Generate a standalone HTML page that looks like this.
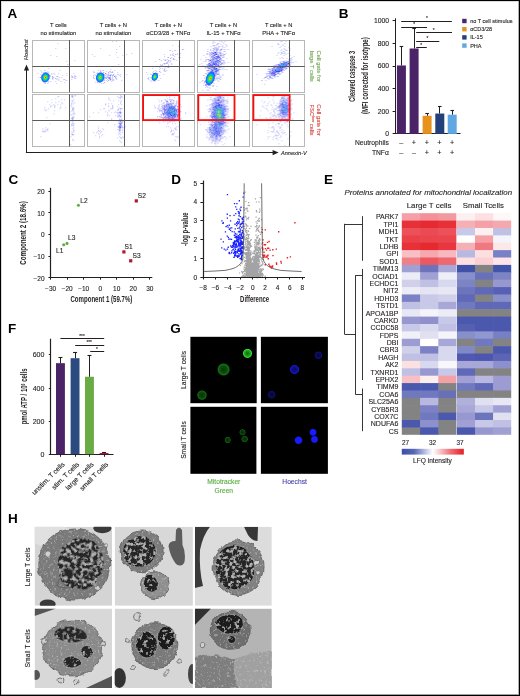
<!DOCTYPE html>
<html><head><meta charset="utf-8"><style>
html,body{margin:0;padding:0;background:#fff;}
body{width:520px;height:696px;overflow:hidden;position:relative;font-family:"Liberation Sans", sans-serif;}
svg{position:absolute;left:0;top:0;display:block;will-change:transform;}
</style></head><body><svg width="520" height="696" viewBox="0 0 520 696" font-family="Liberation Sans, sans-serif"><defs><filter id="sb" x="-2%" y="-2%" width="104%" height="104%"><feGaussianBlur stdDeviation="0.35"/></filter><radialGradient id="bg1"><stop offset="0.00" stop-color="#e61e14" stop-opacity="1.00"/><stop offset="0.10" stop-color="#f9a700" stop-opacity="1.00"/><stop offset="0.20" stop-color="#c6e500" stop-opacity="1.00"/><stop offset="0.30" stop-color="#46e130" stop-opacity="1.00"/><stop offset="0.40" stop-color="#11db7a" stop-opacity="1.00"/><stop offset="0.50" stop-color="#00c8bc" stop-opacity="1.00"/><stop offset="0.60" stop-color="#00a7e8" stop-opacity="1.00"/><stop offset="0.70" stop-color="#0483ff" stop-opacity="1.00"/><stop offset="0.80" stop-color="#0f5eff" stop-opacity="0.90"/><stop offset="0.90" stop-color="#173eff" stop-opacity="0.45"/><stop offset="1.00" stop-color="#1e28ff" stop-opacity="0.00"/></radialGradient><radialGradient id="bg2"><stop offset="0.00" stop-color="#ed530c" stop-opacity="1.00"/><stop offset="0.10" stop-color="#e8be00" stop-opacity="1.00"/><stop offset="0.20" stop-color="#9ee40f" stop-opacity="1.00"/><stop offset="0.30" stop-color="#27e03d" stop-opacity="1.00"/><stop offset="0.40" stop-color="#0ad98d" stop-opacity="1.00"/><stop offset="0.50" stop-color="#00c2c5" stop-opacity="1.00"/><stop offset="0.60" stop-color="#00a2ee" stop-opacity="1.00"/><stop offset="0.70" stop-color="#067fff" stop-opacity="1.00"/><stop offset="0.80" stop-color="#0f5bff" stop-opacity="0.90"/><stop offset="0.90" stop-color="#183cff" stop-opacity="0.45"/><stop offset="1.00" stop-color="#1e28ff" stop-opacity="0.00"/></radialGradient><radialGradient id="bg3"><stop offset="0.00" stop-color="#f58904" stop-opacity="1.00"/><stop offset="0.10" stop-color="#d6d400" stop-opacity="1.00"/><stop offset="0.20" stop-color="#76e31e" stop-opacity="1.00"/><stop offset="0.30" stop-color="#1ede54" stop-opacity="1.00"/><stop offset="0.40" stop-color="#03d7a0" stop-opacity="1.00"/><stop offset="0.50" stop-color="#00bbcd" stop-opacity="1.00"/><stop offset="0.60" stop-color="#009df5" stop-opacity="1.00"/><stop offset="0.70" stop-color="#077aff" stop-opacity="1.00"/><stop offset="0.80" stop-color="#1058ff" stop-opacity="0.90"/><stop offset="0.90" stop-color="#183bff" stop-opacity="0.45"/><stop offset="1.00" stop-color="#1e28ff" stop-opacity="0.00"/></radialGradient><radialGradient id="bg4"><stop offset="0.00" stop-color="#e61e14" stop-opacity="1.00"/><stop offset="0.10" stop-color="#f9a700" stop-opacity="1.00"/><stop offset="0.20" stop-color="#c6e500" stop-opacity="1.00"/><stop offset="0.30" stop-color="#46e130" stop-opacity="1.00"/><stop offset="0.40" stop-color="#11db7a" stop-opacity="1.00"/><stop offset="0.50" stop-color="#00c8bc" stop-opacity="1.00"/><stop offset="0.60" stop-color="#00a7e8" stop-opacity="1.00"/><stop offset="0.70" stop-color="#0483ff" stop-opacity="1.00"/><stop offset="0.80" stop-color="#0f5eff" stop-opacity="0.90"/><stop offset="0.90" stop-color="#173eff" stop-opacity="0.45"/><stop offset="1.00" stop-color="#1e28ff" stop-opacity="0.00"/></radialGradient><linearGradient id="cbar"><stop offset="0" stop-color="#3a4ea8"/><stop offset="0.2" stop-color="#5868b8"/><stop offset="0.5" stop-color="#ffffff"/><stop offset="0.8" stop-color="#ee6a70"/><stop offset="1" stop-color="#e41e26"/></linearGradient><radialGradient id="gl5"><stop offset="0" stop-color="#2ee82e" stop-opacity="0.45"/><stop offset="0.6" stop-color="#2ee82e" stop-opacity="0.70"/><stop offset="0.8" stop-color="#2ee82e" stop-opacity="1.00"/><stop offset="1" stop-color="#2ee82e" stop-opacity="0"/></radialGradient><radialGradient id="gl6"><stop offset="0" stop-color="#1a9a1a" stop-opacity="0.34"/><stop offset="0.6" stop-color="#1a9a1a" stop-opacity="0.52"/><stop offset="0.8" stop-color="#1a9a1a" stop-opacity="0.75"/><stop offset="1" stop-color="#1a9a1a" stop-opacity="0"/></radialGradient><radialGradient id="gl7"><stop offset="0" stop-color="#1a961a" stop-opacity="0.32"/><stop offset="0.6" stop-color="#1a961a" stop-opacity="0.49"/><stop offset="0.8" stop-color="#1a961a" stop-opacity="0.70"/><stop offset="1" stop-color="#1a961a" stop-opacity="0"/></radialGradient><radialGradient id="gl8"><stop offset="0" stop-color="#1414a8" stop-opacity="0.34"/><stop offset="0.6" stop-color="#1414a8" stop-opacity="0.52"/><stop offset="0.8" stop-color="#1414a8" stop-opacity="0.75"/><stop offset="1" stop-color="#1414a8" stop-opacity="0"/></radialGradient><radialGradient id="gl9"><stop offset="0" stop-color="#1818e0" stop-opacity="0.43"/><stop offset="0.6" stop-color="#1818e0" stop-opacity="0.66"/><stop offset="0.8" stop-color="#1818e0" stop-opacity="0.95"/><stop offset="1" stop-color="#1818e0" stop-opacity="0"/></radialGradient><radialGradient id="gl10"><stop offset="0" stop-color="#14149a" stop-opacity="0.32"/><stop offset="0.6" stop-color="#14149a" stop-opacity="0.49"/><stop offset="0.8" stop-color="#14149a" stop-opacity="0.70"/><stop offset="1" stop-color="#14149a" stop-opacity="0"/></radialGradient><radialGradient id="gl11"><stop offset="0" stop-color="#168a16" stop-opacity="0.29"/><stop offset="0.6" stop-color="#168a16" stop-opacity="0.45"/><stop offset="0.8" stop-color="#168a16" stop-opacity="0.65"/><stop offset="1" stop-color="#168a16" stop-opacity="0"/></radialGradient><radialGradient id="gl12"><stop offset="0" stop-color="#168a16" stop-opacity="0.29"/><stop offset="0.6" stop-color="#168a16" stop-opacity="0.45"/><stop offset="0.8" stop-color="#168a16" stop-opacity="0.65"/><stop offset="1" stop-color="#168a16" stop-opacity="0"/></radialGradient><radialGradient id="gl13"><stop offset="0" stop-color="#168a16" stop-opacity="0.29"/><stop offset="0.6" stop-color="#168a16" stop-opacity="0.45"/><stop offset="0.8" stop-color="#168a16" stop-opacity="0.65"/><stop offset="1" stop-color="#168a16" stop-opacity="0"/></radialGradient><radialGradient id="gl14"><stop offset="0" stop-color="#1a1aff" stop-opacity="1.00"/><stop offset="0.7" stop-color="#1a1aff" stop-opacity="1.00"/><stop offset="1" stop-color="#1a1aff" stop-opacity="0"/></radialGradient><radialGradient id="gl15"><stop offset="0" stop-color="#1a1aff" stop-opacity="1.00"/><stop offset="0.7" stop-color="#1a1aff" stop-opacity="1.00"/><stop offset="1" stop-color="#1a1aff" stop-opacity="0"/></radialGradient><radialGradient id="gl16"><stop offset="0" stop-color="#1a1aff" stop-opacity="1.00"/><stop offset="0.7" stop-color="#1a1aff" stop-opacity="1.00"/><stop offset="1" stop-color="#1a1aff" stop-opacity="0"/></radialGradient><filter id="nt" x="-5%" y="-5%" width="110%" height="110%"><feTurbulence type="fractalNoise" baseFrequency="0.28" numOctaves="2" seed="2" result="n"/><feColorMatrix in="n" type="matrix" values="0 0 0 0 0.45  0 0 0 0 0.45  0 0 0 0 0.45  5 0 0 0 -2.4" result="m0"/><feGaussianBlur in="m0" stdDeviation="0.35" result="m"/><feComposite in="m" in2="SourceAlpha" operator="in" result="mm"/><feMerge><feMergeNode in="SourceGraphic"/><feMergeNode in="mm"/></feMerge></filter><filter id="nt2" x="-5%" y="-5%" width="110%" height="110%"><feTurbulence type="fractalNoise" baseFrequency="0.3" numOctaves="2" seed="6" result="n"/><feColorMatrix in="n" type="matrix" values="0 0 0 0 0.42  0 0 0 0 0.42  0 0 0 0 0.42  5 0 0 0 -2.75" result="m0"/><feGaussianBlur in="m0" stdDeviation="0.4" result="m"/><feComposite in="m" in2="SourceAlpha" operator="in" result="mm"/><feMerge><feMergeNode in="SourceGraphic"/><feMergeNode in="mm"/></feMerge></filter><filter id="ct" x="-5%" y="-5%" width="110%" height="110%"><feTurbulence type="fractalNoise" baseFrequency="0.45" numOctaves="2" seed="9" result="n"/><feColorMatrix in="n" type="matrix" values="0 0 0 0 0.66  0 0 0 0 0.66  0 0 0 0 0.66  2.0 0 0 0 -1.15" result="m0"/><feGaussianBlur in="m0" stdDeviation="0.3" result="m"/><feComposite in="m" in2="SourceAlpha" operator="in" result="mm"/><feMerge><feMergeNode in="SourceGraphic"/><feMergeNode in="mm"/></feMerge></filter><filter id="wob" x="-10%" y="-10%" width="120%" height="120%"><feTurbulence type="fractalNoise" baseFrequency="0.12" numOctaves="2" seed="4" result="t"/><feDisplacementMap in="SourceGraphic" in2="t" scale="5" xChannelSelector="R" yChannelSelector="G"/></filter><filter id="wob2" x="-10%" y="-10%" width="120%" height="120%"><feTurbulence type="fractalNoise" baseFrequency="0.07" numOctaves="1" seed="11" result="t"/><feDisplacementMap in="SourceGraphic" in2="t" scale="4" xChannelSelector="R" yChannelSelector="G"/></filter></defs><text x="7.60" y="18.40" font-size="13.5" text-anchor="start" fill="#000" font-weight="bold">A</text><text x="58.45" y="26.60" font-size="5.8" text-anchor="middle" fill="#231f20" stroke="#231f20" stroke-width="0.12">T cells</text><text x="58.45" y="35.10" font-size="5.8" text-anchor="middle" fill="#231f20" stroke="#231f20" stroke-width="0.12">no stimulation</text><text x="113.35" y="26.60" font-size="5.8" text-anchor="middle" fill="#231f20" stroke="#231f20" stroke-width="0.12">T cells + N</text><text x="113.35" y="35.10" font-size="5.8" text-anchor="middle" fill="#231f20" stroke="#231f20" stroke-width="0.12">no stimulation</text><text x="168.35" y="26.60" font-size="5.8" text-anchor="middle" fill="#231f20" stroke="#231f20" stroke-width="0.12">T cells + N</text><text x="168.35" y="35.10" font-size="5.8" text-anchor="middle" fill="#231f20" stroke="#231f20" stroke-width="0.12">αCD3/28 + TNFα</text><text x="223.55" y="26.60" font-size="5.8" text-anchor="middle" fill="#231f20" stroke="#231f20" stroke-width="0.12">T cells + N</text><text x="223.55" y="35.10" font-size="5.8" text-anchor="middle" fill="#231f20" stroke="#231f20" stroke-width="0.12">IL-15 + TNFα</text><text x="278.65" y="26.60" font-size="5.8" text-anchor="middle" fill="#231f20" stroke="#231f20" stroke-width="0.12">T cells + N</text><text x="278.65" y="35.10" font-size="5.8" text-anchor="middle" fill="#231f20" stroke="#231f20" stroke-width="0.12">PHA + TNFα</text><g filter="url(#sb)"><path fill="#c8c8fa" d="M57.3 43.0h1v1h-1zM55.3 48.0h1v1h-1zM65.3 48.0h1v1h-1zM50.3 55.0h1v1h-1zM56.3 56.0h1v1h-1zM74.3 60.0h1v1h-1zM66.3 61.0h1v1h-1zM67.3 64.0h1v1h-1zM41.3 66.0h1v1h-1zM48.3 68.0h1v1h-1zM40.3 70.0h1v1h-1zM59.3 70.0h1v1h-1zM41.3 71.0h1v1h-1zM47.3 71.0h1v1h-1zM41.3 72.0h1v1h-1zM43.3 72.0h1v1h-1zM45.3 72.0h1v1h-1zM48.3 72.0h1v1h-1zM37.3 73.0h1v1h-1zM45.3 73.0h1v1h-1zM51.3 73.0h1v1h-1zM53.3 73.0h1v1h-1zM58.3 73.0h1v1h-1zM66.3 73.0h1v1h-1zM73.3 73.0h1v1h-1zM40.3 74.0h1v1h-1zM43.3 74.0h1v1h-1zM46.3 74.0h1v1h-1zM51.3 74.0h1v1h-1zM54.3 74.0h1v1h-1zM43.3 75.0h1v1h-1zM44.3 75.0h1v1h-1zM47.3 75.0h1v1h-1zM48.3 75.0h1v1h-1zM62.3 75.0h1v1h-1zM66.3 75.0h1v1h-1zM71.3 75.0h1v1h-1zM74.3 75.0h1v1h-1zM41.3 76.0h1v1h-1zM42.3 76.0h1v1h-1zM45.3 76.0h1v1h-1zM46.3 76.0h1v1h-1zM49.3 76.0h1v1h-1zM50.3 76.0h1v1h-1zM56.3 76.0h1v1h-1zM71.3 76.0h1v1h-1zM72.3 76.0h1v1h-1zM74.3 76.0h1v1h-1zM38.3 77.0h1v1h-1zM43.3 77.0h1v1h-1zM48.3 77.0h1v1h-1zM53.3 77.0h1v1h-1zM59.3 77.0h1v1h-1zM61.3 77.0h1v1h-1zM71.3 77.0h1v1h-1zM74.3 77.0h1v1h-1zM44.3 78.0h1v1h-1zM48.3 78.0h1v1h-1zM49.3 78.0h1v1h-1zM57.3 78.0h1v1h-1zM74.3 78.0h1v1h-1zM75.3 78.0h1v1h-1zM52.3 79.0h1v1h-1zM56.3 79.0h1v1h-1zM58.3 79.0h1v1h-1zM63.3 79.0h1v1h-1zM64.3 79.0h1v1h-1zM71.3 79.0h1v1h-1zM46.3 80.0h1v1h-1zM58.3 80.0h1v1h-1zM65.3 80.0h1v1h-1zM66.3 80.0h1v1h-1zM45.3 81.0h1v1h-1zM48.3 81.0h1v1h-1zM50.3 81.0h1v1h-1zM55.3 81.0h1v1h-1zM60.3 81.0h1v1h-1zM43.3 82.0h1v1h-1zM48.3 82.0h1v1h-1zM64.3 82.0h1v1h-1zM44.3 83.0h1v1h-1zM45.3 83.0h1v1h-1zM47.3 83.0h1v1h-1zM56.3 83.0h1v1h-1z"/><path fill="#a0a0f6" d="M44.3 70.0h1v1h-1zM48.3 74.0h1v1h-1zM41.3 75.0h1v1h-1zM46.3 75.0h1v1h-1zM52.3 76.0h1v1h-1zM57.3 76.0h1v1h-1zM75.3 76.0h1v1h-1zM52.3 77.0h1v1h-1zM72.3 77.0h1v1h-1zM43.3 78.0h1v1h-1zM46.3 78.0h1v1h-1zM52.3 78.0h1v1h-1zM55.3 78.0h1v1h-1zM43.3 80.0h1v1h-1zM44.3 81.0h1v1h-1z"/><path fill="#6a6af2" d="M49.3 75.0h1v1h-1zM40.3 77.0h1v1h-1zM44.3 79.0h1v1h-1z"/><ellipse cx="45.40" cy="77.40" rx="4.6" ry="5.6" fill="url(#bg1)" transform="rotate(15 45.40 77.40)"/></g><rect x="32.50" y="40.50" width="52.00" height="52.00" fill="none" stroke="#b8b8b8" stroke-width="1"/><line x1="69.50" y1="40.00" x2="69.50" y2="92.30" stroke="#5a5a5a" stroke-width="1"/><line x1="32.30" y1="66.50" x2="84.60" y2="66.50" stroke="#5a5a5a" stroke-width="1"/><g filter="url(#sb)"><path fill="#c8c8fa" d="M71.3 94.2h1v1h-1zM71.3 95.2h1v1h-1zM74.3 95.2h1v1h-1zM75.3 95.2h1v1h-1zM57.3 96.2h1v1h-1zM58.3 96.2h1v1h-1zM72.3 97.2h1v1h-1zM55.3 98.2h1v1h-1zM51.3 99.2h1v1h-1zM61.3 99.2h1v1h-1zM64.3 99.2h1v1h-1zM73.3 99.2h1v1h-1zM71.3 100.2h1v1h-1zM72.3 100.2h1v1h-1zM47.3 101.2h1v1h-1zM58.3 101.2h1v1h-1zM72.3 101.2h1v1h-1zM51.3 102.2h1v1h-1zM55.3 102.2h1v1h-1zM61.3 102.2h1v1h-1zM71.3 102.2h1v1h-1zM74.3 102.2h1v1h-1zM62.3 103.2h1v1h-1zM71.3 103.2h1v1h-1zM73.3 103.2h1v1h-1zM49.3 104.2h1v1h-1zM53.3 104.2h1v1h-1zM57.3 104.2h1v1h-1zM60.3 104.2h1v1h-1zM71.3 104.2h1v1h-1zM51.3 105.2h1v1h-1zM70.3 105.2h1v1h-1zM54.3 106.2h1v1h-1zM60.3 106.2h1v1h-1zM71.3 106.2h1v1h-1zM44.3 107.2h1v1h-1zM54.3 107.2h1v1h-1zM60.3 107.2h1v1h-1zM65.3 107.2h1v1h-1zM72.3 107.2h1v1h-1zM73.3 107.2h1v1h-1zM48.3 108.2h1v1h-1zM59.3 108.2h1v1h-1zM73.3 108.2h1v1h-1zM44.3 109.2h1v1h-1zM46.3 109.2h1v1h-1zM73.3 109.2h1v1h-1zM45.3 110.2h1v1h-1zM54.3 110.2h1v1h-1zM71.3 110.2h1v1h-1zM72.3 110.2h1v1h-1zM70.3 111.2h1v1h-1zM73.3 111.2h1v1h-1zM73.3 112.2h1v1h-1zM53.3 113.2h1v1h-1zM72.3 113.2h1v1h-1zM70.3 114.2h1v1h-1zM71.3 114.2h1v1h-1zM73.3 114.2h1v1h-1zM72.3 116.2h1v1h-1zM73.3 116.2h1v1h-1zM46.3 117.2h1v1h-1zM71.3 117.2h1v1h-1zM73.3 117.2h1v1h-1zM73.3 120.2h1v1h-1zM72.3 122.2h1v1h-1zM49.3 123.2h1v1h-1zM71.3 123.2h1v1h-1zM72.3 123.2h1v1h-1zM73.3 123.2h1v1h-1zM71.3 124.2h1v1h-1zM73.3 124.2h1v1h-1zM72.3 125.2h1v1h-1zM73.3 125.2h1v1h-1zM45.3 127.2h1v1h-1zM73.3 127.2h1v1h-1zM42.3 128.2h1v1h-1zM47.3 128.2h1v1h-1zM72.3 128.2h1v1h-1zM44.3 129.2h1v1h-1zM46.3 129.2h1v1h-1zM47.3 129.2h1v1h-1zM73.3 129.2h1v1h-1zM42.3 130.2h1v1h-1zM45.3 130.2h1v1h-1zM47.3 130.2h1v1h-1zM42.3 131.2h1v1h-1zM44.3 131.2h1v1h-1zM45.3 131.2h1v1h-1zM71.3 131.2h1v1h-1zM73.3 131.2h1v1h-1zM72.3 132.2h1v1h-1zM71.3 133.2h1v1h-1zM71.3 134.2h1v1h-1zM73.3 134.2h1v1h-1zM40.3 136.2h1v1h-1zM70.3 136.2h1v1h-1zM73.3 140.2h1v1h-1zM70.3 144.2h1v1h-1z"/><path fill="#a0a0f6" d="M72.3 95.2h1v1h-1zM71.3 96.2h1v1h-1zM72.3 96.2h1v1h-1zM54.3 105.2h1v1h-1zM50.3 106.2h1v1h-1zM72.3 108.2h1v1h-1zM72.3 109.2h1v1h-1zM74.3 113.2h1v1h-1zM72.3 117.2h1v1h-1zM71.3 118.2h1v1h-1zM72.3 119.2h1v1h-1zM71.3 120.2h1v1h-1zM71.3 125.2h1v1h-1zM73.3 130.2h1v1h-1zM43.3 131.2h1v1h-1zM72.3 139.2h1v1h-1z"/><path fill="#6a6af2" d="M72.3 118.2h1v1h-1zM72.3 120.2h1v1h-1zM72.3 134.2h1v1h-1z"/></g><rect x="32.50" y="94.50" width="52.00" height="52.00" fill="none" stroke="#b8b8b8" stroke-width="1"/><line x1="69.50" y1="94.20" x2="69.50" y2="146.50" stroke="#5a5a5a" stroke-width="1"/><line x1="32.30" y1="120.50" x2="84.60" y2="120.50" stroke="#5a5a5a" stroke-width="1"/><g filter="url(#sb)"><path fill="#c8c8fa" d="M112.2 41.0h1v1h-1zM116.2 41.0h1v1h-1zM119.2 46.0h1v1h-1zM100.2 48.0h1v1h-1zM116.2 49.0h1v1h-1zM116.2 52.0h1v1h-1zM131.2 53.0h1v1h-1zM92.2 54.0h1v1h-1zM126.2 54.0h1v1h-1zM109.2 55.0h1v1h-1zM122.2 55.0h1v1h-1zM94.2 56.0h1v1h-1zM117.2 57.0h1v1h-1zM118.2 64.0h1v1h-1zM110.2 69.0h1v1h-1zM98.2 70.0h1v1h-1zM100.2 70.0h1v1h-1zM102.2 70.0h1v1h-1zM103.2 70.0h1v1h-1zM114.2 70.0h1v1h-1zM93.2 71.0h1v1h-1zM106.2 71.0h1v1h-1zM109.2 71.0h1v1h-1zM110.2 71.0h1v1h-1zM112.2 71.0h1v1h-1zM93.2 72.0h1v1h-1zM94.2 72.0h1v1h-1zM97.2 72.0h1v1h-1zM110.2 72.0h1v1h-1zM111.2 72.0h1v1h-1zM117.2 72.0h1v1h-1zM96.2 73.0h1v1h-1zM97.2 73.0h1v1h-1zM99.2 73.0h1v1h-1zM100.2 73.0h1v1h-1zM103.2 73.0h1v1h-1zM108.2 73.0h1v1h-1zM94.2 74.0h1v1h-1zM98.2 74.0h1v1h-1zM104.2 74.0h1v1h-1zM106.2 74.0h1v1h-1zM107.2 74.0h1v1h-1zM108.2 74.0h1v1h-1zM110.2 74.0h1v1h-1zM111.2 74.0h1v1h-1zM117.2 74.0h1v1h-1zM118.2 74.0h1v1h-1zM120.2 74.0h1v1h-1zM126.2 74.0h1v1h-1zM93.2 75.0h1v1h-1zM95.2 75.0h1v1h-1zM99.2 75.0h1v1h-1zM101.2 75.0h1v1h-1zM102.2 75.0h1v1h-1zM103.2 75.0h1v1h-1zM104.2 75.0h1v1h-1zM105.2 75.0h1v1h-1zM107.2 75.0h1v1h-1zM108.2 75.0h1v1h-1zM113.2 75.0h1v1h-1zM115.2 75.0h1v1h-1zM119.2 75.0h1v1h-1zM93.2 76.0h1v1h-1zM96.2 76.0h1v1h-1zM97.2 76.0h1v1h-1zM98.2 76.0h1v1h-1zM99.2 76.0h1v1h-1zM102.2 76.0h1v1h-1zM103.2 76.0h1v1h-1zM106.2 76.0h1v1h-1zM107.2 76.0h1v1h-1zM108.2 76.0h1v1h-1zM110.2 76.0h1v1h-1zM112.2 76.0h1v1h-1zM116.2 76.0h1v1h-1zM120.2 76.0h1v1h-1zM93.2 77.0h1v1h-1zM97.2 77.0h1v1h-1zM100.2 77.0h1v1h-1zM103.2 77.0h1v1h-1zM104.2 77.0h1v1h-1zM106.2 77.0h1v1h-1zM107.2 77.0h1v1h-1zM110.2 77.0h1v1h-1zM112.2 77.0h1v1h-1zM93.2 78.0h1v1h-1zM94.2 78.0h1v1h-1zM101.2 78.0h1v1h-1zM103.2 78.0h1v1h-1zM104.2 78.0h1v1h-1zM105.2 78.0h1v1h-1zM112.2 78.0h1v1h-1zM115.2 78.0h1v1h-1zM116.2 78.0h1v1h-1zM96.2 79.0h1v1h-1zM97.2 79.0h1v1h-1zM98.2 79.0h1v1h-1zM100.2 79.0h1v1h-1zM102.2 79.0h1v1h-1zM104.2 79.0h1v1h-1zM107.2 79.0h1v1h-1zM109.2 79.0h1v1h-1zM112.2 79.0h1v1h-1zM113.2 79.0h1v1h-1zM116.2 79.0h1v1h-1zM103.2 80.0h1v1h-1zM104.2 80.0h1v1h-1zM106.2 80.0h1v1h-1zM110.2 80.0h1v1h-1zM112.2 80.0h1v1h-1zM113.2 80.0h1v1h-1zM121.2 80.0h1v1h-1zM100.2 81.0h1v1h-1zM102.2 81.0h1v1h-1zM107.2 81.0h1v1h-1zM111.2 81.0h1v1h-1zM95.2 82.0h1v1h-1zM99.2 82.0h1v1h-1zM100.2 82.0h1v1h-1zM101.2 83.0h1v1h-1zM103.2 83.0h1v1h-1z"/><path fill="#a0a0f6" d="M100.2 71.0h1v1h-1zM103.2 72.0h1v1h-1zM108.2 72.0h1v1h-1zM112.2 72.0h1v1h-1zM113.2 74.0h1v1h-1zM97.2 75.0h1v1h-1zM98.2 75.0h1v1h-1zM109.2 75.0h1v1h-1zM112.2 75.0h1v1h-1zM100.2 76.0h1v1h-1zM98.2 77.0h1v1h-1zM102.2 77.0h1v1h-1zM105.2 77.0h1v1h-1zM108.2 77.0h1v1h-1zM115.2 77.0h1v1h-1zM106.2 78.0h1v1h-1zM108.2 78.0h1v1h-1zM110.2 78.0h1v1h-1zM99.2 79.0h1v1h-1zM101.2 79.0h1v1h-1zM108.2 80.0h1v1h-1zM97.2 82.0h1v1h-1zM104.2 82.0h1v1h-1z"/><path fill="#6a6af2" d="M105.2 73.0h1v1h-1zM103.2 74.0h1v1h-1zM110.2 75.0h1v1h-1zM101.2 76.0h1v1h-1zM114.2 76.0h1v1h-1zM109.2 77.0h1v1h-1zM109.2 78.0h1v1h-1zM110.2 79.0h1v1h-1z"/><ellipse cx="100.20" cy="77.40" rx="4.6" ry="5.6" fill="url(#bg2)" transform="rotate(15 100.20 77.40)"/></g><rect x="87.50" y="40.50" width="52.00" height="52.00" fill="none" stroke="#b8b8b8" stroke-width="1"/><line x1="124.50" y1="40.00" x2="124.50" y2="92.30" stroke="#5a5a5a" stroke-width="1"/><line x1="87.20" y1="66.50" x2="139.50" y2="66.50" stroke="#5a5a5a" stroke-width="1"/><g filter="url(#sb)"><path fill="#c8c8fa" d="M119.2 94.2h1v1h-1zM120.2 94.2h1v1h-1zM122.2 94.2h1v1h-1zM120.2 95.2h1v1h-1zM117.2 96.2h1v1h-1zM120.2 96.2h1v1h-1zM108.2 97.2h1v1h-1zM118.2 97.2h1v1h-1zM119.2 97.2h1v1h-1zM120.2 97.2h1v1h-1zM122.2 97.2h1v1h-1zM109.2 98.2h1v1h-1zM120.2 98.2h1v1h-1zM108.2 99.2h1v1h-1zM110.2 100.2h1v1h-1zM113.2 100.2h1v1h-1zM118.2 100.2h1v1h-1zM121.2 100.2h1v1h-1zM120.2 101.2h1v1h-1zM120.2 102.2h1v1h-1zM105.2 103.2h1v1h-1zM108.2 103.2h1v1h-1zM111.2 103.2h1v1h-1zM120.2 103.2h1v1h-1zM118.2 104.2h1v1h-1zM121.2 104.2h1v1h-1zM108.2 105.2h1v1h-1zM108.2 106.2h1v1h-1zM112.2 106.2h1v1h-1zM117.2 106.2h1v1h-1zM119.2 107.2h1v1h-1zM103.2 108.2h1v1h-1zM104.2 108.2h1v1h-1zM110.2 108.2h1v1h-1zM111.2 108.2h1v1h-1zM112.2 108.2h1v1h-1zM118.2 108.2h1v1h-1zM121.2 108.2h1v1h-1zM122.2 108.2h1v1h-1zM100.2 109.2h1v1h-1zM117.2 109.2h1v1h-1zM108.2 110.2h1v1h-1zM109.2 110.2h1v1h-1zM117.2 110.2h1v1h-1zM120.2 110.2h1v1h-1zM105.2 111.2h1v1h-1zM115.2 111.2h1v1h-1zM119.2 111.2h1v1h-1zM120.2 111.2h1v1h-1zM93.2 112.2h1v1h-1zM98.2 112.2h1v1h-1zM107.2 112.2h1v1h-1zM111.2 112.2h1v1h-1zM114.2 112.2h1v1h-1zM116.2 112.2h1v1h-1zM117.2 112.2h1v1h-1zM121.2 112.2h1v1h-1zM117.2 113.2h1v1h-1zM107.2 114.2h1v1h-1zM118.2 114.2h1v1h-1zM119.2 114.2h1v1h-1zM107.2 115.2h1v1h-1zM109.2 115.2h1v1h-1zM115.2 115.2h1v1h-1zM117.2 115.2h1v1h-1zM118.2 115.2h1v1h-1zM121.2 115.2h1v1h-1zM89.2 116.2h1v1h-1zM117.2 116.2h1v1h-1zM118.2 116.2h1v1h-1zM119.2 116.2h1v1h-1zM111.2 118.2h1v1h-1zM119.2 118.2h1v1h-1zM121.2 118.2h1v1h-1zM111.2 119.2h1v1h-1zM120.2 119.2h1v1h-1zM116.2 120.2h1v1h-1zM120.2 120.2h1v1h-1zM122.2 120.2h1v1h-1zM118.2 121.2h1v1h-1zM119.2 121.2h1v1h-1zM121.2 121.2h1v1h-1zM122.2 121.2h1v1h-1zM107.2 122.2h1v1h-1zM120.2 122.2h1v1h-1zM122.2 122.2h1v1h-1zM114.2 124.2h1v1h-1zM119.2 124.2h1v1h-1zM124.2 125.2h1v1h-1zM98.2 126.2h1v1h-1zM117.2 126.2h1v1h-1zM121.2 126.2h1v1h-1zM122.2 126.2h1v1h-1zM125.2 126.2h1v1h-1zM121.2 127.2h1v1h-1zM122.2 127.2h1v1h-1zM123.2 127.2h1v1h-1zM98.2 128.2h1v1h-1zM102.2 128.2h1v1h-1zM120.2 128.2h1v1h-1zM103.2 129.2h1v1h-1zM117.2 129.2h1v1h-1zM118.2 129.2h1v1h-1zM120.2 129.2h1v1h-1zM122.2 129.2h1v1h-1zM100.2 130.2h1v1h-1zM120.2 130.2h1v1h-1zM122.2 130.2h1v1h-1zM97.2 131.2h1v1h-1zM99.2 131.2h1v1h-1zM101.2 131.2h1v1h-1zM119.2 131.2h1v1h-1zM93.2 132.2h1v1h-1zM96.2 132.2h1v1h-1zM100.2 132.2h1v1h-1zM118.2 132.2h1v1h-1zM120.2 132.2h1v1h-1zM122.2 132.2h1v1h-1zM98.2 133.2h1v1h-1zM119.2 133.2h1v1h-1zM99.2 134.2h1v1h-1zM102.2 134.2h1v1h-1zM118.2 134.2h1v1h-1zM120.2 134.2h1v1h-1zM95.2 135.2h1v1h-1zM101.2 135.2h1v1h-1zM99.2 136.2h1v1h-1zM119.2 136.2h1v1h-1zM122.2 136.2h1v1h-1zM99.2 137.2h1v1h-1zM117.2 137.2h1v1h-1zM121.2 137.2h1v1h-1zM123.2 137.2h1v1h-1zM121.2 138.2h1v1h-1zM119.2 140.2h1v1h-1zM120.2 141.2h1v1h-1zM121.2 142.2h1v1h-1z"/><path fill="#a0a0f6" d="M121.2 96.2h1v1h-1zM105.2 104.2h1v1h-1zM112.2 105.2h1v1h-1zM112.2 107.2h1v1h-1zM118.2 109.2h1v1h-1zM118.2 112.2h1v1h-1zM120.2 113.2h1v1h-1zM119.2 115.2h1v1h-1zM119.2 119.2h1v1h-1zM121.2 119.2h1v1h-1zM119.2 122.2h1v1h-1zM121.2 122.2h1v1h-1zM118.2 123.2h1v1h-1zM121.2 123.2h1v1h-1zM120.2 125.2h1v1h-1zM121.2 125.2h1v1h-1zM118.2 126.2h1v1h-1zM118.2 127.2h1v1h-1zM119.2 128.2h1v1h-1zM119.2 129.2h1v1h-1zM98.2 130.2h1v1h-1zM120.2 137.2h1v1h-1z"/><path fill="#6a6af2" d="M120.2 108.2h1v1h-1zM119.2 112.2h1v1h-1zM120.2 112.2h1v1h-1zM120.2 116.2h1v1h-1zM120.2 121.2h1v1h-1zM119.2 123.2h1v1h-1zM120.2 123.2h1v1h-1zM119.2 125.2h1v1h-1zM119.2 126.2h1v1h-1zM120.2 126.2h1v1h-1zM119.2 127.2h1v1h-1zM120.2 127.2h1v1h-1zM119.2 130.2h1v1h-1z"/><path fill="#3a44f4" d="M120.2 124.2h1v1h-1z"/></g><rect x="87.50" y="94.50" width="52.00" height="52.00" fill="none" stroke="#b8b8b8" stroke-width="1"/><line x1="124.50" y1="94.20" x2="124.50" y2="146.50" stroke="#5a5a5a" stroke-width="1"/><line x1="87.20" y1="120.50" x2="139.50" y2="120.50" stroke="#5a5a5a" stroke-width="1"/><g filter="url(#sb)"><path fill="#c8c8fa" d="M172.2 45.0h1v1h-1zM178.2 46.0h1v1h-1zM183.2 49.0h1v1h-1zM169.2 50.0h1v1h-1zM170.2 50.0h1v1h-1zM174.2 50.0h1v1h-1zM175.2 50.0h1v1h-1zM172.2 51.0h1v1h-1zM173.2 53.0h1v1h-1zM177.2 53.0h1v1h-1zM180.2 53.0h1v1h-1zM164.2 54.0h1v1h-1zM170.2 54.0h1v1h-1zM172.2 54.0h1v1h-1zM177.2 54.0h1v1h-1zM170.2 55.0h1v1h-1zM172.2 55.0h1v1h-1zM173.2 55.0h1v1h-1zM179.2 55.0h1v1h-1zM164.2 56.0h1v1h-1zM174.2 56.0h1v1h-1zM167.2 57.0h1v1h-1zM171.2 57.0h1v1h-1zM178.2 57.0h1v1h-1zM180.2 57.0h1v1h-1zM163.2 59.0h1v1h-1zM165.2 59.0h1v1h-1zM167.2 59.0h1v1h-1zM174.2 59.0h1v1h-1zM161.2 60.0h1v1h-1zM164.2 60.0h1v1h-1zM170.2 60.0h1v1h-1zM176.2 60.0h1v1h-1zM155.2 61.0h1v1h-1zM167.2 61.0h1v1h-1zM168.2 61.0h1v1h-1zM170.2 61.0h1v1h-1zM166.2 62.0h1v1h-1zM167.2 62.0h1v1h-1zM169.2 62.0h1v1h-1zM163.2 63.0h1v1h-1zM165.2 63.0h1v1h-1zM167.2 63.0h1v1h-1zM171.2 63.0h1v1h-1zM160.2 64.0h1v1h-1zM162.2 64.0h1v1h-1zM164.2 64.0h1v1h-1zM168.2 64.0h1v1h-1zM171.2 64.0h1v1h-1zM160.2 65.0h1v1h-1zM161.2 65.0h1v1h-1zM162.2 65.0h1v1h-1zM168.2 65.0h1v1h-1zM164.2 66.0h1v1h-1zM159.2 67.0h1v1h-1zM165.2 67.0h1v1h-1zM167.2 67.0h1v1h-1zM152.2 68.0h1v1h-1zM160.2 68.0h1v1h-1zM162.2 68.0h1v1h-1zM164.2 68.0h1v1h-1zM159.2 69.0h1v1h-1zM155.2 70.0h1v1h-1zM163.2 70.0h1v1h-1zM164.2 70.0h1v1h-1zM166.2 70.0h1v1h-1zM153.2 71.0h1v1h-1zM156.2 71.0h1v1h-1zM164.2 71.0h1v1h-1zM165.2 71.0h1v1h-1zM146.2 72.0h1v1h-1zM152.2 72.0h1v1h-1zM155.2 72.0h1v1h-1zM160.2 72.0h1v1h-1zM147.2 74.0h1v1h-1zM150.2 74.0h1v1h-1zM151.2 74.0h1v1h-1zM153.2 74.0h1v1h-1zM163.2 74.0h1v1h-1zM152.2 75.0h1v1h-1zM159.2 75.0h1v1h-1zM152.2 76.0h1v1h-1zM153.2 76.0h1v1h-1zM148.2 77.0h1v1h-1zM150.2 77.0h1v1h-1zM153.2 77.0h1v1h-1zM147.2 78.0h1v1h-1zM148.2 78.0h1v1h-1zM154.2 78.0h1v1h-1zM156.2 78.0h1v1h-1zM160.2 78.0h1v1h-1zM148.2 79.0h1v1h-1zM154.2 79.0h1v1h-1zM155.2 79.0h1v1h-1zM150.2 80.0h1v1h-1zM155.2 80.0h1v1h-1zM158.2 80.0h1v1h-1zM151.2 81.0h1v1h-1zM154.2 81.0h1v1h-1z"/><path fill="#a0a0f6" d="M182.2 49.0h1v1h-1zM175.2 54.0h1v1h-1zM168.2 57.0h1v1h-1zM170.2 58.0h1v1h-1zM173.2 58.0h1v1h-1zM159.2 59.0h1v1h-1zM173.2 59.0h1v1h-1zM165.2 60.0h1v1h-1zM168.2 60.0h1v1h-1zM164.2 63.0h1v1h-1zM166.2 63.0h1v1h-1zM162.2 66.0h1v1h-1zM168.2 67.0h1v1h-1zM164.2 69.0h1v1h-1zM159.2 71.0h1v1h-1zM157.2 73.0h1v1h-1zM153.2 75.0h1v1h-1zM154.2 76.0h1v1h-1z"/><path fill="#6a6af2" d="M153.2 73.0h1v1h-1zM154.2 73.0h1v1h-1zM156.2 74.0h1v1h-1zM156.2 75.0h1v1h-1zM155.2 76.0h1v1h-1z"/><ellipse cx="154.80" cy="76.80" rx="3.4" ry="4.6" fill="url(#bg3)" transform="rotate(22 154.80 76.80)"/></g><rect x="142.50" y="40.50" width="52.00" height="52.00" fill="none" stroke="#b8b8b8" stroke-width="1"/><line x1="179.50" y1="40.00" x2="179.50" y2="92.30" stroke="#5a5a5a" stroke-width="1"/><line x1="142.20" y1="66.50" x2="194.50" y2="66.50" stroke="#5a5a5a" stroke-width="1"/><g filter="url(#sb)"><path fill="#c8c8fa" d="M166.2 96.2h1v1h-1zM169.2 96.2h1v1h-1zM169.2 97.2h1v1h-1zM174.2 97.2h1v1h-1zM167.2 98.2h1v1h-1zM158.2 99.2h1v1h-1zM164.2 99.2h1v1h-1zM165.2 99.2h1v1h-1zM170.2 99.2h1v1h-1zM171.2 99.2h1v1h-1zM172.2 99.2h1v1h-1zM165.2 100.2h1v1h-1zM166.2 100.2h1v1h-1zM167.2 100.2h1v1h-1zM170.2 100.2h1v1h-1zM171.2 100.2h1v1h-1zM176.2 100.2h1v1h-1zM159.2 101.2h1v1h-1zM161.2 101.2h1v1h-1zM174.2 101.2h1v1h-1zM176.2 101.2h1v1h-1zM177.2 101.2h1v1h-1zM163.2 102.2h1v1h-1zM164.2 102.2h1v1h-1zM166.2 102.2h1v1h-1zM168.2 102.2h1v1h-1zM171.2 102.2h1v1h-1zM172.2 102.2h1v1h-1zM173.2 102.2h1v1h-1zM162.2 103.2h1v1h-1zM163.2 103.2h1v1h-1zM175.2 103.2h1v1h-1zM176.2 103.2h1v1h-1zM177.2 103.2h1v1h-1zM159.2 104.2h1v1h-1zM161.2 104.2h1v1h-1zM164.2 104.2h1v1h-1zM174.2 104.2h1v1h-1zM176.2 104.2h1v1h-1zM180.2 104.2h1v1h-1zM154.2 105.2h1v1h-1zM158.2 105.2h1v1h-1zM165.2 105.2h1v1h-1zM170.2 105.2h1v1h-1zM176.2 105.2h1v1h-1zM179.2 105.2h1v1h-1zM159.2 106.2h1v1h-1zM162.2 106.2h1v1h-1zM163.2 106.2h1v1h-1zM175.2 106.2h1v1h-1zM181.2 106.2h1v1h-1zM154.2 107.2h1v1h-1zM155.2 107.2h1v1h-1zM158.2 107.2h1v1h-1zM177.2 107.2h1v1h-1zM157.2 108.2h1v1h-1zM158.2 108.2h1v1h-1zM160.2 108.2h1v1h-1zM161.2 108.2h1v1h-1zM162.2 108.2h1v1h-1zM177.2 108.2h1v1h-1zM179.2 108.2h1v1h-1zM158.2 109.2h1v1h-1zM159.2 109.2h1v1h-1zM179.2 109.2h1v1h-1zM162.2 110.2h1v1h-1zM166.2 110.2h1v1h-1zM179.2 110.2h1v1h-1zM157.2 111.2h1v1h-1zM159.2 111.2h1v1h-1zM161.2 111.2h1v1h-1zM162.2 111.2h1v1h-1zM163.2 111.2h1v1h-1zM165.2 111.2h1v1h-1zM175.2 111.2h1v1h-1zM179.2 111.2h1v1h-1zM179.2 112.2h1v1h-1zM185.2 112.2h1v1h-1zM177.2 113.2h1v1h-1zM179.2 113.2h1v1h-1zM185.2 113.2h1v1h-1zM160.2 114.2h1v1h-1zM165.2 114.2h1v1h-1zM161.2 115.2h1v1h-1zM166.2 115.2h1v1h-1zM176.2 115.2h1v1h-1zM178.2 115.2h1v1h-1zM160.2 116.2h1v1h-1zM161.2 116.2h1v1h-1zM166.2 116.2h1v1h-1zM167.2 116.2h1v1h-1zM171.2 116.2h1v1h-1zM176.2 116.2h1v1h-1zM160.2 117.2h1v1h-1zM161.2 117.2h1v1h-1zM175.2 117.2h1v1h-1zM176.2 117.2h1v1h-1zM162.2 118.2h1v1h-1zM164.2 118.2h1v1h-1zM167.2 118.2h1v1h-1zM174.2 118.2h1v1h-1zM175.2 118.2h1v1h-1zM176.2 118.2h1v1h-1zM177.2 118.2h1v1h-1zM179.2 118.2h1v1h-1zM181.2 118.2h1v1h-1zM166.2 119.2h1v1h-1zM167.2 119.2h1v1h-1zM168.2 119.2h1v1h-1zM180.2 119.2h1v1h-1zM157.2 120.2h1v1h-1zM163.2 120.2h1v1h-1zM170.2 120.2h1v1h-1zM176.2 120.2h1v1h-1zM163.2 121.2h1v1h-1zM167.2 121.2h1v1h-1zM169.2 121.2h1v1h-1zM170.2 121.2h1v1h-1zM172.2 121.2h1v1h-1zM174.2 121.2h1v1h-1zM178.2 121.2h1v1h-1zM159.2 122.2h1v1h-1zM168.2 122.2h1v1h-1zM167.2 123.2h1v1h-1zM172.2 123.2h1v1h-1zM175.2 123.2h1v1h-1zM166.2 126.2h1v1h-1zM168.2 126.2h1v1h-1zM176.2 126.2h1v1h-1zM178.2 126.2h1v1h-1zM170.2 127.2h1v1h-1zM175.2 127.2h1v1h-1zM174.2 128.2h1v1h-1zM175.2 128.2h1v1h-1zM171.2 129.2h1v1h-1zM175.2 129.2h1v1h-1zM176.2 129.2h1v1h-1zM171.2 130.2h1v1h-1zM173.2 130.2h1v1h-1zM170.2 131.2h1v1h-1zM171.2 131.2h1v1h-1zM174.2 132.2h1v1h-1zM173.2 133.2h1v1h-1zM171.2 134.2h1v1h-1zM172.2 134.2h1v1h-1zM173.2 134.2h1v1h-1zM175.2 136.2h1v1h-1zM176.2 136.2h1v1h-1zM178.2 136.2h1v1h-1zM177.2 137.2h1v1h-1zM174.2 139.2h1v1h-1zM175.2 140.2h1v1h-1z"/><path fill="#a0a0f6" d="M169.2 99.2h1v1h-1zM161.2 100.2h1v1h-1zM176.2 102.2h1v1h-1zM166.2 103.2h1v1h-1zM167.2 103.2h1v1h-1zM168.2 103.2h1v1h-1zM169.2 103.2h1v1h-1zM171.2 103.2h1v1h-1zM172.2 103.2h1v1h-1zM173.2 103.2h1v1h-1zM165.2 104.2h1v1h-1zM166.2 104.2h1v1h-1zM169.2 104.2h1v1h-1zM170.2 104.2h1v1h-1zM171.2 104.2h1v1h-1zM162.2 105.2h1v1h-1zM163.2 105.2h1v1h-1zM167.2 105.2h1v1h-1zM168.2 105.2h1v1h-1zM169.2 105.2h1v1h-1zM172.2 105.2h1v1h-1zM174.2 105.2h1v1h-1zM161.2 106.2h1v1h-1zM165.2 106.2h1v1h-1zM167.2 106.2h1v1h-1zM162.2 107.2h1v1h-1zM163.2 107.2h1v1h-1zM164.2 107.2h1v1h-1zM165.2 107.2h1v1h-1zM166.2 107.2h1v1h-1zM167.2 107.2h1v1h-1zM168.2 107.2h1v1h-1zM166.2 108.2h1v1h-1zM167.2 108.2h1v1h-1zM162.2 109.2h1v1h-1zM163.2 109.2h1v1h-1zM159.2 110.2h1v1h-1zM160.2 110.2h1v1h-1zM161.2 110.2h1v1h-1zM178.2 110.2h1v1h-1zM177.2 111.2h1v1h-1zM180.2 111.2h1v1h-1zM162.2 112.2h1v1h-1zM176.2 112.2h1v1h-1zM177.2 112.2h1v1h-1zM164.2 113.2h1v1h-1zM176.2 113.2h1v1h-1zM161.2 114.2h1v1h-1zM164.2 114.2h1v1h-1zM163.2 115.2h1v1h-1zM165.2 115.2h1v1h-1zM169.2 115.2h1v1h-1zM157.2 116.2h1v1h-1zM159.2 116.2h1v1h-1zM164.2 116.2h1v1h-1zM170.2 116.2h1v1h-1zM162.2 117.2h1v1h-1zM163.2 117.2h1v1h-1zM165.2 117.2h1v1h-1zM169.2 117.2h1v1h-1zM173.2 117.2h1v1h-1zM177.2 117.2h1v1h-1zM163.2 118.2h1v1h-1zM165.2 118.2h1v1h-1zM166.2 118.2h1v1h-1zM170.2 118.2h1v1h-1zM171.2 118.2h1v1h-1zM159.2 119.2h1v1h-1zM163.2 119.2h1v1h-1zM165.2 119.2h1v1h-1zM169.2 119.2h1v1h-1zM171.2 119.2h1v1h-1zM174.2 119.2h1v1h-1zM165.2 120.2h1v1h-1zM169.2 120.2h1v1h-1zM171.2 120.2h1v1h-1zM172.2 120.2h1v1h-1zM173.2 120.2h1v1h-1zM172.2 133.2h1v1h-1z"/><path fill="#6a6af2" d="M173.2 100.2h1v1h-1zM166.2 101.2h1v1h-1zM167.2 101.2h1v1h-1zM170.2 101.2h1v1h-1zM170.2 103.2h1v1h-1zM167.2 104.2h1v1h-1zM164.2 105.2h1v1h-1zM171.2 105.2h1v1h-1zM175.2 105.2h1v1h-1zM164.2 106.2h1v1h-1zM166.2 106.2h1v1h-1zM168.2 106.2h1v1h-1zM170.2 106.2h1v1h-1zM173.2 106.2h1v1h-1zM174.2 106.2h1v1h-1zM177.2 106.2h1v1h-1zM170.2 107.2h1v1h-1zM172.2 107.2h1v1h-1zM163.2 108.2h1v1h-1zM175.2 108.2h1v1h-1zM164.2 109.2h1v1h-1zM165.2 109.2h1v1h-1zM167.2 109.2h1v1h-1zM168.2 109.2h1v1h-1zM169.2 109.2h1v1h-1zM171.2 109.2h1v1h-1zM175.2 109.2h1v1h-1zM176.2 109.2h1v1h-1zM177.2 109.2h1v1h-1zM178.2 109.2h1v1h-1zM165.2 110.2h1v1h-1zM167.2 110.2h1v1h-1zM168.2 110.2h1v1h-1zM175.2 110.2h1v1h-1zM176.2 110.2h1v1h-1zM164.2 111.2h1v1h-1zM166.2 111.2h1v1h-1zM178.2 111.2h1v1h-1zM165.2 112.2h1v1h-1zM175.2 112.2h1v1h-1zM162.2 113.2h1v1h-1zM166.2 113.2h1v1h-1zM163.2 114.2h1v1h-1zM166.2 114.2h1v1h-1zM167.2 114.2h1v1h-1zM168.2 114.2h1v1h-1zM175.2 114.2h1v1h-1zM176.2 114.2h1v1h-1zM177.2 114.2h1v1h-1zM178.2 114.2h1v1h-1zM168.2 115.2h1v1h-1zM174.2 115.2h1v1h-1zM175.2 115.2h1v1h-1zM177.2 115.2h1v1h-1zM165.2 116.2h1v1h-1zM173.2 116.2h1v1h-1zM175.2 116.2h1v1h-1zM177.2 116.2h1v1h-1zM164.2 117.2h1v1h-1zM166.2 117.2h1v1h-1zM167.2 117.2h1v1h-1zM168.2 117.2h1v1h-1zM170.2 117.2h1v1h-1zM172.2 117.2h1v1h-1zM174.2 117.2h1v1h-1zM168.2 118.2h1v1h-1zM169.2 118.2h1v1h-1zM172.2 118.2h1v1h-1zM172.2 119.2h1v1h-1zM175.2 119.2h1v1h-1zM174.2 120.2h1v1h-1z"/><path fill="#3a44f4" d="M168.2 104.2h1v1h-1zM171.2 106.2h1v1h-1zM171.2 107.2h1v1h-1zM173.2 107.2h1v1h-1zM174.2 107.2h1v1h-1zM164.2 108.2h1v1h-1zM168.2 108.2h1v1h-1zM169.2 108.2h1v1h-1zM170.2 108.2h1v1h-1zM173.2 108.2h1v1h-1zM174.2 109.2h1v1h-1zM164.2 110.2h1v1h-1zM170.2 110.2h1v1h-1zM174.2 110.2h1v1h-1zM167.2 111.2h1v1h-1zM169.2 111.2h1v1h-1zM174.2 111.2h1v1h-1zM176.2 111.2h1v1h-1zM164.2 112.2h1v1h-1zM169.2 112.2h1v1h-1zM170.2 112.2h1v1h-1zM163.2 113.2h1v1h-1zM167.2 113.2h1v1h-1zM169.2 113.2h1v1h-1zM172.2 113.2h1v1h-1zM174.2 113.2h1v1h-1zM171.2 114.2h1v1h-1zM173.2 114.2h1v1h-1zM174.2 114.2h1v1h-1zM167.2 115.2h1v1h-1zM170.2 115.2h1v1h-1zM171.2 115.2h1v1h-1zM173.2 115.2h1v1h-1zM168.2 116.2h1v1h-1zM169.2 116.2h1v1h-1zM172.2 116.2h1v1h-1zM174.2 116.2h1v1h-1zM171.2 117.2h1v1h-1z"/><path fill="#2060f8" d="M166.2 105.2h1v1h-1zM169.2 106.2h1v1h-1zM172.2 106.2h1v1h-1zM169.2 107.2h1v1h-1zM171.2 108.2h1v1h-1zM172.2 108.2h1v1h-1zM166.2 109.2h1v1h-1zM172.2 109.2h1v1h-1zM169.2 110.2h1v1h-1zM171.2 111.2h1v1h-1zM172.2 111.2h1v1h-1zM166.2 112.2h1v1h-1zM167.2 112.2h1v1h-1zM168.2 112.2h1v1h-1zM171.2 112.2h1v1h-1zM168.2 113.2h1v1h-1zM170.2 113.2h1v1h-1zM175.2 113.2h1v1h-1zM169.2 114.2h1v1h-1zM170.2 114.2h1v1h-1zM172.2 115.2h1v1h-1zM173.2 118.2h1v1h-1z"/><path fill="#0090f0" d="M174.2 108.2h1v1h-1zM170.2 109.2h1v1h-1zM173.2 110.2h1v1h-1zM168.2 111.2h1v1h-1zM173.2 111.2h1v1h-1zM172.2 112.2h1v1h-1zM174.2 112.2h1v1h-1zM165.2 113.2h1v1h-1z"/><path fill="#10b0a0" d="M173.2 109.2h1v1h-1zM171.2 110.2h1v1h-1zM170.2 111.2h1v1h-1zM173.2 112.2h1v1h-1zM171.2 113.2h1v1h-1zM173.2 113.2h1v1h-1zM172.2 114.2h1v1h-1z"/><path fill="#40c050" d="M172.2 110.2h1v1h-1z"/></g><rect x="142.50" y="94.50" width="52.00" height="52.00" fill="none" stroke="#b8b8b8" stroke-width="1"/><line x1="179.50" y1="94.20" x2="179.50" y2="146.50" stroke="#5a5a5a" stroke-width="1"/><line x1="142.20" y1="120.50" x2="194.50" y2="120.50" stroke="#5a5a5a" stroke-width="1"/><rect x="143.10" y="95.10" width="36.20" height="25.00" fill="none" stroke="#f80c0c" stroke-width="1.8"/><g filter="url(#sb)"><path fill="#c8c8fa" d="M212.4 40.0h1v1h-1zM220.4 40.0h1v1h-1zM213.4 41.0h1v1h-1zM219.4 41.0h1v1h-1zM221.4 41.0h1v1h-1zM224.4 41.0h1v1h-1zM212.4 42.0h1v1h-1zM214.4 42.0h1v1h-1zM222.4 42.0h1v1h-1zM212.4 43.0h1v1h-1zM218.4 43.0h1v1h-1zM223.4 43.0h1v1h-1zM216.4 44.0h1v1h-1zM217.4 44.0h1v1h-1zM220.4 44.0h1v1h-1zM225.4 44.0h1v1h-1zM212.4 45.0h1v1h-1zM213.4 45.0h1v1h-1zM216.4 45.0h1v1h-1zM222.4 45.0h1v1h-1zM226.4 45.0h1v1h-1zM210.4 46.0h1v1h-1zM213.4 46.0h1v1h-1zM220.4 46.0h1v1h-1zM222.4 46.0h1v1h-1zM226.4 46.0h1v1h-1zM214.4 47.0h1v1h-1zM215.4 47.0h1v1h-1zM216.4 47.0h1v1h-1zM218.4 47.0h1v1h-1zM222.4 47.0h1v1h-1zM224.4 47.0h1v1h-1zM212.4 48.0h1v1h-1zM214.4 48.0h1v1h-1zM215.4 48.0h1v1h-1zM216.4 48.0h1v1h-1zM221.4 48.0h1v1h-1zM207.4 49.0h1v1h-1zM210.4 49.0h1v1h-1zM213.4 49.0h1v1h-1zM217.4 49.0h1v1h-1zM218.4 49.0h1v1h-1zM223.4 49.0h1v1h-1zM224.4 49.0h1v1h-1zM226.4 49.0h1v1h-1zM228.4 49.0h1v1h-1zM212.4 50.0h1v1h-1zM213.4 50.0h1v1h-1zM215.4 50.0h1v1h-1zM217.4 50.0h1v1h-1zM219.4 50.0h1v1h-1zM215.4 51.0h1v1h-1zM219.4 51.0h1v1h-1zM223.4 51.0h1v1h-1zM213.4 52.0h1v1h-1zM216.4 52.0h1v1h-1zM217.4 52.0h1v1h-1zM218.4 52.0h1v1h-1zM219.4 52.0h1v1h-1zM206.4 53.0h1v1h-1zM207.4 53.0h1v1h-1zM209.4 53.0h1v1h-1zM210.4 53.0h1v1h-1zM211.4 53.0h1v1h-1zM217.4 53.0h1v1h-1zM222.4 53.0h1v1h-1zM225.4 53.0h1v1h-1zM206.4 54.0h1v1h-1zM207.4 54.0h1v1h-1zM210.4 54.0h1v1h-1zM222.4 54.0h1v1h-1zM223.4 54.0h1v1h-1zM203.4 55.0h1v1h-1zM209.4 55.0h1v1h-1zM210.4 55.0h1v1h-1zM219.4 55.0h1v1h-1zM221.4 55.0h1v1h-1zM222.4 55.0h1v1h-1zM223.4 55.0h1v1h-1zM209.4 56.0h1v1h-1zM221.4 56.0h1v1h-1zM223.4 56.0h1v1h-1zM205.4 57.0h1v1h-1zM210.4 57.0h1v1h-1zM220.4 57.0h1v1h-1zM223.4 57.0h1v1h-1zM210.4 58.0h1v1h-1zM219.4 58.0h1v1h-1zM226.4 58.0h1v1h-1zM200.4 59.0h1v1h-1zM205.4 59.0h1v1h-1zM206.4 59.0h1v1h-1zM214.4 59.0h1v1h-1zM217.4 59.0h1v1h-1zM220.4 59.0h1v1h-1zM221.4 59.0h1v1h-1zM205.4 60.0h1v1h-1zM208.4 60.0h1v1h-1zM211.4 60.0h1v1h-1zM213.4 60.0h1v1h-1zM214.4 60.0h1v1h-1zM219.4 60.0h1v1h-1zM220.4 60.0h1v1h-1zM221.4 60.0h1v1h-1zM222.4 60.0h1v1h-1zM203.4 61.0h1v1h-1zM205.4 61.0h1v1h-1zM208.4 61.0h1v1h-1zM209.4 61.0h1v1h-1zM210.4 61.0h1v1h-1zM220.4 61.0h1v1h-1zM223.4 61.0h1v1h-1zM209.4 62.0h1v1h-1zM214.4 62.0h1v1h-1zM216.4 62.0h1v1h-1zM218.4 62.0h1v1h-1zM222.4 62.0h1v1h-1zM223.4 62.0h1v1h-1zM224.4 62.0h1v1h-1zM227.4 62.0h1v1h-1zM201.4 63.0h1v1h-1zM210.4 63.0h1v1h-1zM220.4 63.0h1v1h-1zM224.4 63.0h1v1h-1zM199.4 64.0h1v1h-1zM206.4 64.0h1v1h-1zM221.4 64.0h1v1h-1zM223.4 64.0h1v1h-1zM202.4 65.0h1v1h-1zM206.4 65.0h1v1h-1zM214.4 65.0h1v1h-1zM216.4 65.0h1v1h-1zM220.4 65.0h1v1h-1zM214.4 66.0h1v1h-1zM223.4 66.0h1v1h-1zM204.4 67.0h1v1h-1zM208.4 67.0h1v1h-1zM215.4 67.0h1v1h-1zM216.4 67.0h1v1h-1zM220.4 67.0h1v1h-1zM221.4 67.0h1v1h-1zM223.4 67.0h1v1h-1zM205.4 68.0h1v1h-1zM207.4 68.0h1v1h-1zM210.4 68.0h1v1h-1zM211.4 68.0h1v1h-1zM218.4 68.0h1v1h-1zM222.4 68.0h1v1h-1zM208.4 69.0h1v1h-1zM212.4 69.0h1v1h-1zM220.4 69.0h1v1h-1zM222.4 69.0h1v1h-1zM224.4 69.0h1v1h-1zM226.4 69.0h1v1h-1zM210.4 70.0h1v1h-1zM214.4 70.0h1v1h-1zM218.4 70.0h1v1h-1zM207.4 71.0h1v1h-1zM209.4 71.0h1v1h-1zM213.4 71.0h1v1h-1zM218.4 71.0h1v1h-1zM207.4 72.0h1v1h-1zM209.4 72.0h1v1h-1zM214.4 72.0h1v1h-1zM218.4 72.0h1v1h-1zM206.4 73.0h1v1h-1zM208.4 73.0h1v1h-1zM211.4 73.0h1v1h-1zM217.4 73.0h1v1h-1zM218.4 73.0h1v1h-1zM206.4 74.0h1v1h-1zM215.4 74.0h1v1h-1zM222.4 74.0h1v1h-1zM219.4 75.0h1v1h-1zM222.4 75.0h1v1h-1zM205.4 76.0h1v1h-1zM206.4 76.0h1v1h-1zM207.4 76.0h1v1h-1zM209.4 76.0h1v1h-1zM210.4 76.0h1v1h-1zM213.4 76.0h1v1h-1zM214.4 76.0h1v1h-1zM215.4 76.0h1v1h-1zM218.4 76.0h1v1h-1zM220.4 76.0h1v1h-1zM204.4 77.0h1v1h-1zM206.4 77.0h1v1h-1zM214.4 77.0h1v1h-1zM216.4 77.0h1v1h-1zM217.4 77.0h1v1h-1zM219.4 77.0h1v1h-1zM220.4 77.0h1v1h-1zM204.4 78.0h1v1h-1zM206.4 78.0h1v1h-1zM207.4 78.0h1v1h-1zM209.4 78.0h1v1h-1zM210.4 78.0h1v1h-1zM211.4 78.0h1v1h-1zM217.4 78.0h1v1h-1zM218.4 78.0h1v1h-1zM219.4 78.0h1v1h-1zM206.4 79.0h1v1h-1zM208.4 79.0h1v1h-1zM213.4 79.0h1v1h-1zM216.4 79.0h1v1h-1zM219.4 79.0h1v1h-1zM220.4 79.0h1v1h-1zM206.4 80.0h1v1h-1zM208.4 80.0h1v1h-1zM211.4 80.0h1v1h-1zM214.4 80.0h1v1h-1zM217.4 80.0h1v1h-1zM201.4 81.0h1v1h-1zM205.4 81.0h1v1h-1zM206.4 81.0h1v1h-1zM218.4 81.0h1v1h-1zM199.4 82.0h1v1h-1zM206.4 82.0h1v1h-1zM207.4 82.0h1v1h-1zM208.4 82.0h1v1h-1zM209.4 82.0h1v1h-1zM210.4 82.0h1v1h-1zM211.4 82.0h1v1h-1zM212.4 82.0h1v1h-1zM203.4 83.0h1v1h-1zM208.4 83.0h1v1h-1zM210.4 83.0h1v1h-1zM211.4 83.0h1v1h-1zM213.4 83.0h1v1h-1zM207.4 84.0h1v1h-1zM208.4 84.0h1v1h-1zM209.4 84.0h1v1h-1zM203.4 85.0h1v1h-1zM209.4 85.0h1v1h-1zM210.4 85.0h1v1h-1zM212.4 85.0h1v1h-1zM213.4 85.0h1v1h-1zM216.4 86.0h1v1h-1zM205.4 87.0h1v1h-1zM207.4 87.0h1v1h-1zM209.4 87.0h1v1h-1zM209.4 88.0h1v1h-1zM207.4 89.0h1v1h-1zM215.4 89.0h1v1h-1zM202.4 90.0h1v1h-1zM206.4 90.0h1v1h-1zM208.4 90.0h1v1h-1z"/><path fill="#a0a0f6" d="M217.4 43.0h1v1h-1zM214.4 45.0h1v1h-1zM218.4 46.0h1v1h-1zM213.4 48.0h1v1h-1zM217.4 48.0h1v1h-1zM214.4 49.0h1v1h-1zM220.4 49.0h1v1h-1zM221.4 49.0h1v1h-1zM210.4 50.0h1v1h-1zM216.4 50.0h1v1h-1zM220.4 50.0h1v1h-1zM207.4 51.0h1v1h-1zM213.4 51.0h1v1h-1zM216.4 51.0h1v1h-1zM224.4 51.0h1v1h-1zM209.4 52.0h1v1h-1zM212.4 52.0h1v1h-1zM220.4 52.0h1v1h-1zM214.4 53.0h1v1h-1zM216.4 53.0h1v1h-1zM219.4 53.0h1v1h-1zM220.4 53.0h1v1h-1zM209.4 54.0h1v1h-1zM213.4 54.0h1v1h-1zM218.4 54.0h1v1h-1zM220.4 54.0h1v1h-1zM224.4 54.0h1v1h-1zM212.4 55.0h1v1h-1zM217.4 55.0h1v1h-1zM218.4 55.0h1v1h-1zM212.4 56.0h1v1h-1zM213.4 56.0h1v1h-1zM219.4 56.0h1v1h-1zM211.4 57.0h1v1h-1zM212.4 57.0h1v1h-1zM222.4 57.0h1v1h-1zM213.4 58.0h1v1h-1zM214.4 58.0h1v1h-1zM217.4 58.0h1v1h-1zM218.4 58.0h1v1h-1zM207.4 59.0h1v1h-1zM208.4 59.0h1v1h-1zM210.4 59.0h1v1h-1zM211.4 59.0h1v1h-1zM212.4 59.0h1v1h-1zM215.4 59.0h1v1h-1zM215.4 60.0h1v1h-1zM223.4 60.0h1v1h-1zM212.4 61.0h1v1h-1zM213.4 61.0h1v1h-1zM217.4 61.0h1v1h-1zM218.4 61.0h1v1h-1zM210.4 62.0h1v1h-1zM212.4 62.0h1v1h-1zM219.4 62.0h1v1h-1zM220.4 62.0h1v1h-1zM211.4 63.0h1v1h-1zM222.4 63.0h1v1h-1zM207.4 64.0h1v1h-1zM208.4 64.0h1v1h-1zM211.4 64.0h1v1h-1zM217.4 64.0h1v1h-1zM218.4 64.0h1v1h-1zM207.4 65.0h1v1h-1zM206.4 66.0h1v1h-1zM207.4 66.0h1v1h-1zM212.4 66.0h1v1h-1zM217.4 66.0h1v1h-1zM205.4 67.0h1v1h-1zM209.4 67.0h1v1h-1zM210.4 67.0h1v1h-1zM218.4 67.0h1v1h-1zM219.4 67.0h1v1h-1zM212.4 68.0h1v1h-1zM210.4 69.0h1v1h-1zM217.4 69.0h1v1h-1zM219.4 69.0h1v1h-1zM206.4 70.0h1v1h-1zM207.4 70.0h1v1h-1zM213.4 70.0h1v1h-1zM217.4 71.0h1v1h-1zM208.4 72.0h1v1h-1zM211.4 72.0h1v1h-1zM216.4 72.0h1v1h-1zM205.4 73.0h1v1h-1zM209.4 73.0h1v1h-1zM214.4 73.0h1v1h-1zM216.4 73.0h1v1h-1zM207.4 74.0h1v1h-1zM213.4 74.0h1v1h-1zM216.4 74.0h1v1h-1zM218.4 74.0h1v1h-1zM203.4 75.0h1v1h-1zM207.4 75.0h1v1h-1zM210.4 75.0h1v1h-1zM215.4 75.0h1v1h-1zM212.4 76.0h1v1h-1zM212.4 77.0h1v1h-1zM213.4 77.0h1v1h-1zM212.4 78.0h1v1h-1zM213.4 78.0h1v1h-1zM214.4 78.0h1v1h-1zM216.4 78.0h1v1h-1zM209.4 79.0h1v1h-1zM210.4 79.0h1v1h-1zM214.4 79.0h1v1h-1zM202.4 80.0h1v1h-1zM205.4 80.0h1v1h-1zM209.4 80.0h1v1h-1zM213.4 80.0h1v1h-1zM209.4 81.0h1v1h-1zM210.4 81.0h1v1h-1zM212.4 81.0h1v1h-1zM204.4 82.0h1v1h-1zM208.4 85.0h1v1h-1zM206.4 86.0h1v1h-1zM212.4 86.0h1v1h-1z"/><path fill="#6a6af2" d="M216.4 49.0h1v1h-1zM211.4 52.0h1v1h-1zM212.4 53.0h1v1h-1zM213.4 53.0h1v1h-1zM215.4 53.0h1v1h-1zM211.4 54.0h1v1h-1zM214.4 54.0h1v1h-1zM213.4 55.0h1v1h-1zM214.4 55.0h1v1h-1zM220.4 55.0h1v1h-1zM211.4 56.0h1v1h-1zM215.4 56.0h1v1h-1zM216.4 56.0h1v1h-1zM217.4 56.0h1v1h-1zM218.4 56.0h1v1h-1zM213.4 57.0h1v1h-1zM216.4 57.0h1v1h-1zM217.4 57.0h1v1h-1zM218.4 57.0h1v1h-1zM219.4 57.0h1v1h-1zM212.4 58.0h1v1h-1zM220.4 58.0h1v1h-1zM216.4 59.0h1v1h-1zM209.4 60.0h1v1h-1zM210.4 60.0h1v1h-1zM212.4 60.0h1v1h-1zM216.4 60.0h1v1h-1zM217.4 60.0h1v1h-1zM218.4 60.0h1v1h-1zM211.4 61.0h1v1h-1zM214.4 61.0h1v1h-1zM215.4 61.0h1v1h-1zM211.4 62.0h1v1h-1zM208.4 63.0h1v1h-1zM209.4 63.0h1v1h-1zM212.4 63.0h1v1h-1zM213.4 63.0h1v1h-1zM214.4 63.0h1v1h-1zM216.4 63.0h1v1h-1zM218.4 63.0h1v1h-1zM221.4 63.0h1v1h-1zM209.4 64.0h1v1h-1zM210.4 64.0h1v1h-1zM215.4 64.0h1v1h-1zM220.4 64.0h1v1h-1zM208.4 65.0h1v1h-1zM210.4 65.0h1v1h-1zM211.4 65.0h1v1h-1zM217.4 65.0h1v1h-1zM218.4 65.0h1v1h-1zM213.4 66.0h1v1h-1zM215.4 66.0h1v1h-1zM218.4 66.0h1v1h-1zM219.4 66.0h1v1h-1zM221.4 66.0h1v1h-1zM207.4 67.0h1v1h-1zM211.4 67.0h1v1h-1zM213.4 67.0h1v1h-1zM214.4 67.0h1v1h-1zM208.4 68.0h1v1h-1zM209.4 68.0h1v1h-1zM213.4 68.0h1v1h-1zM214.4 68.0h1v1h-1zM213.4 69.0h1v1h-1zM216.4 69.0h1v1h-1zM218.4 69.0h1v1h-1zM208.4 70.0h1v1h-1zM211.4 70.0h1v1h-1zM212.4 70.0h1v1h-1zM215.4 70.0h1v1h-1zM216.4 70.0h1v1h-1zM210.4 71.0h1v1h-1zM212.4 71.0h1v1h-1zM214.4 71.0h1v1h-1zM215.4 71.0h1v1h-1zM216.4 71.0h1v1h-1zM210.4 72.0h1v1h-1zM212.4 72.0h1v1h-1zM215.4 72.0h1v1h-1zM210.4 73.0h1v1h-1zM212.4 73.0h1v1h-1zM213.4 73.0h1v1h-1zM215.4 73.0h1v1h-1zM210.4 74.0h1v1h-1zM212.4 74.0h1v1h-1zM214.4 74.0h1v1h-1zM217.4 74.0h1v1h-1zM209.4 75.0h1v1h-1zM211.4 75.0h1v1h-1zM213.4 75.0h1v1h-1zM214.4 75.0h1v1h-1zM211.4 76.0h1v1h-1zM207.4 77.0h1v1h-1zM208.4 77.0h1v1h-1zM209.4 77.0h1v1h-1zM210.4 77.0h1v1h-1zM211.4 77.0h1v1h-1zM207.4 79.0h1v1h-1zM211.4 79.0h1v1h-1zM212.4 79.0h1v1h-1zM210.4 80.0h1v1h-1zM212.4 80.0h1v1h-1zM204.4 81.0h1v1h-1zM208.4 81.0h1v1h-1zM211.4 81.0h1v1h-1zM205.4 84.0h1v1h-1zM205.4 85.0h1v1h-1z"/><path fill="#3a44f4" d="M214.4 52.0h1v1h-1zM215.4 52.0h1v1h-1zM215.4 54.0h1v1h-1zM216.4 54.0h1v1h-1zM214.4 57.0h1v1h-1zM215.4 58.0h1v1h-1zM219.4 59.0h1v1h-1zM216.4 61.0h1v1h-1zM219.4 61.0h1v1h-1zM213.4 62.0h1v1h-1zM217.4 62.0h1v1h-1zM215.4 63.0h1v1h-1zM213.4 64.0h1v1h-1zM214.4 64.0h1v1h-1zM216.4 64.0h1v1h-1zM209.4 65.0h1v1h-1zM212.4 65.0h1v1h-1zM215.4 65.0h1v1h-1zM210.4 66.0h1v1h-1zM216.4 66.0h1v1h-1zM215.4 68.0h1v1h-1zM216.4 68.0h1v1h-1zM211.4 69.0h1v1h-1zM214.4 69.0h1v1h-1zM217.4 70.0h1v1h-1zM213.4 72.0h1v1h-1zM212.4 75.0h1v1h-1z"/><path fill="#2060f8" d="M216.4 58.0h1v1h-1zM213.4 59.0h1v1h-1zM215.4 62.0h1v1h-1zM212.4 64.0h1v1h-1zM212.4 67.0h1v1h-1zM215.4 69.0h1v1h-1zM211.4 71.0h1v1h-1z"/><ellipse cx="210.20" cy="78.50" rx="4.6" ry="7.8" fill="url(#bg4)" transform="rotate(20 210.20 78.50)"/></g><rect x="197.50" y="40.50" width="52.00" height="52.00" fill="none" stroke="#b8b8b8" stroke-width="1"/><line x1="234.50" y1="40.00" x2="234.50" y2="92.30" stroke="#5a5a5a" stroke-width="1"/><line x1="197.40" y1="66.50" x2="249.70" y2="66.50" stroke="#5a5a5a" stroke-width="1"/><g filter="url(#sb)"><path fill="#c8c8fa" d="M204.4 94.2h1v1h-1zM216.4 94.2h1v1h-1zM221.4 94.2h1v1h-1zM224.4 94.2h1v1h-1zM208.4 95.2h1v1h-1zM214.4 95.2h1v1h-1zM218.4 95.2h1v1h-1zM222.4 95.2h1v1h-1zM223.4 95.2h1v1h-1zM215.4 96.2h1v1h-1zM216.4 96.2h1v1h-1zM222.4 96.2h1v1h-1zM214.4 97.2h1v1h-1zM227.4 97.2h1v1h-1zM215.4 98.2h1v1h-1zM216.4 98.2h1v1h-1zM221.4 98.2h1v1h-1zM223.4 98.2h1v1h-1zM207.4 99.2h1v1h-1zM209.4 99.2h1v1h-1zM210.4 99.2h1v1h-1zM211.4 99.2h1v1h-1zM212.4 99.2h1v1h-1zM216.4 99.2h1v1h-1zM219.4 99.2h1v1h-1zM225.4 99.2h1v1h-1zM227.4 99.2h1v1h-1zM213.4 100.2h1v1h-1zM222.4 100.2h1v1h-1zM224.4 100.2h1v1h-1zM225.4 100.2h1v1h-1zM226.4 100.2h1v1h-1zM212.4 101.2h1v1h-1zM213.4 101.2h1v1h-1zM214.4 101.2h1v1h-1zM216.4 101.2h1v1h-1zM218.4 101.2h1v1h-1zM226.4 101.2h1v1h-1zM212.4 102.2h1v1h-1zM224.4 102.2h1v1h-1zM226.4 102.2h1v1h-1zM221.4 103.2h1v1h-1zM222.4 103.2h1v1h-1zM223.4 103.2h1v1h-1zM225.4 103.2h1v1h-1zM227.4 103.2h1v1h-1zM209.4 104.2h1v1h-1zM210.4 104.2h1v1h-1zM213.4 104.2h1v1h-1zM224.4 104.2h1v1h-1zM206.4 105.2h1v1h-1zM209.4 105.2h1v1h-1zM211.4 105.2h1v1h-1zM226.4 105.2h1v1h-1zM211.4 106.2h1v1h-1zM212.4 106.2h1v1h-1zM222.4 106.2h1v1h-1zM226.4 106.2h1v1h-1zM227.4 106.2h1v1h-1zM210.4 107.2h1v1h-1zM225.4 107.2h1v1h-1zM208.4 108.2h1v1h-1zM209.4 108.2h1v1h-1zM213.4 108.2h1v1h-1zM226.4 108.2h1v1h-1zM227.4 108.2h1v1h-1zM228.4 108.2h1v1h-1zM207.4 109.2h1v1h-1zM209.4 110.2h1v1h-1zM212.4 110.2h1v1h-1zM228.4 110.2h1v1h-1zM209.4 111.2h1v1h-1zM210.4 111.2h1v1h-1zM226.4 111.2h1v1h-1zM227.4 111.2h1v1h-1zM225.4 112.2h1v1h-1zM227.4 112.2h1v1h-1zM212.4 113.2h1v1h-1zM224.4 113.2h1v1h-1zM226.4 113.2h1v1h-1zM210.4 114.2h1v1h-1zM226.4 114.2h1v1h-1zM227.4 114.2h1v1h-1zM209.4 115.2h1v1h-1zM206.4 116.2h1v1h-1zM209.4 116.2h1v1h-1zM224.4 116.2h1v1h-1zM227.4 116.2h1v1h-1zM228.4 116.2h1v1h-1zM213.4 117.2h1v1h-1zM226.4 117.2h1v1h-1zM225.4 118.2h1v1h-1zM209.4 119.2h1v1h-1zM211.4 119.2h1v1h-1zM224.4 119.2h1v1h-1zM225.4 120.2h1v1h-1zM227.4 120.2h1v1h-1zM208.4 121.2h1v1h-1zM208.4 122.2h1v1h-1zM215.4 122.2h1v1h-1zM222.4 122.2h1v1h-1zM227.4 122.2h1v1h-1zM210.4 123.2h1v1h-1zM211.4 123.2h1v1h-1zM225.4 123.2h1v1h-1zM227.4 123.2h1v1h-1zM200.4 124.2h1v1h-1zM208.4 124.2h1v1h-1zM209.4 124.2h1v1h-1zM212.4 124.2h1v1h-1zM224.4 124.2h1v1h-1zM225.4 124.2h1v1h-1zM218.4 125.2h1v1h-1zM221.4 125.2h1v1h-1zM222.4 125.2h1v1h-1zM223.4 125.2h1v1h-1zM224.4 125.2h1v1h-1zM225.4 125.2h1v1h-1zM226.4 125.2h1v1h-1zM209.4 126.2h1v1h-1zM220.4 126.2h1v1h-1zM221.4 126.2h1v1h-1zM225.4 126.2h1v1h-1zM227.4 126.2h1v1h-1zM207.4 127.2h1v1h-1zM208.4 127.2h1v1h-1zM211.4 127.2h1v1h-1zM223.4 127.2h1v1h-1zM207.4 128.2h1v1h-1zM210.4 128.2h1v1h-1zM223.4 128.2h1v1h-1zM228.4 128.2h1v1h-1zM206.4 129.2h1v1h-1zM208.4 129.2h1v1h-1zM219.4 129.2h1v1h-1zM221.4 129.2h1v1h-1zM222.4 129.2h1v1h-1zM223.4 129.2h1v1h-1zM224.4 129.2h1v1h-1zM227.4 129.2h1v1h-1zM206.4 130.2h1v1h-1zM207.4 130.2h1v1h-1zM224.4 130.2h1v1h-1zM211.4 131.2h1v1h-1zM224.4 131.2h1v1h-1zM207.4 132.2h1v1h-1zM220.4 132.2h1v1h-1zM223.4 132.2h1v1h-1zM226.4 132.2h1v1h-1zM209.4 133.2h1v1h-1zM221.4 133.2h1v1h-1zM222.4 133.2h1v1h-1zM223.4 133.2h1v1h-1zM206.4 134.2h1v1h-1zM211.4 134.2h1v1h-1zM215.4 134.2h1v1h-1zM222.4 134.2h1v1h-1zM209.4 135.2h1v1h-1zM210.4 135.2h1v1h-1zM217.4 135.2h1v1h-1zM206.4 136.2h1v1h-1zM213.4 136.2h1v1h-1zM221.4 136.2h1v1h-1zM222.4 136.2h1v1h-1zM229.4 136.2h1v1h-1zM206.4 137.2h1v1h-1zM208.4 137.2h1v1h-1zM209.4 137.2h1v1h-1zM210.4 137.2h1v1h-1zM213.4 137.2h1v1h-1zM214.4 137.2h1v1h-1zM217.4 137.2h1v1h-1zM218.4 137.2h1v1h-1zM220.4 137.2h1v1h-1zM221.4 137.2h1v1h-1zM223.4 137.2h1v1h-1zM226.4 137.2h1v1h-1zM209.4 138.2h1v1h-1zM211.4 138.2h1v1h-1zM214.4 138.2h1v1h-1zM217.4 138.2h1v1h-1zM219.4 138.2h1v1h-1zM222.4 138.2h1v1h-1zM208.4 139.2h1v1h-1zM209.4 139.2h1v1h-1zM211.4 139.2h1v1h-1zM212.4 139.2h1v1h-1zM213.4 139.2h1v1h-1zM216.4 139.2h1v1h-1zM217.4 139.2h1v1h-1zM218.4 139.2h1v1h-1zM225.4 139.2h1v1h-1zM211.4 140.2h1v1h-1zM213.4 140.2h1v1h-1zM214.4 140.2h1v1h-1zM217.4 140.2h1v1h-1zM218.4 140.2h1v1h-1zM212.4 141.2h1v1h-1zM214.4 141.2h1v1h-1zM215.4 141.2h1v1h-1zM216.4 141.2h1v1h-1zM219.4 141.2h1v1h-1zM221.4 141.2h1v1h-1zM214.4 142.2h1v1h-1zM217.4 142.2h1v1h-1zM214.4 143.2h1v1h-1zM215.4 143.2h1v1h-1zM217.4 143.2h1v1h-1zM224.4 143.2h1v1h-1zM222.4 144.2h1v1h-1zM215.4 145.2h1v1h-1z"/><path fill="#6a6af2" d="M217.4 95.2h1v1h-1zM218.4 96.2h1v1h-1zM217.4 97.2h1v1h-1zM214.4 98.2h1v1h-1zM218.4 98.2h1v1h-1zM215.4 99.2h1v1h-1zM217.4 99.2h1v1h-1zM218.4 99.2h1v1h-1zM214.4 100.2h1v1h-1zM216.4 100.2h1v1h-1zM217.4 100.2h1v1h-1zM218.4 100.2h1v1h-1zM219.4 100.2h1v1h-1zM223.4 100.2h1v1h-1zM215.4 101.2h1v1h-1zM220.4 101.2h1v1h-1zM221.4 101.2h1v1h-1zM214.4 102.2h1v1h-1zM217.4 102.2h1v1h-1zM218.4 102.2h1v1h-1zM219.4 102.2h1v1h-1zM220.4 102.2h1v1h-1zM212.4 103.2h1v1h-1zM213.4 103.2h1v1h-1zM215.4 103.2h1v1h-1zM216.4 103.2h1v1h-1zM214.4 104.2h1v1h-1zM216.4 104.2h1v1h-1zM220.4 104.2h1v1h-1zM221.4 104.2h1v1h-1zM223.4 104.2h1v1h-1zM212.4 105.2h1v1h-1zM220.4 105.2h1v1h-1zM221.4 105.2h1v1h-1zM222.4 105.2h1v1h-1zM213.4 106.2h1v1h-1zM217.4 106.2h1v1h-1zM221.4 106.2h1v1h-1zM223.4 106.2h1v1h-1zM224.4 106.2h1v1h-1zM212.4 107.2h1v1h-1zM213.4 107.2h1v1h-1zM214.4 107.2h1v1h-1zM212.4 108.2h1v1h-1zM214.4 108.2h1v1h-1zM223.4 108.2h1v1h-1zM212.4 109.2h1v1h-1zM213.4 109.2h1v1h-1zM223.4 109.2h1v1h-1zM224.4 109.2h1v1h-1zM225.4 109.2h1v1h-1zM223.4 110.2h1v1h-1zM212.4 111.2h1v1h-1zM213.4 111.2h1v1h-1zM214.4 111.2h1v1h-1zM222.4 111.2h1v1h-1zM211.4 112.2h1v1h-1zM212.4 112.2h1v1h-1zM214.4 112.2h1v1h-1zM213.4 113.2h1v1h-1zM214.4 113.2h1v1h-1zM223.4 113.2h1v1h-1zM212.4 114.2h1v1h-1zM213.4 114.2h1v1h-1zM224.4 114.2h1v1h-1zM211.4 115.2h1v1h-1zM213.4 115.2h1v1h-1zM214.4 115.2h1v1h-1zM221.4 115.2h1v1h-1zM222.4 115.2h1v1h-1zM223.4 115.2h1v1h-1zM224.4 115.2h1v1h-1zM211.4 116.2h1v1h-1zM223.4 116.2h1v1h-1zM211.4 117.2h1v1h-1zM212.4 117.2h1v1h-1zM224.4 117.2h1v1h-1zM212.4 118.2h1v1h-1zM214.4 118.2h1v1h-1zM212.4 119.2h1v1h-1zM217.4 119.2h1v1h-1zM222.4 119.2h1v1h-1zM212.4 120.2h1v1h-1zM215.4 120.2h1v1h-1zM216.4 120.2h1v1h-1zM221.4 120.2h1v1h-1zM212.4 121.2h1v1h-1zM214.4 121.2h1v1h-1zM216.4 121.2h1v1h-1zM221.4 121.2h1v1h-1zM223.4 121.2h1v1h-1zM213.4 122.2h1v1h-1zM216.4 122.2h1v1h-1zM221.4 122.2h1v1h-1zM223.4 122.2h1v1h-1zM214.4 123.2h1v1h-1zM216.4 123.2h1v1h-1zM223.4 123.2h1v1h-1zM214.4 124.2h1v1h-1zM216.4 124.2h1v1h-1zM220.4 124.2h1v1h-1zM221.4 124.2h1v1h-1zM211.4 125.2h1v1h-1zM212.4 125.2h1v1h-1zM214.4 125.2h1v1h-1zM211.4 126.2h1v1h-1zM213.4 126.2h1v1h-1zM214.4 126.2h1v1h-1zM219.4 126.2h1v1h-1zM212.4 127.2h1v1h-1zM213.4 127.2h1v1h-1zM214.4 127.2h1v1h-1zM217.4 127.2h1v1h-1zM209.4 128.2h1v1h-1zM211.4 128.2h1v1h-1zM214.4 128.2h1v1h-1zM219.4 128.2h1v1h-1zM220.4 128.2h1v1h-1zM209.4 129.2h1v1h-1zM210.4 129.2h1v1h-1zM214.4 129.2h1v1h-1zM217.4 129.2h1v1h-1zM218.4 129.2h1v1h-1zM209.4 130.2h1v1h-1zM212.4 130.2h1v1h-1zM214.4 130.2h1v1h-1zM218.4 130.2h1v1h-1zM221.4 130.2h1v1h-1zM210.4 131.2h1v1h-1zM213.4 131.2h1v1h-1zM217.4 131.2h1v1h-1zM218.4 131.2h1v1h-1zM221.4 131.2h1v1h-1zM213.4 132.2h1v1h-1zM214.4 132.2h1v1h-1zM215.4 132.2h1v1h-1zM216.4 132.2h1v1h-1zM218.4 132.2h1v1h-1zM219.4 132.2h1v1h-1zM221.4 132.2h1v1h-1zM211.4 133.2h1v1h-1zM214.4 133.2h1v1h-1zM216.4 133.2h1v1h-1zM218.4 133.2h1v1h-1zM219.4 133.2h1v1h-1zM213.4 134.2h1v1h-1zM214.4 134.2h1v1h-1zM216.4 134.2h1v1h-1zM217.4 134.2h1v1h-1zM220.4 134.2h1v1h-1zM211.4 135.2h1v1h-1zM213.4 135.2h1v1h-1zM215.4 135.2h1v1h-1zM216.4 135.2h1v1h-1zM218.4 135.2h1v1h-1zM219.4 135.2h1v1h-1zM220.4 135.2h1v1h-1zM210.4 136.2h1v1h-1zM219.4 136.2h1v1h-1zM212.4 137.2h1v1h-1zM215.4 137.2h1v1h-1zM216.4 138.2h1v1h-1zM220.4 138.2h1v1h-1zM215.4 139.2h1v1h-1z"/><path fill="#a0a0f6" d="M219.4 95.2h1v1h-1zM220.4 95.2h1v1h-1zM221.4 95.2h1v1h-1zM224.4 95.2h1v1h-1zM217.4 96.2h1v1h-1zM220.4 96.2h1v1h-1zM210.4 97.2h1v1h-1zM216.4 97.2h1v1h-1zM218.4 97.2h1v1h-1zM219.4 97.2h1v1h-1zM222.4 97.2h1v1h-1zM223.4 97.2h1v1h-1zM213.4 98.2h1v1h-1zM217.4 98.2h1v1h-1zM219.4 98.2h1v1h-1zM220.4 98.2h1v1h-1zM214.4 99.2h1v1h-1zM221.4 99.2h1v1h-1zM222.4 99.2h1v1h-1zM223.4 99.2h1v1h-1zM212.4 100.2h1v1h-1zM215.4 100.2h1v1h-1zM220.4 100.2h1v1h-1zM221.4 100.2h1v1h-1zM219.4 101.2h1v1h-1zM222.4 101.2h1v1h-1zM223.4 101.2h1v1h-1zM227.4 101.2h1v1h-1zM213.4 102.2h1v1h-1zM222.4 102.2h1v1h-1zM211.4 103.2h1v1h-1zM214.4 103.2h1v1h-1zM220.4 103.2h1v1h-1zM211.4 104.2h1v1h-1zM212.4 104.2h1v1h-1zM215.4 104.2h1v1h-1zM217.4 104.2h1v1h-1zM222.4 104.2h1v1h-1zM213.4 105.2h1v1h-1zM214.4 105.2h1v1h-1zM223.4 105.2h1v1h-1zM225.4 105.2h1v1h-1zM219.4 106.2h1v1h-1zM225.4 106.2h1v1h-1zM211.4 107.2h1v1h-1zM222.4 107.2h1v1h-1zM224.4 107.2h1v1h-1zM210.4 108.2h1v1h-1zM221.4 108.2h1v1h-1zM225.4 108.2h1v1h-1zM209.4 109.2h1v1h-1zM210.4 109.2h1v1h-1zM226.4 109.2h1v1h-1zM227.4 109.2h1v1h-1zM211.4 110.2h1v1h-1zM213.4 110.2h1v1h-1zM224.4 110.2h1v1h-1zM225.4 110.2h1v1h-1zM208.4 111.2h1v1h-1zM211.4 111.2h1v1h-1zM224.4 111.2h1v1h-1zM225.4 111.2h1v1h-1zM225.4 113.2h1v1h-1zM211.4 114.2h1v1h-1zM225.4 114.2h1v1h-1zM210.4 115.2h1v1h-1zM212.4 115.2h1v1h-1zM225.4 115.2h1v1h-1zM210.4 116.2h1v1h-1zM225.4 117.2h1v1h-1zM213.4 118.2h1v1h-1zM224.4 118.2h1v1h-1zM210.4 119.2h1v1h-1zM225.4 119.2h1v1h-1zM211.4 120.2h1v1h-1zM210.4 121.2h1v1h-1zM225.4 121.2h1v1h-1zM211.4 122.2h1v1h-1zM212.4 122.2h1v1h-1zM225.4 122.2h1v1h-1zM217.4 123.2h1v1h-1zM218.4 123.2h1v1h-1zM210.4 124.2h1v1h-1zM210.4 125.2h1v1h-1zM212.4 126.2h1v1h-1zM217.4 126.2h1v1h-1zM222.4 126.2h1v1h-1zM223.4 126.2h1v1h-1zM210.4 127.2h1v1h-1zM219.4 127.2h1v1h-1zM212.4 128.2h1v1h-1zM217.4 128.2h1v1h-1zM221.4 128.2h1v1h-1zM222.4 128.2h1v1h-1zM205.4 129.2h1v1h-1zM211.4 129.2h1v1h-1zM212.4 129.2h1v1h-1zM216.4 129.2h1v1h-1zM210.4 130.2h1v1h-1zM222.4 130.2h1v1h-1zM223.4 130.2h1v1h-1zM225.4 130.2h1v1h-1zM207.4 131.2h1v1h-1zM209.4 131.2h1v1h-1zM212.4 131.2h1v1h-1zM214.4 131.2h1v1h-1zM220.4 131.2h1v1h-1zM223.4 131.2h1v1h-1zM208.4 132.2h1v1h-1zM209.4 132.2h1v1h-1zM210.4 132.2h1v1h-1zM212.4 132.2h1v1h-1zM222.4 132.2h1v1h-1zM209.4 134.2h1v1h-1zM210.4 134.2h1v1h-1zM212.4 134.2h1v1h-1zM219.4 134.2h1v1h-1zM221.4 134.2h1v1h-1zM212.4 135.2h1v1h-1zM214.4 135.2h1v1h-1zM211.4 136.2h1v1h-1zM212.4 136.2h1v1h-1zM217.4 136.2h1v1h-1zM224.4 136.2h1v1h-1zM211.4 137.2h1v1h-1zM216.4 137.2h1v1h-1zM213.4 138.2h1v1h-1zM215.4 138.2h1v1h-1zM219.4 139.2h1v1h-1zM212.4 140.2h1v1h-1zM215.4 140.2h1v1h-1zM219.4 140.2h1v1h-1zM211.4 142.2h1v1h-1z"/><path fill="#3a44f4" d="M219.4 96.2h1v1h-1zM220.4 97.2h1v1h-1zM216.4 102.2h1v1h-1zM217.4 103.2h1v1h-1zM218.4 103.2h1v1h-1zM218.4 104.2h1v1h-1zM219.4 104.2h1v1h-1zM215.4 105.2h1v1h-1zM216.4 105.2h1v1h-1zM217.4 105.2h1v1h-1zM218.4 105.2h1v1h-1zM219.4 105.2h1v1h-1zM214.4 106.2h1v1h-1zM215.4 106.2h1v1h-1zM218.4 106.2h1v1h-1zM215.4 107.2h1v1h-1zM216.4 107.2h1v1h-1zM221.4 107.2h1v1h-1zM216.4 108.2h1v1h-1zM220.4 108.2h1v1h-1zM222.4 108.2h1v1h-1zM224.4 108.2h1v1h-1zM214.4 109.2h1v1h-1zM214.4 110.2h1v1h-1zM219.4 110.2h1v1h-1zM223.4 111.2h1v1h-1zM213.4 112.2h1v1h-1zM215.4 112.2h1v1h-1zM223.4 112.2h1v1h-1zM211.4 113.2h1v1h-1zM214.4 114.2h1v1h-1zM222.4 114.2h1v1h-1zM223.4 114.2h1v1h-1zM212.4 116.2h1v1h-1zM213.4 116.2h1v1h-1zM214.4 116.2h1v1h-1zM215.4 116.2h1v1h-1zM221.4 116.2h1v1h-1zM214.4 117.2h1v1h-1zM222.4 117.2h1v1h-1zM223.4 117.2h1v1h-1zM213.4 119.2h1v1h-1zM215.4 119.2h1v1h-1zM221.4 119.2h1v1h-1zM222.4 120.2h1v1h-1zM223.4 120.2h1v1h-1zM220.4 121.2h1v1h-1zM222.4 121.2h1v1h-1zM214.4 122.2h1v1h-1zM217.4 122.2h1v1h-1zM218.4 122.2h1v1h-1zM219.4 122.2h1v1h-1zM224.4 122.2h1v1h-1zM215.4 123.2h1v1h-1zM219.4 123.2h1v1h-1zM220.4 123.2h1v1h-1zM221.4 123.2h1v1h-1zM222.4 123.2h1v1h-1zM211.4 124.2h1v1h-1zM213.4 124.2h1v1h-1zM215.4 124.2h1v1h-1zM217.4 124.2h1v1h-1zM215.4 125.2h1v1h-1zM216.4 126.2h1v1h-1zM209.4 127.2h1v1h-1zM215.4 127.2h1v1h-1zM218.4 127.2h1v1h-1zM220.4 127.2h1v1h-1zM221.4 127.2h1v1h-1zM215.4 128.2h1v1h-1zM216.4 128.2h1v1h-1zM218.4 128.2h1v1h-1zM215.4 129.2h1v1h-1zM213.4 130.2h1v1h-1zM215.4 130.2h1v1h-1zM217.4 130.2h1v1h-1zM220.4 130.2h1v1h-1zM215.4 131.2h1v1h-1zM216.4 131.2h1v1h-1zM219.4 131.2h1v1h-1zM211.4 132.2h1v1h-1zM217.4 132.2h1v1h-1zM212.4 133.2h1v1h-1zM215.4 133.2h1v1h-1zM218.4 134.2h1v1h-1zM215.4 136.2h1v1h-1z"/><path fill="#2060f8" d="M215.4 102.2h1v1h-1zM216.4 106.2h1v1h-1zM220.4 106.2h1v1h-1zM218.4 107.2h1v1h-1zM219.4 107.2h1v1h-1zM220.4 107.2h1v1h-1zM215.4 109.2h1v1h-1zM219.4 109.2h1v1h-1zM222.4 109.2h1v1h-1zM215.4 110.2h1v1h-1zM221.4 111.2h1v1h-1zM216.4 112.2h1v1h-1zM220.4 112.2h1v1h-1zM222.4 112.2h1v1h-1zM215.4 113.2h1v1h-1zM221.4 113.2h1v1h-1zM222.4 113.2h1v1h-1zM216.4 114.2h1v1h-1zM221.4 114.2h1v1h-1zM215.4 115.2h1v1h-1zM220.4 115.2h1v1h-1zM216.4 116.2h1v1h-1zM215.4 118.2h1v1h-1zM217.4 118.2h1v1h-1zM220.4 118.2h1v1h-1zM223.4 118.2h1v1h-1zM214.4 119.2h1v1h-1zM216.4 119.2h1v1h-1zM223.4 119.2h1v1h-1zM217.4 120.2h1v1h-1zM219.4 120.2h1v1h-1zM220.4 120.2h1v1h-1zM215.4 121.2h1v1h-1zM218.4 121.2h1v1h-1zM220.4 122.2h1v1h-1zM218.4 124.2h1v1h-1zM219.4 124.2h1v1h-1zM222.4 124.2h1v1h-1zM216.4 125.2h1v1h-1zM219.4 125.2h1v1h-1zM215.4 126.2h1v1h-1zM216.4 127.2h1v1h-1zM213.4 128.2h1v1h-1zM220.4 129.2h1v1h-1zM211.4 130.2h1v1h-1zM216.4 130.2h1v1h-1zM217.4 133.2h1v1h-1zM216.4 136.2h1v1h-1z"/><path fill="#10b0a0" d="M217.4 107.2h1v1h-1zM215.4 108.2h1v1h-1zM217.4 108.2h1v1h-1zM219.4 108.2h1v1h-1zM216.4 109.2h1v1h-1zM217.4 109.2h1v1h-1zM220.4 109.2h1v1h-1zM221.4 109.2h1v1h-1zM216.4 110.2h1v1h-1zM220.4 110.2h1v1h-1zM217.4 111.2h1v1h-1zM221.4 112.2h1v1h-1zM216.4 113.2h1v1h-1zM217.4 113.2h1v1h-1zM218.4 113.2h1v1h-1zM219.4 113.2h1v1h-1zM220.4 113.2h1v1h-1zM215.4 114.2h1v1h-1zM220.4 114.2h1v1h-1zM216.4 115.2h1v1h-1zM217.4 115.2h1v1h-1zM220.4 116.2h1v1h-1zM217.4 117.2h1v1h-1zM219.4 117.2h1v1h-1zM220.4 117.2h1v1h-1zM221.4 117.2h1v1h-1zM218.4 118.2h1v1h-1zM222.4 118.2h1v1h-1zM218.4 119.2h1v1h-1zM217.4 121.2h1v1h-1zM219.4 121.2h1v1h-1zM217.4 125.2h1v1h-1z"/><path fill="#0090f0" d="M223.4 107.2h1v1h-1zM218.4 108.2h1v1h-1zM218.4 109.2h1v1h-1zM217.4 110.2h1v1h-1zM221.4 110.2h1v1h-1zM222.4 110.2h1v1h-1zM215.4 111.2h1v1h-1zM220.4 111.2h1v1h-1zM219.4 112.2h1v1h-1zM217.4 116.2h1v1h-1zM222.4 116.2h1v1h-1zM215.4 117.2h1v1h-1zM216.4 117.2h1v1h-1zM218.4 117.2h1v1h-1zM216.4 118.2h1v1h-1zM221.4 118.2h1v1h-1zM220.4 119.2h1v1h-1zM218.4 120.2h1v1h-1zM220.4 125.2h1v1h-1zM218.4 126.2h1v1h-1zM213.4 129.2h1v1h-1zM219.4 130.2h1v1h-1zM213.4 133.2h1v1h-1z"/><path fill="#40c050" d="M218.4 110.2h1v1h-1zM216.4 111.2h1v1h-1zM219.4 111.2h1v1h-1zM217.4 112.2h1v1h-1zM218.4 114.2h1v1h-1zM218.4 115.2h1v1h-1zM218.4 116.2h1v1h-1zM219.4 118.2h1v1h-1zM219.4 119.2h1v1h-1z"/><path fill="#a0d020" d="M218.4 111.2h1v1h-1zM218.4 112.2h1v1h-1zM217.4 114.2h1v1h-1zM219.4 114.2h1v1h-1zM219.4 115.2h1v1h-1zM219.4 116.2h1v1h-1z"/></g><rect x="197.50" y="94.50" width="52.00" height="52.00" fill="none" stroke="#b8b8b8" stroke-width="1"/><line x1="234.50" y1="94.20" x2="234.50" y2="146.50" stroke="#5a5a5a" stroke-width="1"/><line x1="197.40" y1="120.50" x2="249.70" y2="120.50" stroke="#5a5a5a" stroke-width="1"/><rect x="198.30" y="95.10" width="36.20" height="25.00" fill="none" stroke="#f80c0c" stroke-width="1.8"/><g filter="url(#sb)"><path fill="#c8c8fa" d="M280.5 41.0h1v1h-1zM281.5 41.0h1v1h-1zM285.5 41.0h1v1h-1zM277.5 43.0h1v1h-1zM284.5 43.0h1v1h-1zM277.5 44.0h1v1h-1zM278.5 44.0h1v1h-1zM282.5 44.0h1v1h-1zM282.5 45.0h1v1h-1zM271.5 46.0h1v1h-1zM280.5 46.0h1v1h-1zM284.5 46.0h1v1h-1zM279.5 47.0h1v1h-1zM288.5 47.0h1v1h-1zM283.5 48.0h1v1h-1zM289.5 48.0h1v1h-1zM281.5 49.0h1v1h-1zM280.5 50.0h1v1h-1zM285.5 50.0h1v1h-1zM286.5 50.0h1v1h-1zM289.5 50.0h1v1h-1zM282.5 51.0h1v1h-1zM283.5 51.0h1v1h-1zM278.5 52.0h1v1h-1zM280.5 52.0h1v1h-1zM281.5 52.0h1v1h-1zM284.5 52.0h1v1h-1zM277.5 53.0h1v1h-1zM283.5 53.0h1v1h-1zM284.5 53.0h1v1h-1zM287.5 53.0h1v1h-1zM280.5 54.0h1v1h-1zM285.5 54.0h1v1h-1zM276.5 55.0h1v1h-1zM283.5 55.0h1v1h-1zM289.5 55.0h1v1h-1zM293.5 56.0h1v1h-1zM281.5 57.0h1v1h-1zM291.5 57.0h1v1h-1zM279.5 58.0h1v1h-1zM282.5 58.0h1v1h-1zM286.5 58.0h1v1h-1zM288.5 59.0h1v1h-1zM291.5 59.0h1v1h-1zM285.5 60.0h1v1h-1zM288.5 60.0h1v1h-1zM289.5 60.0h1v1h-1zM290.5 60.0h1v1h-1zM280.5 61.0h1v1h-1zM285.5 61.0h1v1h-1zM290.5 61.0h1v1h-1zM295.5 61.0h1v1h-1zM279.5 62.0h1v1h-1zM280.5 62.0h1v1h-1zM282.5 62.0h1v1h-1zM287.5 62.0h1v1h-1zM289.5 62.0h1v1h-1zM290.5 62.0h1v1h-1zM279.5 63.0h1v1h-1zM290.5 63.0h1v1h-1zM275.5 64.0h1v1h-1zM276.5 64.0h1v1h-1zM279.5 64.0h1v1h-1zM273.5 65.0h1v1h-1zM274.5 65.0h1v1h-1zM275.5 65.0h1v1h-1zM276.5 65.0h1v1h-1zM277.5 65.0h1v1h-1zM287.5 65.0h1v1h-1zM288.5 65.0h1v1h-1zM273.5 66.0h1v1h-1zM276.5 66.0h1v1h-1zM275.5 67.0h1v1h-1zM287.5 67.0h1v1h-1zM268.5 68.0h1v1h-1zM274.5 68.0h1v1h-1zM282.5 68.0h1v1h-1zM286.5 68.0h1v1h-1zM267.5 69.0h1v1h-1zM268.5 69.0h1v1h-1zM284.5 69.0h1v1h-1zM285.5 69.0h1v1h-1zM269.5 70.0h1v1h-1zM273.5 70.0h1v1h-1zM267.5 71.0h1v1h-1zM268.5 71.0h1v1h-1zM271.5 71.0h1v1h-1zM281.5 72.0h1v1h-1zM282.5 72.0h1v1h-1zM265.5 73.0h1v1h-1zM266.5 73.0h1v1h-1zM267.5 73.0h1v1h-1zM269.5 73.0h1v1h-1zM280.5 73.0h1v1h-1zM256.5 74.0h1v1h-1zM266.5 74.0h1v1h-1zM270.5 74.0h1v1h-1zM276.5 74.0h1v1h-1zM278.5 74.0h1v1h-1zM266.5 75.0h1v1h-1zM267.5 75.0h1v1h-1zM268.5 75.0h1v1h-1zM269.5 75.0h1v1h-1zM265.5 76.0h1v1h-1zM268.5 76.0h1v1h-1zM272.5 76.0h1v1h-1zM273.5 76.0h1v1h-1zM276.5 76.0h1v1h-1zM266.5 77.0h1v1h-1zM271.5 77.0h1v1h-1zM274.5 77.0h1v1h-1zM263.5 78.0h1v1h-1zM269.5 78.0h1v1h-1zM272.5 78.0h1v1h-1zM268.5 79.0h1v1h-1zM265.5 80.0h1v1h-1zM264.5 84.0h1v1h-1z"/><path fill="#a0a0f6" d="M284.5 49.0h1v1h-1zM281.5 53.0h1v1h-1zM290.5 58.0h1v1h-1zM289.5 59.0h1v1h-1zM282.5 61.0h1v1h-1zM286.5 61.0h1v1h-1zM288.5 61.0h1v1h-1zM292.5 62.0h1v1h-1zM277.5 64.0h1v1h-1zM287.5 64.0h1v1h-1zM289.5 64.0h1v1h-1zM289.5 65.0h1v1h-1zM274.5 66.0h1v1h-1zM287.5 66.0h1v1h-1zM284.5 67.0h1v1h-1zM285.5 67.0h1v1h-1zM271.5 68.0h1v1h-1zM272.5 68.0h1v1h-1zM275.5 68.0h1v1h-1zM276.5 68.0h1v1h-1zM283.5 68.0h1v1h-1zM271.5 69.0h1v1h-1zM272.5 69.0h1v1h-1zM273.5 69.0h1v1h-1zM283.5 70.0h1v1h-1zM270.5 71.0h1v1h-1zM280.5 71.0h1v1h-1zM281.5 71.0h1v1h-1zM270.5 72.0h1v1h-1zM278.5 72.0h1v1h-1zM276.5 73.0h1v1h-1zM278.5 73.0h1v1h-1zM269.5 74.0h1v1h-1zM272.5 74.0h1v1h-1zM279.5 74.0h1v1h-1zM270.5 75.0h1v1h-1zM271.5 75.0h1v1h-1zM272.5 75.0h1v1h-1zM266.5 76.0h1v1h-1zM274.5 76.0h1v1h-1zM277.5 76.0h1v1h-1zM264.5 77.0h1v1h-1zM265.5 77.0h1v1h-1zM270.5 77.0h1v1h-1zM267.5 78.0h1v1h-1zM271.5 78.0h1v1h-1zM261.5 80.0h1v1h-1z"/><path fill="#6a6af2" d="M283.5 61.0h1v1h-1zM287.5 61.0h1v1h-1zM283.5 62.0h1v1h-1zM285.5 62.0h1v1h-1zM286.5 62.0h1v1h-1zM288.5 62.0h1v1h-1zM280.5 63.0h1v1h-1zM285.5 63.0h1v1h-1zM280.5 64.0h1v1h-1zM285.5 64.0h1v1h-1zM288.5 64.0h1v1h-1zM279.5 65.0h1v1h-1zM285.5 65.0h1v1h-1zM286.5 65.0h1v1h-1zM277.5 66.0h1v1h-1zM279.5 66.0h1v1h-1zM282.5 66.0h1v1h-1zM285.5 66.0h1v1h-1zM286.5 66.0h1v1h-1zM274.5 67.0h1v1h-1zM276.5 67.0h1v1h-1zM273.5 68.0h1v1h-1zM278.5 68.0h1v1h-1zM280.5 68.0h1v1h-1zM285.5 68.0h1v1h-1zM269.5 69.0h1v1h-1zM274.5 69.0h1v1h-1zM277.5 69.0h1v1h-1zM281.5 69.0h1v1h-1zM271.5 70.0h1v1h-1zM272.5 70.0h1v1h-1zM278.5 70.0h1v1h-1zM279.5 70.0h1v1h-1zM269.5 71.0h1v1h-1zM272.5 71.0h1v1h-1zM274.5 71.0h1v1h-1zM269.5 72.0h1v1h-1zM271.5 72.0h1v1h-1zM272.5 72.0h1v1h-1zM273.5 72.0h1v1h-1zM274.5 72.0h1v1h-1zM277.5 72.0h1v1h-1zM268.5 73.0h1v1h-1zM270.5 73.0h1v1h-1zM271.5 73.0h1v1h-1zM272.5 73.0h1v1h-1zM273.5 73.0h1v1h-1zM274.5 73.0h1v1h-1zM277.5 73.0h1v1h-1zM271.5 74.0h1v1h-1zM274.5 74.0h1v1h-1zM275.5 74.0h1v1h-1zM273.5 75.0h1v1h-1zM274.5 75.0h1v1h-1zM269.5 76.0h1v1h-1zM269.5 77.0h1v1h-1z"/><path fill="#3a44f4" d="M284.5 62.0h1v1h-1zM281.5 63.0h1v1h-1zM283.5 63.0h1v1h-1zM287.5 63.0h1v1h-1zM288.5 63.0h1v1h-1zM278.5 64.0h1v1h-1zM281.5 64.0h1v1h-1zM284.5 64.0h1v1h-1zM286.5 64.0h1v1h-1zM278.5 65.0h1v1h-1zM284.5 65.0h1v1h-1zM278.5 66.0h1v1h-1zM283.5 66.0h1v1h-1zM284.5 66.0h1v1h-1zM273.5 67.0h1v1h-1zM277.5 67.0h1v1h-1zM279.5 67.0h1v1h-1zM280.5 67.0h1v1h-1zM283.5 67.0h1v1h-1zM277.5 68.0h1v1h-1zM281.5 68.0h1v1h-1zM279.5 69.0h1v1h-1zM277.5 70.0h1v1h-1zM280.5 70.0h1v1h-1zM281.5 70.0h1v1h-1zM273.5 71.0h1v1h-1zM275.5 71.0h1v1h-1zM276.5 71.0h1v1h-1zM277.5 71.0h1v1h-1zM278.5 71.0h1v1h-1zM279.5 71.0h1v1h-1zM275.5 72.0h1v1h-1zM273.5 74.0h1v1h-1z"/><path fill="#2060f8" d="M282.5 63.0h1v1h-1zM284.5 63.0h1v1h-1zM280.5 65.0h1v1h-1zM282.5 65.0h1v1h-1zM280.5 66.0h1v1h-1zM278.5 67.0h1v1h-1zM281.5 67.0h1v1h-1zM282.5 67.0h1v1h-1zM279.5 68.0h1v1h-1zM275.5 69.0h1v1h-1zM278.5 69.0h1v1h-1zM280.5 69.0h1v1h-1zM282.5 69.0h1v1h-1zM274.5 70.0h1v1h-1zM275.5 70.0h1v1h-1z"/><path fill="#0090f0" d="M286.5 63.0h1v1h-1zM282.5 64.0h1v1h-1zM283.5 64.0h1v1h-1zM281.5 65.0h1v1h-1zM283.5 65.0h1v1h-1zM281.5 66.0h1v1h-1zM276.5 70.0h1v1h-1z"/><path fill="#10b0a0" d="M276.5 69.0h1v1h-1z"/></g><rect x="252.50" y="40.50" width="52.00" height="52.00" fill="none" stroke="#b8b8b8" stroke-width="1"/><line x1="289.50" y1="40.00" x2="289.50" y2="92.30" stroke="#5a5a5a" stroke-width="1"/><line x1="252.50" y1="66.50" x2="304.80" y2="66.50" stroke="#5a5a5a" stroke-width="1"/><g filter="url(#sb)"><path fill="#c8c8fa" d="M280.5 94.2h1v1h-1zM280.5 95.2h1v1h-1zM281.5 95.2h1v1h-1zM284.5 95.2h1v1h-1zM286.5 95.2h1v1h-1zM287.5 95.2h1v1h-1zM272.5 96.2h1v1h-1zM273.5 96.2h1v1h-1zM281.5 96.2h1v1h-1zM282.5 96.2h1v1h-1zM286.5 96.2h1v1h-1zM267.5 97.2h1v1h-1zM283.5 97.2h1v1h-1zM286.5 97.2h1v1h-1zM287.5 97.2h1v1h-1zM282.5 98.2h1v1h-1zM286.5 98.2h1v1h-1zM288.5 98.2h1v1h-1zM272.5 99.2h1v1h-1zM282.5 99.2h1v1h-1zM283.5 99.2h1v1h-1zM286.5 99.2h1v1h-1zM287.5 99.2h1v1h-1zM291.5 99.2h1v1h-1zM261.5 100.2h1v1h-1zM279.5 100.2h1v1h-1zM284.5 100.2h1v1h-1zM285.5 100.2h1v1h-1zM288.5 100.2h1v1h-1zM264.5 101.2h1v1h-1zM268.5 101.2h1v1h-1zM273.5 101.2h1v1h-1zM279.5 101.2h1v1h-1zM282.5 101.2h1v1h-1zM287.5 101.2h1v1h-1zM290.5 101.2h1v1h-1zM263.5 102.2h1v1h-1zM278.5 102.2h1v1h-1zM280.5 102.2h1v1h-1zM287.5 102.2h1v1h-1zM288.5 102.2h1v1h-1zM267.5 103.2h1v1h-1zM273.5 103.2h1v1h-1zM276.5 103.2h1v1h-1zM284.5 103.2h1v1h-1zM288.5 103.2h1v1h-1zM289.5 103.2h1v1h-1zM291.5 103.2h1v1h-1zM270.5 104.2h1v1h-1zM279.5 104.2h1v1h-1zM288.5 104.2h1v1h-1zM291.5 104.2h1v1h-1zM262.5 105.2h1v1h-1zM265.5 105.2h1v1h-1zM267.5 105.2h1v1h-1zM271.5 105.2h1v1h-1zM261.5 106.2h1v1h-1zM289.5 106.2h1v1h-1zM290.5 106.2h1v1h-1zM263.5 107.2h1v1h-1zM272.5 107.2h1v1h-1zM276.5 107.2h1v1h-1zM277.5 107.2h1v1h-1zM280.5 107.2h1v1h-1zM288.5 107.2h1v1h-1zM289.5 107.2h1v1h-1zM265.5 108.2h1v1h-1zM266.5 108.2h1v1h-1zM274.5 108.2h1v1h-1zM275.5 108.2h1v1h-1zM277.5 108.2h1v1h-1zM279.5 108.2h1v1h-1zM280.5 108.2h1v1h-1zM289.5 108.2h1v1h-1zM290.5 108.2h1v1h-1zM291.5 108.2h1v1h-1zM271.5 109.2h1v1h-1zM273.5 109.2h1v1h-1zM275.5 109.2h1v1h-1zM280.5 109.2h1v1h-1zM289.5 109.2h1v1h-1zM290.5 109.2h1v1h-1zM260.5 110.2h1v1h-1zM267.5 110.2h1v1h-1zM273.5 110.2h1v1h-1zM276.5 110.2h1v1h-1zM277.5 110.2h1v1h-1zM279.5 111.2h1v1h-1zM288.5 111.2h1v1h-1zM270.5 112.2h1v1h-1zM274.5 112.2h1v1h-1zM278.5 112.2h1v1h-1zM288.5 112.2h1v1h-1zM293.5 112.2h1v1h-1zM269.5 113.2h1v1h-1zM274.5 113.2h1v1h-1zM277.5 113.2h1v1h-1zM283.5 113.2h1v1h-1zM287.5 113.2h1v1h-1zM290.5 113.2h1v1h-1zM271.5 114.2h1v1h-1zM273.5 114.2h1v1h-1zM278.5 114.2h1v1h-1zM281.5 114.2h1v1h-1zM288.5 114.2h1v1h-1zM290.5 114.2h1v1h-1zM259.5 115.2h1v1h-1zM272.5 115.2h1v1h-1zM273.5 115.2h1v1h-1zM274.5 115.2h1v1h-1zM275.5 115.2h1v1h-1zM286.5 115.2h1v1h-1zM287.5 115.2h1v1h-1zM270.5 116.2h1v1h-1zM272.5 116.2h1v1h-1zM275.5 116.2h1v1h-1zM277.5 116.2h1v1h-1zM278.5 116.2h1v1h-1zM279.5 116.2h1v1h-1zM288.5 116.2h1v1h-1zM289.5 116.2h1v1h-1zM265.5 117.2h1v1h-1zM269.5 117.2h1v1h-1zM275.5 117.2h1v1h-1zM278.5 117.2h1v1h-1zM280.5 117.2h1v1h-1zM281.5 117.2h1v1h-1zM282.5 117.2h1v1h-1zM283.5 117.2h1v1h-1zM287.5 117.2h1v1h-1zM266.5 118.2h1v1h-1zM270.5 118.2h1v1h-1zM273.5 118.2h1v1h-1zM279.5 118.2h1v1h-1zM282.5 118.2h1v1h-1zM284.5 118.2h1v1h-1zM286.5 118.2h1v1h-1zM287.5 118.2h1v1h-1zM292.5 118.2h1v1h-1zM287.5 119.2h1v1h-1zM291.5 119.2h1v1h-1zM280.5 120.2h1v1h-1zM283.5 120.2h1v1h-1zM284.5 120.2h1v1h-1zM293.5 120.2h1v1h-1zM279.5 121.2h1v1h-1zM280.5 121.2h1v1h-1zM272.5 122.2h1v1h-1zM268.5 123.2h1v1h-1zM277.5 123.2h1v1h-1zM256.5 124.2h1v1h-1zM275.5 124.2h1v1h-1zM281.5 124.2h1v1h-1zM286.5 124.2h1v1h-1zM281.5 125.2h1v1h-1zM277.5 126.2h1v1h-1zM279.5 126.2h1v1h-1zM287.5 126.2h1v1h-1zM268.5 127.2h1v1h-1zM273.5 127.2h1v1h-1zM279.5 127.2h1v1h-1zM280.5 127.2h1v1h-1zM273.5 128.2h1v1h-1zM279.5 128.2h1v1h-1zM273.5 129.2h1v1h-1zM281.5 129.2h1v1h-1zM267.5 130.2h1v1h-1zM273.5 130.2h1v1h-1zM276.5 130.2h1v1h-1zM279.5 130.2h1v1h-1zM283.5 130.2h1v1h-1zM270.5 131.2h1v1h-1zM271.5 131.2h1v1h-1zM281.5 131.2h1v1h-1zM290.5 131.2h1v1h-1zM267.5 132.2h1v1h-1zM274.5 132.2h1v1h-1zM281.5 132.2h1v1h-1zM283.5 132.2h1v1h-1zM284.5 132.2h1v1h-1zM278.5 133.2h1v1h-1zM282.5 133.2h1v1h-1zM275.5 134.2h1v1h-1zM278.5 134.2h1v1h-1zM285.5 134.2h1v1h-1zM274.5 135.2h1v1h-1zM275.5 135.2h1v1h-1zM276.5 135.2h1v1h-1zM277.5 135.2h1v1h-1zM280.5 135.2h1v1h-1zM289.5 135.2h1v1h-1zM267.5 136.2h1v1h-1zM269.5 136.2h1v1h-1zM273.5 136.2h1v1h-1zM280.5 136.2h1v1h-1zM289.5 136.2h1v1h-1zM272.5 137.2h1v1h-1zM276.5 137.2h1v1h-1zM279.5 137.2h1v1h-1zM267.5 138.2h1v1h-1zM287.5 138.2h1v1h-1zM272.5 139.2h1v1h-1zM277.5 139.2h1v1h-1zM281.5 140.2h1v1h-1zM278.5 143.2h1v1h-1zM284.5 145.2h1v1h-1z"/><path fill="#a0a0f6" d="M283.5 96.2h1v1h-1zM284.5 96.2h1v1h-1zM289.5 96.2h1v1h-1zM282.5 97.2h1v1h-1zM288.5 97.2h1v1h-1zM284.5 98.2h1v1h-1zM280.5 99.2h1v1h-1zM280.5 100.2h1v1h-1zM287.5 100.2h1v1h-1zM290.5 100.2h1v1h-1zM280.5 101.2h1v1h-1zM281.5 101.2h1v1h-1zM283.5 101.2h1v1h-1zM286.5 101.2h1v1h-1zM281.5 102.2h1v1h-1zM283.5 102.2h1v1h-1zM280.5 103.2h1v1h-1zM286.5 103.2h1v1h-1zM289.5 104.2h1v1h-1zM275.5 105.2h1v1h-1zM278.5 105.2h1v1h-1zM280.5 105.2h1v1h-1zM284.5 105.2h1v1h-1zM289.5 105.2h1v1h-1zM277.5 106.2h1v1h-1zM278.5 106.2h1v1h-1zM279.5 106.2h1v1h-1zM280.5 106.2h1v1h-1zM281.5 106.2h1v1h-1zM278.5 107.2h1v1h-1zM279.5 107.2h1v1h-1zM287.5 107.2h1v1h-1zM282.5 108.2h1v1h-1zM288.5 108.2h1v1h-1zM278.5 110.2h1v1h-1zM279.5 110.2h1v1h-1zM287.5 110.2h1v1h-1zM288.5 110.2h1v1h-1zM289.5 110.2h1v1h-1zM273.5 111.2h1v1h-1zM281.5 111.2h1v1h-1zM285.5 111.2h1v1h-1zM287.5 112.2h1v1h-1zM280.5 113.2h1v1h-1zM281.5 113.2h1v1h-1zM284.5 113.2h1v1h-1zM286.5 113.2h1v1h-1zM279.5 114.2h1v1h-1zM285.5 114.2h1v1h-1zM279.5 115.2h1v1h-1zM280.5 115.2h1v1h-1zM281.5 115.2h1v1h-1zM283.5 115.2h1v1h-1zM281.5 116.2h1v1h-1zM283.5 116.2h1v1h-1zM286.5 116.2h1v1h-1zM287.5 116.2h1v1h-1zM284.5 117.2h1v1h-1zM285.5 118.2h1v1h-1zM285.5 119.2h1v1h-1zM287.5 121.2h1v1h-1zM284.5 122.2h1v1h-1zM272.5 126.2h1v1h-1zM271.5 127.2h1v1h-1zM272.5 131.2h1v1h-1zM276.5 131.2h1v1h-1zM277.5 132.2h1v1h-1zM275.5 138.2h1v1h-1z"/><path fill="#6a6af2" d="M281.5 97.2h1v1h-1zM281.5 98.2h1v1h-1zM283.5 98.2h1v1h-1zM287.5 98.2h1v1h-1zM285.5 99.2h1v1h-1zM283.5 100.2h1v1h-1zM286.5 100.2h1v1h-1zM282.5 102.2h1v1h-1zM284.5 102.2h1v1h-1zM286.5 102.2h1v1h-1zM279.5 103.2h1v1h-1zM281.5 103.2h1v1h-1zM282.5 103.2h1v1h-1zM285.5 103.2h1v1h-1zM287.5 103.2h1v1h-1zM281.5 104.2h1v1h-1zM282.5 104.2h1v1h-1zM279.5 105.2h1v1h-1zM281.5 105.2h1v1h-1zM283.5 105.2h1v1h-1zM285.5 105.2h1v1h-1zM286.5 105.2h1v1h-1zM287.5 106.2h1v1h-1zM281.5 107.2h1v1h-1zM286.5 107.2h1v1h-1zM281.5 108.2h1v1h-1zM279.5 109.2h1v1h-1zM286.5 109.2h1v1h-1zM287.5 109.2h1v1h-1zM288.5 109.2h1v1h-1zM280.5 110.2h1v1h-1zM286.5 110.2h1v1h-1zM280.5 111.2h1v1h-1zM284.5 111.2h1v1h-1zM286.5 111.2h1v1h-1zM280.5 112.2h1v1h-1zM286.5 112.2h1v1h-1zM279.5 113.2h1v1h-1zM277.5 114.2h1v1h-1zM282.5 114.2h1v1h-1zM284.5 114.2h1v1h-1zM286.5 114.2h1v1h-1zM285.5 115.2h1v1h-1zM282.5 116.2h1v1h-1zM284.5 116.2h1v1h-1zM281.5 118.2h1v1h-1zM283.5 119.2h1v1h-1zM286.5 121.2h1v1h-1zM278.5 123.2h1v1h-1z"/><path fill="#2060f8" d="M282.5 100.2h1v1h-1zM284.5 101.2h1v1h-1zM283.5 104.2h1v1h-1zM285.5 104.2h1v1h-1zM282.5 105.2h1v1h-1zM283.5 106.2h1v1h-1zM286.5 106.2h1v1h-1zM282.5 107.2h1v1h-1zM285.5 108.2h1v1h-1zM286.5 108.2h1v1h-1zM283.5 109.2h1v1h-1zM283.5 110.2h1v1h-1zM285.5 110.2h1v1h-1zM282.5 111.2h1v1h-1zM281.5 112.2h1v1h-1zM285.5 112.2h1v1h-1z"/><path fill="#3a44f4" d="M285.5 102.2h1v1h-1zM280.5 104.2h1v1h-1zM284.5 104.2h1v1h-1zM287.5 104.2h1v1h-1zM287.5 105.2h1v1h-1zM282.5 106.2h1v1h-1zM285.5 106.2h1v1h-1zM283.5 107.2h1v1h-1zM284.5 107.2h1v1h-1zM287.5 108.2h1v1h-1zM281.5 109.2h1v1h-1zM284.5 109.2h1v1h-1zM281.5 110.2h1v1h-1zM282.5 110.2h1v1h-1zM287.5 111.2h1v1h-1zM282.5 112.2h1v1h-1zM283.5 112.2h1v1h-1zM284.5 112.2h1v1h-1zM282.5 113.2h1v1h-1zM285.5 113.2h1v1h-1zM283.5 114.2h1v1h-1zM287.5 114.2h1v1h-1z"/><path fill="#0090f0" d="M284.5 106.2h1v1h-1zM284.5 108.2h1v1h-1zM285.5 109.2h1v1h-1zM284.5 110.2h1v1h-1zM283.5 111.2h1v1h-1z"/><path fill="#10b0a0" d="M285.5 107.2h1v1h-1zM283.5 108.2h1v1h-1z"/><path fill="#40c050" d="M282.5 109.2h1v1h-1z"/></g><rect x="252.50" y="94.50" width="52.00" height="52.00" fill="none" stroke="#b8b8b8" stroke-width="1"/><line x1="289.50" y1="94.20" x2="289.50" y2="146.50" stroke="#5a5a5a" stroke-width="1"/><line x1="252.50" y1="120.50" x2="304.80" y2="120.50" stroke="#5a5a5a" stroke-width="1"/><rect x="253.40" y="95.10" width="36.20" height="25.00" fill="none" stroke="#f80c0c" stroke-width="1.8"/><line x1="26.50" y1="152.60" x2="26.50" y2="68.00" stroke="#231f20" stroke-width="1"/><path d="M26.5 64.6 L23.9 70.6 L29.1 70.6 Z" fill="#231f20"/><line x1="25.90" y1="152.50" x2="274.00" y2="152.50" stroke="#231f20" stroke-width="1"/><path d="M278.6 152.6 L272.6 150.0 L272.6 155.2 Z" fill="#231f20"/><text x="28.40" y="49.70" font-size="5.6" text-anchor="middle" fill="#231f20" stroke="#231f20" stroke-width="0.12" font-style="italic" transform="rotate(-90 28.40 49.70)">Hoechst</text><text x="281.00" y="154.70" font-size="5.6" text-anchor="start" fill="#231f20" stroke="#231f20" stroke-width="0.12" font-style="italic">Annexin-V</text><text x="316.80" y="66.20" font-size="5.8" text-anchor="middle" fill="#6ea555" stroke="#6ea555" stroke-width="0.12" transform="rotate(90 316.80 66.20)">Cell gate for</text><text x="309.70" y="66.20" font-size="5.8" text-anchor="middle" fill="#6ea555" stroke="#6ea555" stroke-width="0.12" transform="rotate(90 309.70 66.20)">large T cells</text><text x="316.80" y="120.00" font-size="5.8" text-anchor="middle" fill="#d4473f" stroke="#d4473f" stroke-width="0.12" transform="rotate(90 316.80 120.00)">Cell gate for</text><text x="310.1" y="120" font-size="5.8" text-anchor="middle" fill="#d4473f" stroke="#d4473f" stroke-width="0.12" transform="rotate(90 310.1 120)">FSC<tspan font-size="4" dy="-1.7">low</tspan><tspan dy="1.7"> cells</tspan></text><text x="338.80" y="18.40" font-size="13.5" text-anchor="start" fill="#000" font-weight="bold">B</text><line x1="395.50" y1="133.90" x2="395.50" y2="18.30" stroke="#231f20" stroke-width="1"/><line x1="395.10" y1="133.50" x2="460.50" y2="133.50" stroke="#231f20" stroke-width="1"/><line x1="392.60" y1="133.50" x2="395.60" y2="133.50" stroke="#231f20" stroke-width="1"/><text x="389.00" y="136.30" font-size="6.8" text-anchor="end" fill="#231f20" stroke="#231f20" stroke-width="0.12">0</text><line x1="392.60" y1="111.50" x2="395.60" y2="111.50" stroke="#231f20" stroke-width="1"/><text x="389.00" y="113.68" font-size="6.8" text-anchor="end" fill="#231f20" stroke="#231f20" stroke-width="0.12">200</text><line x1="392.60" y1="88.50" x2="395.60" y2="88.50" stroke="#231f20" stroke-width="1"/><text x="389.00" y="91.06" font-size="6.8" text-anchor="end" fill="#231f20" stroke="#231f20" stroke-width="0.12">400</text><line x1="392.60" y1="66.50" x2="395.60" y2="66.50" stroke="#231f20" stroke-width="1"/><text x="389.00" y="68.44" font-size="6.8" text-anchor="end" fill="#231f20" stroke="#231f20" stroke-width="0.12">600</text><line x1="392.60" y1="43.50" x2="395.60" y2="43.50" stroke="#231f20" stroke-width="1"/><text x="389.00" y="45.82" font-size="6.8" text-anchor="end" fill="#231f20" stroke="#231f20" stroke-width="0.12">800</text><line x1="392.60" y1="20.50" x2="395.60" y2="20.50" stroke="#231f20" stroke-width="1"/><text x="389.00" y="23.20" font-size="6.8" text-anchor="end" fill="#231f20" stroke="#231f20" stroke-width="0.12">1000</text><rect x="396.90" y="65.47" width="9.00" height="68.43" fill="#4b2367"/><line x1="401.50" y1="65.47" x2="401.50" y2="46.81" stroke="#231f20" stroke-width="1"/><line x1="399.60" y1="46.50" x2="403.20" y2="46.50" stroke="#231f20" stroke-width="1.1"/><rect x="409.60" y="48.51" width="9.00" height="85.39" fill="#4b2367"/><line x1="414.50" y1="48.51" x2="414.50" y2="28.72" stroke="#231f20" stroke-width="1"/><line x1="412.30" y1="28.50" x2="415.90" y2="28.50" stroke="#231f20" stroke-width="1.1"/><rect x="422.60" y="115.80" width="9.00" height="18.10" fill="#e8921e"/><line x1="427.50" y1="115.80" x2="427.50" y2="113.54" stroke="#231f20" stroke-width="1"/><line x1="425.30" y1="113.50" x2="428.90" y2="113.50" stroke="#231f20" stroke-width="1.1"/><rect x="435.30" y="113.54" width="9.00" height="20.36" fill="#23407a"/><line x1="439.50" y1="113.54" x2="439.50" y2="106.19" stroke="#231f20" stroke-width="1"/><line x1="438.00" y1="106.50" x2="441.60" y2="106.50" stroke="#231f20" stroke-width="1.1"/><rect x="447.70" y="114.67" width="9.00" height="19.23" fill="#5fa8e4"/><line x1="452.50" y1="114.67" x2="452.50" y2="110.15" stroke="#231f20" stroke-width="1"/><line x1="450.40" y1="110.50" x2="454.00" y2="110.50" stroke="#231f20" stroke-width="1.1"/><line x1="401.20" y1="21.50" x2="451.80" y2="21.50" stroke="#231f20" stroke-width="1"/><text x="427.00" y="20.10" font-size="4.8" text-anchor="middle" fill="#231f20" stroke="#231f20" stroke-width="0.12">*</text><line x1="401.20" y1="27.50" x2="427.00" y2="27.50" stroke="#231f20" stroke-width="1"/><text x="414.30" y="26.40" font-size="4.8" text-anchor="middle" fill="#231f20" stroke="#231f20" stroke-width="0.12">*</text><line x1="416.20" y1="32.50" x2="452.00" y2="32.50" stroke="#231f20" stroke-width="1"/><text x="433.80" y="31.90" font-size="4.8" text-anchor="middle" fill="#231f20" stroke="#231f20" stroke-width="0.12">*</text><line x1="416.20" y1="41.50" x2="439.30" y2="41.50" stroke="#231f20" stroke-width="1"/><text x="427.50" y="40.10" font-size="4.8" text-anchor="middle" fill="#231f20" stroke="#231f20" stroke-width="0.12">*</text><line x1="416.20" y1="47.50" x2="426.80" y2="47.50" stroke="#231f20" stroke-width="1"/><text x="421.30" y="46.60" font-size="4.8" text-anchor="middle" fill="#231f20" stroke="#231f20" stroke-width="0.12">*</text><rect x="462.20" y="18.80" width="4.40" height="4.40" fill="#4b2367"/><text x="470.20" y="23.00" font-size="5.5" text-anchor="start" fill="#231f20" stroke="#231f20" stroke-width="0.12">no T cell stimulus</text><rect x="462.20" y="27.00" width="4.40" height="4.40" fill="#e8921e"/><text x="470.20" y="31.20" font-size="5.5" text-anchor="start" fill="#231f20" stroke="#231f20" stroke-width="0.12">αCD3/28</text><rect x="462.20" y="35.20" width="4.40" height="4.40" fill="#23407a"/><text x="470.20" y="39.40" font-size="5.5" text-anchor="start" fill="#231f20" stroke="#231f20" stroke-width="0.12">IL-15</text><rect x="462.20" y="43.40" width="4.40" height="4.40" fill="#5fa8e4"/><text x="470.20" y="47.60" font-size="5.5" text-anchor="start" fill="#231f20" stroke="#231f20" stroke-width="0.12">PHA</text><text x="388.80" y="144.50" font-size="6.7" text-anchor="end" fill="#231f20" stroke="#231f20" stroke-width="0.12">Neutrophils</text><text x="388.80" y="154.90" font-size="6.7" text-anchor="end" fill="#231f20" stroke="#231f20" stroke-width="0.12">TNFα</text><text x="401.30" y="144.50" font-size="7.2" text-anchor="middle" fill="#231f20" stroke="#231f20" stroke-width="0.12">–</text><text x="413.90" y="144.50" font-size="7.2" text-anchor="middle" fill="#231f20" stroke="#231f20" stroke-width="0.12">+</text><text x="426.90" y="144.50" font-size="7.2" text-anchor="middle" fill="#231f20" stroke="#231f20" stroke-width="0.12">+</text><text x="439.30" y="144.50" font-size="7.2" text-anchor="middle" fill="#231f20" stroke="#231f20" stroke-width="0.12">+</text><text x="452.00" y="144.50" font-size="7.2" text-anchor="middle" fill="#231f20" stroke="#231f20" stroke-width="0.12">+</text><text x="401.30" y="154.90" font-size="7.2" text-anchor="middle" fill="#231f20" stroke="#231f20" stroke-width="0.12">–</text><text x="413.90" y="154.90" font-size="7.2" text-anchor="middle" fill="#231f20" stroke="#231f20" stroke-width="0.12">–</text><text x="426.90" y="154.90" font-size="7.2" text-anchor="middle" fill="#231f20" stroke="#231f20" stroke-width="0.12">+</text><text x="439.30" y="154.90" font-size="7.2" text-anchor="middle" fill="#231f20" stroke="#231f20" stroke-width="0.12">+</text><text x="452.00" y="154.90" font-size="7.2" text-anchor="middle" fill="#231f20" stroke="#231f20" stroke-width="0.12">+</text><text x="355.20" y="76.30" font-size="8.6" text-anchor="middle" fill="#231f20" font-weight="bold" textLength="51.00" lengthAdjust="spacingAndGlyphs" transform="rotate(-90 355.20 76.30)">Cleaved caspase 3</text><text x="367.80" y="75.60" font-size="8.6" text-anchor="middle" fill="#231f20" font-weight="bold" textLength="76.80" lengthAdjust="spacingAndGlyphs" transform="rotate(-90 367.80 75.60)">(MFI corrected for isotype)</text><text x="8.60" y="184.20" font-size="13.5" text-anchor="start" fill="#000" font-weight="bold">C</text><line x1="50.50" y1="187.80" x2="50.50" y2="278.20" stroke="#231f20" stroke-width="1.2"/><line x1="50.10" y1="277.50" x2="152.30" y2="277.50" stroke="#231f20" stroke-width="1.2"/><line x1="48.40" y1="191.50" x2="50.60" y2="191.50" stroke="#231f20" stroke-width="1"/><text x="44.60" y="193.80" font-size="6.5" text-anchor="end" fill="#231f20" stroke="#231f20" stroke-width="0.12">20</text><line x1="48.40" y1="212.50" x2="50.60" y2="212.50" stroke="#231f20" stroke-width="1"/><text x="44.60" y="215.50" font-size="6.5" text-anchor="end" fill="#231f20" stroke="#231f20" stroke-width="0.12">10</text><line x1="48.40" y1="234.50" x2="50.60" y2="234.50" stroke="#231f20" stroke-width="1"/><text x="44.60" y="237.20" font-size="6.5" text-anchor="end" fill="#231f20" stroke="#231f20" stroke-width="0.12">0</text><line x1="48.40" y1="256.50" x2="50.60" y2="256.50" stroke="#231f20" stroke-width="1"/><text x="44.60" y="258.90" font-size="6.5" text-anchor="end" fill="#231f20" stroke="#231f20" stroke-width="0.12">−10</text><line x1="48.40" y1="277.50" x2="50.60" y2="277.50" stroke="#231f20" stroke-width="1"/><text x="44.60" y="280.60" font-size="6.5" text-anchor="end" fill="#231f20" stroke="#231f20" stroke-width="0.12">−20</text><line x1="50.50" y1="277.70" x2="50.50" y2="279.70" stroke="#231f20" stroke-width="1"/><text x="50.64" y="290.90" font-size="6.5" text-anchor="middle" fill="#231f20" stroke="#231f20" stroke-width="0.12">−30</text><line x1="67.50" y1="277.70" x2="67.50" y2="279.70" stroke="#231f20" stroke-width="1"/><text x="67.16" y="290.90" font-size="6.5" text-anchor="middle" fill="#231f20" stroke="#231f20" stroke-width="0.12">−20</text><line x1="83.50" y1="277.70" x2="83.50" y2="279.70" stroke="#231f20" stroke-width="1"/><text x="83.68" y="290.90" font-size="6.5" text-anchor="middle" fill="#231f20" stroke="#231f20" stroke-width="0.12">−10</text><line x1="100.50" y1="277.70" x2="100.50" y2="279.70" stroke="#231f20" stroke-width="1"/><text x="100.20" y="290.90" font-size="6.5" text-anchor="middle" fill="#231f20" stroke="#231f20" stroke-width="0.12">0</text><line x1="116.50" y1="277.70" x2="116.50" y2="279.70" stroke="#231f20" stroke-width="1"/><text x="116.72" y="290.90" font-size="6.5" text-anchor="middle" fill="#231f20" stroke="#231f20" stroke-width="0.12">10</text><line x1="133.50" y1="277.70" x2="133.50" y2="279.70" stroke="#231f20" stroke-width="1"/><text x="133.24" y="290.90" font-size="6.5" text-anchor="middle" fill="#231f20" stroke="#231f20" stroke-width="0.12">20</text><line x1="149.50" y1="277.70" x2="149.50" y2="279.70" stroke="#231f20" stroke-width="1"/><text x="149.76" y="290.90" font-size="6.5" text-anchor="middle" fill="#231f20" stroke="#231f20" stroke-width="0.12">30</text><text x="101.40" y="302.00" font-size="8.6" text-anchor="middle" fill="#231f20" font-weight="bold" textLength="62.00" lengthAdjust="spacingAndGlyphs">Component 1 (59.7%)</text><text x="26.30" y="233.00" font-size="8.6" text-anchor="middle" fill="#231f20" font-weight="bold" textLength="63.50" lengthAdjust="spacingAndGlyphs" transform="rotate(-90 26.30 233.00)">Component 2 (18.6%)</text><circle cx="78.4" cy="205.2" r="1.55" fill="#5fae3e"/><circle cx="67.0" cy="243.4" r="1.55" fill="#5fae3e"/><circle cx="63.7" cy="244.7" r="1.55" fill="#5fae3e"/><rect x="134.70" y="199.30" width="3.20" height="3.20" fill="#b0182c"/><rect x="122.30" y="250.30" width="3.20" height="3.20" fill="#b0182c"/><rect x="129.10" y="259.20" width="3.20" height="3.20" fill="#b0182c"/><text x="80.30" y="202.60" font-size="6.6" text-anchor="start" fill="#231f20" stroke="#231f20" stroke-width="0.12">L2</text><text x="68.00" y="239.70" font-size="6.6" text-anchor="start" fill="#231f20" stroke="#231f20" stroke-width="0.12">L3</text><text x="56.00" y="253.00" font-size="6.6" text-anchor="start" fill="#231f20" stroke="#231f20" stroke-width="0.12">L1</text><text x="137.80" y="197.70" font-size="6.6" text-anchor="start" fill="#231f20" stroke="#231f20" stroke-width="0.12">S2</text><text x="124.60" y="248.70" font-size="6.6" text-anchor="start" fill="#231f20" stroke="#231f20" stroke-width="0.12">S1</text><text x="132.60" y="257.80" font-size="6.6" text-anchor="start" fill="#231f20" stroke="#231f20" stroke-width="0.12">S3</text><text x="171.30" y="184.20" font-size="13.5" text-anchor="start" fill="#000" font-weight="bold">D</text><path fill="#a3a3a5" d="M252.1 276.8h1.2v1.2h-1.2zM253.2 271.4h1.2v1.2h-1.2zM251.0 270.8h1.2v1.2h-1.2zM248.7 205.1h1.2v1.2h-1.2zM250.4 271.1h1.2v1.2h-1.2zM248.3 245.9h1.2v1.2h-1.2zM252.3 275.6h1.2v1.2h-1.2zM257.3 265.1h1.2v1.2h-1.2zM250.2 270.1h1.2v1.2h-1.2zM249.7 267.7h1.2v1.2h-1.2zM254.0 271.0h1.2v1.2h-1.2zM253.5 257.7h1.2v1.2h-1.2zM252.5 276.2h1.2v1.2h-1.2zM248.5 257.5h1.2v1.2h-1.2zM252.0 275.8h1.2v1.2h-1.2zM254.8 267.9h1.2v1.2h-1.2zM246.9 252.3h1.2v1.2h-1.2zM250.3 263.1h1.2v1.2h-1.2zM244.8 241.2h1.2v1.2h-1.2zM247.1 248.7h1.2v1.2h-1.2zM245.0 230.3h1.2v1.2h-1.2zM251.2 275.4h1.2v1.2h-1.2zM247.2 225.6h1.2v1.2h-1.2zM253.1 258.6h1.2v1.2h-1.2zM252.7 271.1h1.2v1.2h-1.2zM251.4 271.2h1.2v1.2h-1.2zM242.4 258.2h1.2v1.2h-1.2zM250.0 268.6h1.2v1.2h-1.2zM251.9 276.4h1.2v1.2h-1.2zM252.5 273.3h1.2v1.2h-1.2zM246.2 230.0h1.2v1.2h-1.2zM250.3 271.9h1.2v1.2h-1.2zM248.3 261.8h1.2v1.2h-1.2zM249.0 272.6h1.2v1.2h-1.2zM256.2 260.4h1.2v1.2h-1.2zM249.0 262.2h1.2v1.2h-1.2zM252.0 276.4h1.2v1.2h-1.2zM255.5 267.4h1.2v1.2h-1.2zM249.9 246.5h1.2v1.2h-1.2zM251.7 275.5h1.2v1.2h-1.2zM252.5 273.2h1.2v1.2h-1.2zM252.3 274.9h1.2v1.2h-1.2zM247.4 234.2h1.2v1.2h-1.2zM252.4 271.6h1.2v1.2h-1.2zM257.3 248.6h1.2v1.2h-1.2zM246.2 259.0h1.2v1.2h-1.2zM255.4 264.5h1.2v1.2h-1.2zM252.6 272.1h1.2v1.2h-1.2zM249.6 270.5h1.2v1.2h-1.2zM259.8 197.0h1.2v1.2h-1.2zM255.0 246.9h1.2v1.2h-1.2zM247.5 255.9h1.2v1.2h-1.2zM252.4 274.8h1.2v1.2h-1.2zM254.3 261.5h1.2v1.2h-1.2zM251.4 268.7h1.2v1.2h-1.2zM254.7 270.5h1.2v1.2h-1.2zM251.8 274.2h1.2v1.2h-1.2zM254.7 267.7h1.2v1.2h-1.2zM257.6 261.1h1.2v1.2h-1.2zM249.5 264.7h1.2v1.2h-1.2zM252.9 273.0h1.2v1.2h-1.2zM250.3 272.4h1.2v1.2h-1.2zM252.6 275.1h1.2v1.2h-1.2zM247.5 265.6h1.2v1.2h-1.2zM249.9 253.2h1.2v1.2h-1.2zM251.3 265.0h1.2v1.2h-1.2zM255.6 251.5h1.2v1.2h-1.2zM256.5 237.9h1.2v1.2h-1.2zM247.0 260.8h1.2v1.2h-1.2zM249.0 263.4h1.2v1.2h-1.2zM254.6 263.6h1.2v1.2h-1.2zM244.4 259.7h1.2v1.2h-1.2zM250.3 272.5h1.2v1.2h-1.2zM251.7 275.3h1.2v1.2h-1.2zM256.9 258.1h1.2v1.2h-1.2zM254.8 270.8h1.2v1.2h-1.2zM250.8 269.3h1.2v1.2h-1.2zM250.7 269.7h1.2v1.2h-1.2zM251.1 268.5h1.2v1.2h-1.2zM258.0 251.6h1.2v1.2h-1.2zM250.5 271.0h1.2v1.2h-1.2zM250.9 271.4h1.2v1.2h-1.2zM253.5 271.2h1.2v1.2h-1.2zM251.6 275.5h1.2v1.2h-1.2zM251.3 274.0h1.2v1.2h-1.2zM247.8 246.3h1.2v1.2h-1.2zM252.1 276.0h1.2v1.2h-1.2zM250.4 260.2h1.2v1.2h-1.2zM256.6 269.6h1.2v1.2h-1.2zM254.6 267.4h1.2v1.2h-1.2zM252.0 275.4h1.2v1.2h-1.2zM254.7 264.6h1.2v1.2h-1.2zM250.8 272.4h1.2v1.2h-1.2zM256.1 264.1h1.2v1.2h-1.2zM252.1 275.5h1.2v1.2h-1.2zM254.3 266.2h1.2v1.2h-1.2zM247.1 265.7h1.2v1.2h-1.2zM253.4 264.0h1.2v1.2h-1.2zM245.6 225.5h1.2v1.2h-1.2zM244.3 252.9h1.2v1.2h-1.2zM250.9 268.5h1.2v1.2h-1.2zM248.6 265.6h1.2v1.2h-1.2zM252.7 271.1h1.2v1.2h-1.2zM260.7 243.5h1.2v1.2h-1.2zM248.9 268.1h1.2v1.2h-1.2zM249.7 268.6h1.2v1.2h-1.2zM252.9 274.6h1.2v1.2h-1.2zM254.0 267.8h1.2v1.2h-1.2zM251.4 273.2h1.2v1.2h-1.2zM251.3 273.5h1.2v1.2h-1.2zM254.8 268.4h1.2v1.2h-1.2zM254.1 275.8h1.2v1.2h-1.2zM248.1 257.4h1.2v1.2h-1.2zM251.8 276.0h1.2v1.2h-1.2zM252.2 276.1h1.2v1.2h-1.2zM248.0 242.3h1.2v1.2h-1.2zM253.1 271.5h1.2v1.2h-1.2zM248.8 265.0h1.2v1.2h-1.2zM255.8 261.3h1.2v1.2h-1.2zM252.8 274.0h1.2v1.2h-1.2zM252.4 274.5h1.2v1.2h-1.2zM249.8 268.3h1.2v1.2h-1.2zM251.6 275.2h1.2v1.2h-1.2zM244.4 208.4h1.2v1.2h-1.2zM247.8 256.1h1.2v1.2h-1.2zM253.5 266.3h1.2v1.2h-1.2zM243.9 246.5h1.2v1.2h-1.2zM255.4 260.8h1.2v1.2h-1.2zM245.4 248.9h1.2v1.2h-1.2zM255.0 260.4h1.2v1.2h-1.2zM248.8 253.9h1.2v1.2h-1.2zM255.1 262.0h1.2v1.2h-1.2zM252.6 275.3h1.2v1.2h-1.2zM246.2 260.7h1.2v1.2h-1.2zM256.9 220.0h1.2v1.2h-1.2zM257.6 256.0h1.2v1.2h-1.2zM251.8 276.0h1.2v1.2h-1.2zM251.0 265.0h1.2v1.2h-1.2zM251.5 271.5h1.2v1.2h-1.2zM248.4 253.8h1.2v1.2h-1.2zM256.3 262.5h1.2v1.2h-1.2zM250.0 239.7h1.2v1.2h-1.2zM251.9 275.5h1.2v1.2h-1.2zM249.1 258.7h1.2v1.2h-1.2zM249.7 267.4h1.2v1.2h-1.2zM247.2 267.6h1.2v1.2h-1.2zM256.9 267.2h1.2v1.2h-1.2zM251.5 273.6h1.2v1.2h-1.2zM255.8 256.6h1.2v1.2h-1.2zM252.2 275.5h1.2v1.2h-1.2zM249.4 267.3h1.2v1.2h-1.2zM250.8 271.5h1.2v1.2h-1.2zM249.9 268.7h1.2v1.2h-1.2zM252.1 276.9h1.2v1.2h-1.2zM250.7 266.3h1.2v1.2h-1.2zM250.9 266.7h1.2v1.2h-1.2zM249.0 254.1h1.2v1.2h-1.2zM258.5 256.9h1.2v1.2h-1.2zM249.5 268.6h1.2v1.2h-1.2zM248.0 274.4h1.2v1.2h-1.2zM253.4 272.0h1.2v1.2h-1.2zM257.5 255.7h1.2v1.2h-1.2zM246.5 233.6h1.2v1.2h-1.2zM251.3 271.9h1.2v1.2h-1.2zM249.7 260.9h1.2v1.2h-1.2zM245.3 243.0h1.2v1.2h-1.2zM254.9 258.8h1.2v1.2h-1.2zM252.0 275.7h1.2v1.2h-1.2zM252.4 276.3h1.2v1.2h-1.2zM249.2 267.5h1.2v1.2h-1.2zM253.8 273.6h1.2v1.2h-1.2zM250.0 252.5h1.2v1.2h-1.2zM251.6 271.6h1.2v1.2h-1.2zM247.8 247.3h1.2v1.2h-1.2zM247.4 266.4h1.2v1.2h-1.2zM257.2 252.0h1.2v1.2h-1.2zM250.2 266.7h1.2v1.2h-1.2zM253.2 271.7h1.2v1.2h-1.2zM252.0 275.8h1.2v1.2h-1.2zM250.4 266.3h1.2v1.2h-1.2zM250.1 270.1h1.2v1.2h-1.2zM254.5 259.2h1.2v1.2h-1.2zM250.9 270.1h1.2v1.2h-1.2zM251.5 273.6h1.2v1.2h-1.2zM252.2 276.4h1.2v1.2h-1.2zM256.6 261.4h1.2v1.2h-1.2zM254.7 258.2h1.2v1.2h-1.2zM253.6 271.2h1.2v1.2h-1.2zM249.9 265.6h1.2v1.2h-1.2zM246.8 256.7h1.2v1.2h-1.2zM255.7 270.2h1.2v1.2h-1.2zM255.8 249.2h1.2v1.2h-1.2zM251.6 275.2h1.2v1.2h-1.2zM254.2 262.8h1.2v1.2h-1.2zM255.1 257.7h1.2v1.2h-1.2zM255.3 271.1h1.2v1.2h-1.2zM255.6 268.2h1.2v1.2h-1.2zM250.3 271.4h1.2v1.2h-1.2zM257.9 261.3h1.2v1.2h-1.2zM247.3 266.6h1.2v1.2h-1.2zM255.4 254.3h1.2v1.2h-1.2zM254.0 269.5h1.2v1.2h-1.2zM255.5 258.3h1.2v1.2h-1.2zM259.3 252.2h1.2v1.2h-1.2zM257.8 243.9h1.2v1.2h-1.2zM247.7 264.8h1.2v1.2h-1.2zM245.6 248.7h1.2v1.2h-1.2zM255.2 257.1h1.2v1.2h-1.2zM248.2 259.4h1.2v1.2h-1.2zM252.1 276.3h1.2v1.2h-1.2zM255.3 269.5h1.2v1.2h-1.2zM245.8 245.8h1.2v1.2h-1.2zM244.0 233.5h1.2v1.2h-1.2zM253.1 270.3h1.2v1.2h-1.2zM252.3 276.3h1.2v1.2h-1.2zM251.2 270.1h1.2v1.2h-1.2zM252.2 273.1h1.2v1.2h-1.2zM248.8 264.5h1.2v1.2h-1.2zM246.3 245.8h1.2v1.2h-1.2zM251.5 273.2h1.2v1.2h-1.2zM248.4 273.3h1.2v1.2h-1.2zM245.8 246.8h1.2v1.2h-1.2zM254.0 270.3h1.2v1.2h-1.2zM251.9 274.0h1.2v1.2h-1.2zM253.7 270.6h1.2v1.2h-1.2zM248.3 266.6h1.2v1.2h-1.2zM249.6 267.0h1.2v1.2h-1.2zM248.3 257.7h1.2v1.2h-1.2zM248.7 264.5h1.2v1.2h-1.2zM252.9 273.7h1.2v1.2h-1.2zM249.1 271.0h1.2v1.2h-1.2zM253.5 270.9h1.2v1.2h-1.2zM253.4 267.6h1.2v1.2h-1.2zM246.7 241.4h1.2v1.2h-1.2zM255.5 254.6h1.2v1.2h-1.2zM251.8 273.9h1.2v1.2h-1.2zM252.0 276.2h1.2v1.2h-1.2zM246.5 209.6h1.2v1.2h-1.2zM250.3 261.6h1.2v1.2h-1.2zM255.0 264.5h1.2v1.2h-1.2zM251.8 272.8h1.2v1.2h-1.2zM252.4 275.3h1.2v1.2h-1.2zM251.0 270.4h1.2v1.2h-1.2zM256.5 255.2h1.2v1.2h-1.2zM252.0 276.7h1.2v1.2h-1.2zM243.6 266.5h1.2v1.2h-1.2zM249.4 268.5h1.2v1.2h-1.2zM244.5 267.2h1.2v1.2h-1.2zM250.1 267.9h1.2v1.2h-1.2zM257.2 268.8h1.2v1.2h-1.2zM252.3 274.5h1.2v1.2h-1.2zM247.6 243.3h1.2v1.2h-1.2zM248.5 260.3h1.2v1.2h-1.2zM256.4 225.6h1.2v1.2h-1.2zM252.7 268.4h1.2v1.2h-1.2zM252.3 276.3h1.2v1.2h-1.2zM251.9 275.2h1.2v1.2h-1.2zM252.2 275.7h1.2v1.2h-1.2zM255.2 258.6h1.2v1.2h-1.2zM254.2 258.0h1.2v1.2h-1.2zM252.9 274.2h1.2v1.2h-1.2zM248.1 264.5h1.2v1.2h-1.2zM254.1 271.5h1.2v1.2h-1.2zM249.5 269.7h1.2v1.2h-1.2zM256.3 258.6h1.2v1.2h-1.2zM247.2 268.2h1.2v1.2h-1.2zM251.6 274.7h1.2v1.2h-1.2zM252.1 275.2h1.2v1.2h-1.2zM247.0 255.6h1.2v1.2h-1.2zM258.7 240.7h1.2v1.2h-1.2zM257.7 268.6h1.2v1.2h-1.2zM250.3 271.9h1.2v1.2h-1.2zM255.1 267.4h1.2v1.2h-1.2zM253.6 270.0h1.2v1.2h-1.2zM253.1 269.1h1.2v1.2h-1.2zM251.9 275.3h1.2v1.2h-1.2zM252.4 275.5h1.2v1.2h-1.2zM248.0 258.8h1.2v1.2h-1.2zM251.1 270.1h1.2v1.2h-1.2zM251.4 274.6h1.2v1.2h-1.2zM256.7 236.9h1.2v1.2h-1.2zM253.4 268.6h1.2v1.2h-1.2zM252.1 276.6h1.2v1.2h-1.2zM258.0 250.0h1.2v1.2h-1.2zM250.0 264.1h1.2v1.2h-1.2zM250.6 264.2h1.2v1.2h-1.2zM245.1 223.3h1.2v1.2h-1.2zM258.1 244.0h1.2v1.2h-1.2zM255.8 247.2h1.2v1.2h-1.2zM255.6 258.6h1.2v1.2h-1.2zM254.7 253.4h1.2v1.2h-1.2zM252.5 274.2h1.2v1.2h-1.2zM252.9 275.4h1.2v1.2h-1.2zM251.1 265.8h1.2v1.2h-1.2zM251.3 273.1h1.2v1.2h-1.2zM252.3 276.0h1.2v1.2h-1.2zM257.9 254.6h1.2v1.2h-1.2zM254.2 271.0h1.2v1.2h-1.2zM251.9 273.1h1.2v1.2h-1.2zM249.9 263.6h1.2v1.2h-1.2zM249.7 272.8h1.2v1.2h-1.2zM258.3 239.5h1.2v1.2h-1.2zM254.0 268.2h1.2v1.2h-1.2zM252.4 273.3h1.2v1.2h-1.2zM250.8 272.6h1.2v1.2h-1.2zM247.8 272.1h1.2v1.2h-1.2zM251.8 275.8h1.2v1.2h-1.2zM255.5 264.8h1.2v1.2h-1.2zM250.6 271.4h1.2v1.2h-1.2zM251.2 273.8h1.2v1.2h-1.2zM251.3 272.2h1.2v1.2h-1.2zM252.5 271.3h1.2v1.2h-1.2zM246.0 267.6h1.2v1.2h-1.2zM251.2 268.7h1.2v1.2h-1.2zM248.8 265.9h1.2v1.2h-1.2zM255.5 216.6h1.2v1.2h-1.2zM249.1 260.0h1.2v1.2h-1.2zM254.3 268.4h1.2v1.2h-1.2zM258.0 226.7h1.2v1.2h-1.2zM250.9 269.8h1.2v1.2h-1.2zM249.8 269.9h1.2v1.2h-1.2zM252.8 270.7h1.2v1.2h-1.2zM252.1 276.4h1.2v1.2h-1.2zM248.3 271.0h1.2v1.2h-1.2zM253.9 251.0h1.2v1.2h-1.2zM259.8 249.7h1.2v1.2h-1.2zM251.1 272.8h1.2v1.2h-1.2zM251.3 272.6h1.2v1.2h-1.2zM248.1 269.5h1.2v1.2h-1.2zM253.3 274.2h1.2v1.2h-1.2zM247.3 261.4h1.2v1.2h-1.2zM247.8 260.3h1.2v1.2h-1.2zM257.0 254.6h1.2v1.2h-1.2zM248.6 247.1h1.2v1.2h-1.2zM256.3 262.8h1.2v1.2h-1.2zM258.0 242.3h1.2v1.2h-1.2zM253.1 270.4h1.2v1.2h-1.2zM254.2 272.1h1.2v1.2h-1.2zM259.6 239.4h1.2v1.2h-1.2zM251.3 274.1h1.2v1.2h-1.2zM249.8 258.3h1.2v1.2h-1.2zM246.9 246.8h1.2v1.2h-1.2zM252.3 275.5h1.2v1.2h-1.2zM257.8 265.0h1.2v1.2h-1.2zM255.8 259.8h1.2v1.2h-1.2zM248.5 267.0h1.2v1.2h-1.2zM248.8 254.2h1.2v1.2h-1.2zM250.2 268.2h1.2v1.2h-1.2zM253.2 271.7h1.2v1.2h-1.2zM251.3 270.6h1.2v1.2h-1.2zM252.9 271.4h1.2v1.2h-1.2zM253.2 273.3h1.2v1.2h-1.2zM251.0 266.5h1.2v1.2h-1.2zM251.9 276.3h1.2v1.2h-1.2zM252.9 272.4h1.2v1.2h-1.2zM251.8 274.6h1.2v1.2h-1.2zM254.0 271.6h1.2v1.2h-1.2zM259.3 252.8h1.2v1.2h-1.2zM254.4 267.9h1.2v1.2h-1.2zM252.3 274.2h1.2v1.2h-1.2zM245.6 208.1h1.2v1.2h-1.2zM253.6 271.2h1.2v1.2h-1.2zM244.6 191.5h1.2v1.2h-1.2zM246.7 254.0h1.2v1.2h-1.2zM255.4 257.5h1.2v1.2h-1.2zM254.8 256.0h1.2v1.2h-1.2zM251.5 273.1h1.2v1.2h-1.2zM250.7 269.6h1.2v1.2h-1.2zM249.5 269.7h1.2v1.2h-1.2zM254.5 253.8h1.2v1.2h-1.2zM260.8 247.6h1.2v1.2h-1.2zM252.9 273.5h1.2v1.2h-1.2zM249.1 274.3h1.2v1.2h-1.2zM247.6 239.6h1.2v1.2h-1.2zM251.9 274.4h1.2v1.2h-1.2zM251.4 268.7h1.2v1.2h-1.2zM247.7 241.2h1.2v1.2h-1.2zM252.5 269.0h1.2v1.2h-1.2zM247.7 257.0h1.2v1.2h-1.2zM256.4 243.9h1.2v1.2h-1.2zM256.2 265.2h1.2v1.2h-1.2zM256.3 261.9h1.2v1.2h-1.2zM250.3 262.0h1.2v1.2h-1.2zM254.1 266.2h1.2v1.2h-1.2zM251.6 275.9h1.2v1.2h-1.2zM250.6 268.8h1.2v1.2h-1.2zM250.8 270.4h1.2v1.2h-1.2zM247.1 263.3h1.2v1.2h-1.2zM246.5 245.6h1.2v1.2h-1.2zM255.2 266.5h1.2v1.2h-1.2zM251.4 275.6h1.2v1.2h-1.2zM252.9 273.6h1.2v1.2h-1.2zM256.0 228.8h1.2v1.2h-1.2zM245.4 265.2h1.2v1.2h-1.2zM249.1 261.9h1.2v1.2h-1.2zM252.8 272.1h1.2v1.2h-1.2zM253.6 266.5h1.2v1.2h-1.2zM250.7 272.5h1.2v1.2h-1.2zM256.1 262.3h1.2v1.2h-1.2zM252.9 273.0h1.2v1.2h-1.2zM247.4 244.2h1.2v1.2h-1.2zM248.5 266.5h1.2v1.2h-1.2zM255.2 269.0h1.2v1.2h-1.2zM253.9 262.1h1.2v1.2h-1.2zM244.8 215.5h1.2v1.2h-1.2zM257.3 247.7h1.2v1.2h-1.2zM254.4 269.0h1.2v1.2h-1.2zM257.3 248.4h1.2v1.2h-1.2zM250.6 269.7h1.2v1.2h-1.2zM251.0 267.7h1.2v1.2h-1.2zM247.8 267.4h1.2v1.2h-1.2zM251.4 274.2h1.2v1.2h-1.2zM258.2 263.0h1.2v1.2h-1.2zM249.6 263.0h1.2v1.2h-1.2zM252.7 274.2h1.2v1.2h-1.2zM245.7 254.9h1.2v1.2h-1.2zM250.6 268.0h1.2v1.2h-1.2zM255.9 268.8h1.2v1.2h-1.2zM247.3 256.8h1.2v1.2h-1.2zM256.2 253.9h1.2v1.2h-1.2zM253.4 269.6h1.2v1.2h-1.2zM248.1 243.7h1.2v1.2h-1.2zM250.2 272.5h1.2v1.2h-1.2zM250.3 273.5h1.2v1.2h-1.2zM251.9 276.0h1.2v1.2h-1.2zM250.0 264.4h1.2v1.2h-1.2zM248.9 227.9h1.2v1.2h-1.2zM250.9 269.5h1.2v1.2h-1.2zM248.2 266.6h1.2v1.2h-1.2zM247.1 242.0h1.2v1.2h-1.2zM251.9 274.5h1.2v1.2h-1.2zM255.5 267.6h1.2v1.2h-1.2zM252.1 276.2h1.2v1.2h-1.2zM249.6 260.4h1.2v1.2h-1.2zM248.3 253.7h1.2v1.2h-1.2zM255.4 234.6h1.2v1.2h-1.2zM250.1 266.7h1.2v1.2h-1.2zM257.9 220.5h1.2v1.2h-1.2zM249.1 270.0h1.2v1.2h-1.2zM253.6 273.5h1.2v1.2h-1.2zM251.2 268.0h1.2v1.2h-1.2zM249.2 243.5h1.2v1.2h-1.2zM254.4 262.8h1.2v1.2h-1.2zM251.5 274.0h1.2v1.2h-1.2zM254.4 265.3h1.2v1.2h-1.2zM251.9 276.1h1.2v1.2h-1.2zM247.9 230.8h1.2v1.2h-1.2zM251.7 274.5h1.2v1.2h-1.2zM252.3 275.3h1.2v1.2h-1.2zM255.8 255.7h1.2v1.2h-1.2zM248.6 248.7h1.2v1.2h-1.2zM251.9 275.8h1.2v1.2h-1.2zM245.5 231.4h1.2v1.2h-1.2zM254.6 271.6h1.2v1.2h-1.2zM247.9 249.8h1.2v1.2h-1.2zM251.9 275.1h1.2v1.2h-1.2zM256.4 258.8h1.2v1.2h-1.2zM246.2 232.0h1.2v1.2h-1.2zM247.9 243.6h1.2v1.2h-1.2zM249.2 258.7h1.2v1.2h-1.2zM247.8 269.4h1.2v1.2h-1.2zM253.6 268.0h1.2v1.2h-1.2zM249.0 270.1h1.2v1.2h-1.2zM249.3 269.4h1.2v1.2h-1.2zM254.3 263.2h1.2v1.2h-1.2zM249.2 266.0h1.2v1.2h-1.2zM253.8 264.0h1.2v1.2h-1.2zM247.4 241.2h1.2v1.2h-1.2zM245.0 228.8h1.2v1.2h-1.2zM259.3 258.7h1.2v1.2h-1.2zM250.9 272.3h1.2v1.2h-1.2zM253.0 274.8h1.2v1.2h-1.2zM252.0 276.2h1.2v1.2h-1.2zM252.7 275.4h1.2v1.2h-1.2zM252.3 275.8h1.2v1.2h-1.2zM259.4 247.5h1.2v1.2h-1.2zM248.1 267.2h1.2v1.2h-1.2zM246.1 263.8h1.2v1.2h-1.2zM248.2 269.2h1.2v1.2h-1.2zM247.0 247.8h1.2v1.2h-1.2zM255.0 264.0h1.2v1.2h-1.2zM255.3 251.4h1.2v1.2h-1.2zM248.4 246.5h1.2v1.2h-1.2zM246.8 257.9h1.2v1.2h-1.2zM250.7 267.9h1.2v1.2h-1.2zM257.4 263.8h1.2v1.2h-1.2zM254.1 258.6h1.2v1.2h-1.2zM248.0 261.0h1.2v1.2h-1.2zM256.1 267.7h1.2v1.2h-1.2zM248.0 254.2h1.2v1.2h-1.2zM251.0 275.0h1.2v1.2h-1.2zM246.3 261.3h1.2v1.2h-1.2zM248.3 250.1h1.2v1.2h-1.2zM257.4 252.7h1.2v1.2h-1.2zM255.3 266.4h1.2v1.2h-1.2zM250.6 263.7h1.2v1.2h-1.2zM248.8 268.3h1.2v1.2h-1.2zM244.8 239.0h1.2v1.2h-1.2zM250.6 270.2h1.2v1.2h-1.2zM252.0 276.6h1.2v1.2h-1.2zM251.8 274.8h1.2v1.2h-1.2zM251.7 275.7h1.2v1.2h-1.2zM247.8 218.4h1.2v1.2h-1.2zM251.8 274.5h1.2v1.2h-1.2zM252.0 273.8h1.2v1.2h-1.2zM257.1 265.4h1.2v1.2h-1.2zM259.3 231.7h1.2v1.2h-1.2zM251.6 275.4h1.2v1.2h-1.2zM249.2 269.7h1.2v1.2h-1.2zM251.9 273.6h1.2v1.2h-1.2zM249.8 258.9h1.2v1.2h-1.2zM249.2 270.6h1.2v1.2h-1.2zM251.9 273.5h1.2v1.2h-1.2zM248.1 265.3h1.2v1.2h-1.2zM254.4 266.0h1.2v1.2h-1.2zM251.7 273.0h1.2v1.2h-1.2zM253.1 270.9h1.2v1.2h-1.2zM251.4 275.4h1.2v1.2h-1.2zM249.3 244.8h1.2v1.2h-1.2zM248.5 254.7h1.2v1.2h-1.2zM251.2 273.5h1.2v1.2h-1.2zM250.0 271.7h1.2v1.2h-1.2zM253.0 275.5h1.2v1.2h-1.2zM252.1 276.4h1.2v1.2h-1.2zM246.9 244.1h1.2v1.2h-1.2zM252.4 274.4h1.2v1.2h-1.2zM246.9 264.5h1.2v1.2h-1.2zM249.7 268.8h1.2v1.2h-1.2zM251.0 264.0h1.2v1.2h-1.2zM244.1 248.6h1.2v1.2h-1.2zM252.5 275.7h1.2v1.2h-1.2zM252.7 270.9h1.2v1.2h-1.2zM251.5 273.1h1.2v1.2h-1.2zM250.5 268.7h1.2v1.2h-1.2zM250.7 272.4h1.2v1.2h-1.2zM248.3 270.3h1.2v1.2h-1.2zM251.1 273.8h1.2v1.2h-1.2zM250.0 268.8h1.2v1.2h-1.2zM252.5 275.2h1.2v1.2h-1.2zM247.5 251.2h1.2v1.2h-1.2zM253.0 268.7h1.2v1.2h-1.2zM252.7 273.3h1.2v1.2h-1.2zM251.6 273.9h1.2v1.2h-1.2zM250.4 272.5h1.2v1.2h-1.2zM254.2 274.4h1.2v1.2h-1.2zM245.7 256.5h1.2v1.2h-1.2zM253.9 270.7h1.2v1.2h-1.2zM253.0 274.2h1.2v1.2h-1.2zM253.2 272.8h1.2v1.2h-1.2zM253.6 273.5h1.2v1.2h-1.2zM249.6 271.3h1.2v1.2h-1.2zM251.1 272.8h1.2v1.2h-1.2zM254.5 262.5h1.2v1.2h-1.2zM253.8 272.2h1.2v1.2h-1.2zM252.9 271.3h1.2v1.2h-1.2zM246.3 252.8h1.2v1.2h-1.2zM254.2 272.1h1.2v1.2h-1.2zM256.6 256.9h1.2v1.2h-1.2zM256.0 224.7h1.2v1.2h-1.2zM253.0 273.7h1.2v1.2h-1.2zM246.1 224.8h1.2v1.2h-1.2zM255.7 240.5h1.2v1.2h-1.2zM251.5 268.8h1.2v1.2h-1.2zM242.4 250.9h1.2v1.2h-1.2zM253.5 255.8h1.2v1.2h-1.2zM246.4 249.2h1.2v1.2h-1.2zM247.1 256.6h1.2v1.2h-1.2zM249.7 267.4h1.2v1.2h-1.2zM257.0 246.2h1.2v1.2h-1.2zM250.7 270.5h1.2v1.2h-1.2zM253.1 272.8h1.2v1.2h-1.2zM258.8 211.9h1.2v1.2h-1.2zM258.2 259.7h1.2v1.2h-1.2zM251.7 275.9h1.2v1.2h-1.2zM251.2 269.9h1.2v1.2h-1.2zM247.3 242.6h1.2v1.2h-1.2zM249.4 254.6h1.2v1.2h-1.2zM253.7 272.3h1.2v1.2h-1.2zM253.6 263.8h1.2v1.2h-1.2zM252.5 271.2h1.2v1.2h-1.2zM255.9 226.4h1.2v1.2h-1.2zM249.1 270.0h1.2v1.2h-1.2zM251.9 274.2h1.2v1.2h-1.2zM254.9 266.5h1.2v1.2h-1.2zM254.3 273.0h1.2v1.2h-1.2zM256.2 265.3h1.2v1.2h-1.2zM253.6 263.7h1.2v1.2h-1.2zM250.9 273.0h1.2v1.2h-1.2zM253.5 271.6h1.2v1.2h-1.2zM248.2 248.9h1.2v1.2h-1.2zM245.8 227.6h1.2v1.2h-1.2zM254.3 259.0h1.2v1.2h-1.2zM251.9 275.1h1.2v1.2h-1.2zM253.3 272.0h1.2v1.2h-1.2zM245.6 223.9h1.2v1.2h-1.2zM250.7 272.6h1.2v1.2h-1.2zM249.8 269.7h1.2v1.2h-1.2zM248.8 253.3h1.2v1.2h-1.2zM250.8 270.3h1.2v1.2h-1.2zM255.5 272.1h1.2v1.2h-1.2zM253.6 273.0h1.2v1.2h-1.2zM249.8 271.0h1.2v1.2h-1.2zM252.0 274.6h1.2v1.2h-1.2zM255.0 258.7h1.2v1.2h-1.2zM251.6 275.1h1.2v1.2h-1.2zM254.2 266.8h1.2v1.2h-1.2zM254.7 270.3h1.2v1.2h-1.2zM258.6 248.8h1.2v1.2h-1.2zM256.5 263.5h1.2v1.2h-1.2zM253.3 250.6h1.2v1.2h-1.2zM253.3 268.6h1.2v1.2h-1.2zM255.1 268.3h1.2v1.2h-1.2zM250.0 271.6h1.2v1.2h-1.2zM251.9 276.4h1.2v1.2h-1.2zM255.6 270.9h1.2v1.2h-1.2zM259.6 255.7h1.2v1.2h-1.2zM251.5 275.0h1.2v1.2h-1.2zM251.9 275.6h1.2v1.2h-1.2zM252.9 274.4h1.2v1.2h-1.2zM257.3 263.1h1.2v1.2h-1.2zM252.0 276.7h1.2v1.2h-1.2zM257.7 264.5h1.2v1.2h-1.2zM248.4 261.5h1.2v1.2h-1.2zM251.4 272.8h1.2v1.2h-1.2zM251.3 269.7h1.2v1.2h-1.2zM255.1 267.4h1.2v1.2h-1.2zM256.1 242.4h1.2v1.2h-1.2zM246.3 247.3h1.2v1.2h-1.2zM248.6 259.8h1.2v1.2h-1.2zM253.4 275.1h1.2v1.2h-1.2zM249.6 271.9h1.2v1.2h-1.2zM246.2 237.5h1.2v1.2h-1.2zM256.1 236.7h1.2v1.2h-1.2zM254.0 266.9h1.2v1.2h-1.2zM254.0 262.9h1.2v1.2h-1.2zM250.3 269.5h1.2v1.2h-1.2zM256.1 262.7h1.2v1.2h-1.2zM251.2 273.9h1.2v1.2h-1.2zM256.3 241.9h1.2v1.2h-1.2zM248.6 258.2h1.2v1.2h-1.2zM248.8 264.5h1.2v1.2h-1.2zM252.9 273.0h1.2v1.2h-1.2zM249.4 259.9h1.2v1.2h-1.2zM254.7 262.3h1.2v1.2h-1.2zM253.1 274.0h1.2v1.2h-1.2zM248.6 234.0h1.2v1.2h-1.2zM252.4 275.0h1.2v1.2h-1.2zM250.7 270.5h1.2v1.2h-1.2zM255.6 239.2h1.2v1.2h-1.2zM249.7 257.2h1.2v1.2h-1.2zM250.4 269.9h1.2v1.2h-1.2zM256.8 249.1h1.2v1.2h-1.2zM260.7 257.0h1.2v1.2h-1.2zM259.8 254.0h1.2v1.2h-1.2zM252.3 276.5h1.2v1.2h-1.2zM252.9 268.8h1.2v1.2h-1.2zM258.0 267.4h1.2v1.2h-1.2zM251.6 271.6h1.2v1.2h-1.2zM248.3 266.6h1.2v1.2h-1.2zM252.5 275.0h1.2v1.2h-1.2zM253.8 270.3h1.2v1.2h-1.2zM248.9 260.6h1.2v1.2h-1.2zM245.8 236.9h1.2v1.2h-1.2zM246.6 207.8h1.2v1.2h-1.2zM254.7 263.2h1.2v1.2h-1.2zM249.2 255.0h1.2v1.2h-1.2zM251.6 275.0h1.2v1.2h-1.2zM252.9 271.3h1.2v1.2h-1.2zM254.5 264.4h1.2v1.2h-1.2zM250.8 272.3h1.2v1.2h-1.2zM254.0 268.9h1.2v1.2h-1.2zM248.7 262.4h1.2v1.2h-1.2zM250.7 269.2h1.2v1.2h-1.2zM248.2 254.5h1.2v1.2h-1.2zM256.5 262.9h1.2v1.2h-1.2zM252.0 276.2h1.2v1.2h-1.2zM249.3 256.5h1.2v1.2h-1.2zM250.7 274.9h1.2v1.2h-1.2zM251.2 274.3h1.2v1.2h-1.2zM254.8 247.1h1.2v1.2h-1.2zM246.0 270.1h1.2v1.2h-1.2zM248.1 264.9h1.2v1.2h-1.2zM250.6 267.4h1.2v1.2h-1.2zM261.8 261.3h1.2v1.2h-1.2zM255.8 201.4h1.2v1.2h-1.2zM251.7 276.4h1.2v1.2h-1.2zM254.8 248.9h1.2v1.2h-1.2zM251.2 269.1h1.2v1.2h-1.2zM250.7 270.6h1.2v1.2h-1.2zM256.8 249.9h1.2v1.2h-1.2zM254.0 271.9h1.2v1.2h-1.2zM254.7 256.5h1.2v1.2h-1.2zM250.1 272.2h1.2v1.2h-1.2zM259.5 249.4h1.2v1.2h-1.2zM258.7 224.9h1.2v1.2h-1.2zM254.3 272.1h1.2v1.2h-1.2zM254.7 267.6h1.2v1.2h-1.2zM244.3 239.6h1.2v1.2h-1.2zM254.6 272.2h1.2v1.2h-1.2zM251.4 268.8h1.2v1.2h-1.2zM253.8 267.8h1.2v1.2h-1.2zM254.7 271.3h1.2v1.2h-1.2zM250.8 271.4h1.2v1.2h-1.2zM245.6 257.5h1.2v1.2h-1.2zM253.5 272.0h1.2v1.2h-1.2zM249.3 263.9h1.2v1.2h-1.2zM250.8 272.3h1.2v1.2h-1.2zM249.8 258.9h1.2v1.2h-1.2zM250.8 273.1h1.2v1.2h-1.2zM243.2 206.9h1.2v1.2h-1.2zM256.8 256.7h1.2v1.2h-1.2zM253.1 269.3h1.2v1.2h-1.2zM256.4 263.3h1.2v1.2h-1.2zM259.7 252.2h1.2v1.2h-1.2zM252.2 276.6h1.2v1.2h-1.2zM245.2 231.1h1.2v1.2h-1.2zM248.7 249.8h1.2v1.2h-1.2zM247.5 204.8h1.2v1.2h-1.2zM250.2 258.2h1.2v1.2h-1.2zM252.4 275.1h1.2v1.2h-1.2zM244.4 247.0h1.2v1.2h-1.2zM253.4 269.2h1.2v1.2h-1.2zM246.3 252.0h1.2v1.2h-1.2zM253.2 264.8h1.2v1.2h-1.2zM251.7 273.7h1.2v1.2h-1.2zM250.9 273.6h1.2v1.2h-1.2zM251.8 275.9h1.2v1.2h-1.2zM250.0 253.6h1.2v1.2h-1.2zM249.7 264.3h1.2v1.2h-1.2zM245.6 252.1h1.2v1.2h-1.2zM252.0 272.0h1.2v1.2h-1.2zM259.2 252.1h1.2v1.2h-1.2zM259.7 248.7h1.2v1.2h-1.2zM257.2 260.3h1.2v1.2h-1.2zM254.8 273.4h1.2v1.2h-1.2zM249.5 258.0h1.2v1.2h-1.2zM257.6 264.5h1.2v1.2h-1.2zM251.9 275.1h1.2v1.2h-1.2zM251.8 274.3h1.2v1.2h-1.2zM251.0 269.2h1.2v1.2h-1.2zM252.5 273.6h1.2v1.2h-1.2zM250.4 269.4h1.2v1.2h-1.2zM251.8 274.7h1.2v1.2h-1.2zM247.9 259.5h1.2v1.2h-1.2zM250.7 274.0h1.2v1.2h-1.2zM260.9 231.1h1.2v1.2h-1.2zM251.8 271.1h1.2v1.2h-1.2zM251.2 270.7h1.2v1.2h-1.2zM254.1 246.2h1.2v1.2h-1.2zM254.8 260.8h1.2v1.2h-1.2zM247.8 248.2h1.2v1.2h-1.2zM251.3 272.4h1.2v1.2h-1.2zM255.6 261.7h1.2v1.2h-1.2zM253.1 268.9h1.2v1.2h-1.2zM252.6 272.5h1.2v1.2h-1.2zM258.1 263.4h1.2v1.2h-1.2zM249.5 255.3h1.2v1.2h-1.2zM252.4 273.7h1.2v1.2h-1.2zM250.1 261.2h1.2v1.2h-1.2zM257.8 243.5h1.2v1.2h-1.2zM244.6 260.3h1.2v1.2h-1.2zM249.5 270.1h1.2v1.2h-1.2zM250.1 250.3h1.2v1.2h-1.2zM254.7 263.8h1.2v1.2h-1.2zM254.4 272.2h1.2v1.2h-1.2zM257.5 247.5h1.2v1.2h-1.2zM246.0 255.7h1.2v1.2h-1.2zM255.0 270.4h1.2v1.2h-1.2zM251.0 275.2h1.2v1.2h-1.2zM249.5 271.8h1.2v1.2h-1.2zM254.2 265.3h1.2v1.2h-1.2zM248.6 260.5h1.2v1.2h-1.2zM244.1 246.1h1.2v1.2h-1.2zM250.7 269.7h1.2v1.2h-1.2zM246.3 241.3h1.2v1.2h-1.2zM249.6 273.3h1.2v1.2h-1.2zM253.5 271.4h1.2v1.2h-1.2zM253.3 272.2h1.2v1.2h-1.2zM258.2 264.3h1.2v1.2h-1.2zM251.3 274.2h1.2v1.2h-1.2zM246.2 252.5h1.2v1.2h-1.2zM249.2 264.2h1.2v1.2h-1.2zM248.6 270.0h1.2v1.2h-1.2zM247.4 260.1h1.2v1.2h-1.2zM253.8 252.7h1.2v1.2h-1.2zM249.6 270.3h1.2v1.2h-1.2zM244.5 264.5h1.2v1.2h-1.2zM254.8 263.0h1.2v1.2h-1.2zM251.7 273.7h1.2v1.2h-1.2zM253.5 268.3h1.2v1.2h-1.2zM252.5 275.9h1.2v1.2h-1.2zM254.5 257.5h1.2v1.2h-1.2zM252.2 273.4h1.2v1.2h-1.2zM256.9 265.9h1.2v1.2h-1.2zM253.7 272.0h1.2v1.2h-1.2zM253.6 270.5h1.2v1.2h-1.2zM253.7 264.3h1.2v1.2h-1.2zM246.5 240.4h1.2v1.2h-1.2zM251.5 274.2h1.2v1.2h-1.2zM251.1 267.9h1.2v1.2h-1.2zM252.9 273.0h1.2v1.2h-1.2zM246.9 237.5h1.2v1.2h-1.2zM258.4 265.1h1.2v1.2h-1.2zM252.5 276.0h1.2v1.2h-1.2zM247.4 242.7h1.2v1.2h-1.2zM245.5 263.2h1.2v1.2h-1.2zM251.0 271.3h1.2v1.2h-1.2zM251.8 275.1h1.2v1.2h-1.2zM249.3 268.0h1.2v1.2h-1.2zM252.5 275.8h1.2v1.2h-1.2zM249.6 252.1h1.2v1.2h-1.2zM254.2 274.7h1.2v1.2h-1.2zM249.3 256.0h1.2v1.2h-1.2zM252.0 274.0h1.2v1.2h-1.2zM255.9 259.4h1.2v1.2h-1.2zM248.2 250.9h1.2v1.2h-1.2zM250.3 253.3h1.2v1.2h-1.2zM248.9 270.0h1.2v1.2h-1.2zM255.1 263.0h1.2v1.2h-1.2zM247.7 259.7h1.2v1.2h-1.2zM250.2 265.2h1.2v1.2h-1.2zM252.0 275.1h1.2v1.2h-1.2zM248.3 251.9h1.2v1.2h-1.2zM248.4 264.5h1.2v1.2h-1.2zM250.3 268.7h1.2v1.2h-1.2zM244.0 252.9h1.2v1.2h-1.2zM246.5 259.8h1.2v1.2h-1.2zM250.5 270.5h1.2v1.2h-1.2zM252.7 274.7h1.2v1.2h-1.2zM251.4 275.4h1.2v1.2h-1.2zM245.3 200.9h1.2v1.2h-1.2zM250.3 269.7h1.2v1.2h-1.2zM255.2 270.8h1.2v1.2h-1.2zM254.2 259.0h1.2v1.2h-1.2zM251.8 275.4h1.2v1.2h-1.2zM248.7 256.5h1.2v1.2h-1.2zM254.5 266.5h1.2v1.2h-1.2zM249.9 265.5h1.2v1.2h-1.2zM247.6 255.1h1.2v1.2h-1.2zM249.0 266.5h1.2v1.2h-1.2zM257.7 251.7h1.2v1.2h-1.2zM252.9 264.2h1.2v1.2h-1.2zM256.6 271.6h1.2v1.2h-1.2zM250.3 268.7h1.2v1.2h-1.2zM255.7 256.0h1.2v1.2h-1.2zM249.8 271.2h1.2v1.2h-1.2zM251.5 275.4h1.2v1.2h-1.2zM255.0 266.1h1.2v1.2h-1.2zM250.2 244.7h1.2v1.2h-1.2zM251.8 275.0h1.2v1.2h-1.2zM253.4 270.9h1.2v1.2h-1.2zM256.8 250.1h1.2v1.2h-1.2zM250.2 264.7h1.2v1.2h-1.2zM245.4 216.6h1.2v1.2h-1.2zM251.0 270.4h1.2v1.2h-1.2zM252.2 276.7h1.2v1.2h-1.2zM252.5 274.1h1.2v1.2h-1.2zM257.2 227.6h1.2v1.2h-1.2zM253.3 267.8h1.2v1.2h-1.2zM255.2 268.3h1.2v1.2h-1.2zM247.9 263.8h1.2v1.2h-1.2zM255.4 258.8h1.2v1.2h-1.2zM260.2 251.9h1.2v1.2h-1.2zM255.1 266.1h1.2v1.2h-1.2zM253.1 274.4h1.2v1.2h-1.2zM252.7 274.6h1.2v1.2h-1.2zM259.0 238.5h1.2v1.2h-1.2zM248.5 246.9h1.2v1.2h-1.2zM251.7 274.5h1.2v1.2h-1.2zM253.9 250.3h1.2v1.2h-1.2zM255.0 264.3h1.2v1.2h-1.2zM250.4 225.7h1.2v1.2h-1.2zM253.3 267.0h1.2v1.2h-1.2zM251.0 269.9h1.2v1.2h-1.2zM252.6 275.1h1.2v1.2h-1.2zM251.6 275.9h1.2v1.2h-1.2zM247.7 259.3h1.2v1.2h-1.2zM252.0 276.3h1.2v1.2h-1.2zM255.5 230.5h1.2v1.2h-1.2zM248.4 269.4h1.2v1.2h-1.2zM251.2 263.4h1.2v1.2h-1.2zM254.7 267.2h1.2v1.2h-1.2zM248.0 249.0h1.2v1.2h-1.2zM252.8 276.3h1.2v1.2h-1.2zM248.0 254.4h1.2v1.2h-1.2zM256.5 261.1h1.2v1.2h-1.2zM261.0 219.0h1.2v1.2h-1.2zM259.9 239.4h1.2v1.2h-1.2zM251.3 274.3h1.2v1.2h-1.2zM254.9 254.9h1.2v1.2h-1.2zM252.6 273.7h1.2v1.2h-1.2zM252.5 272.6h1.2v1.2h-1.2zM258.0 229.6h1.2v1.2h-1.2zM247.0 233.8h1.2v1.2h-1.2zM256.2 259.2h1.2v1.2h-1.2zM251.9 275.5h1.2v1.2h-1.2zM257.5 266.2h1.2v1.2h-1.2zM252.8 269.8h1.2v1.2h-1.2zM249.5 259.3h1.2v1.2h-1.2zM253.2 271.1h1.2v1.2h-1.2zM254.9 267.4h1.2v1.2h-1.2zM252.2 276.3h1.2v1.2h-1.2zM254.0 266.6h1.2v1.2h-1.2zM250.1 269.4h1.2v1.2h-1.2zM243.9 252.8h1.2v1.2h-1.2zM255.6 221.3h1.2v1.2h-1.2zM254.8 262.5h1.2v1.2h-1.2zM252.7 273.8h1.2v1.2h-1.2zM252.4 276.0h1.2v1.2h-1.2zM256.1 265.2h1.2v1.2h-1.2zM250.3 265.2h1.2v1.2h-1.2zM249.4 258.5h1.2v1.2h-1.2zM251.4 274.1h1.2v1.2h-1.2zM256.7 256.6h1.2v1.2h-1.2zM246.8 257.6h1.2v1.2h-1.2zM256.7 266.2h1.2v1.2h-1.2zM249.6 253.7h1.2v1.2h-1.2zM247.9 253.5h1.2v1.2h-1.2zM251.7 276.0h1.2v1.2h-1.2zM247.1 255.6h1.2v1.2h-1.2zM250.7 266.7h1.2v1.2h-1.2zM255.7 263.4h1.2v1.2h-1.2zM256.7 266.6h1.2v1.2h-1.2zM250.5 272.7h1.2v1.2h-1.2zM253.7 268.9h1.2v1.2h-1.2zM254.8 261.8h1.2v1.2h-1.2zM249.6 266.3h1.2v1.2h-1.2zM253.5 265.9h1.2v1.2h-1.2zM252.0 275.3h1.2v1.2h-1.2zM250.0 265.9h1.2v1.2h-1.2zM250.2 268.6h1.2v1.2h-1.2zM252.4 275.7h1.2v1.2h-1.2zM252.2 273.9h1.2v1.2h-1.2zM249.9 259.6h1.2v1.2h-1.2zM250.5 269.4h1.2v1.2h-1.2zM256.4 252.2h1.2v1.2h-1.2zM252.9 273.3h1.2v1.2h-1.2zM255.5 270.5h1.2v1.2h-1.2zM256.7 266.0h1.2v1.2h-1.2zM254.4 259.7h1.2v1.2h-1.2zM260.8 227.0h1.2v1.2h-1.2zM248.9 241.0h1.2v1.2h-1.2zM255.2 262.3h1.2v1.2h-1.2zM250.9 267.6h1.2v1.2h-1.2zM259.2 208.6h1.2v1.2h-1.2zM258.6 225.6h1.2v1.2h-1.2zM244.6 253.9h1.2v1.2h-1.2zM248.4 261.7h1.2v1.2h-1.2zM254.7 264.2h1.2v1.2h-1.2zM255.1 269.4h1.2v1.2h-1.2zM254.9 258.8h1.2v1.2h-1.2zM251.8 272.0h1.2v1.2h-1.2zM253.8 269.6h1.2v1.2h-1.2zM254.6 241.4h1.2v1.2h-1.2zM251.8 275.4h1.2v1.2h-1.2zM256.0 261.7h1.2v1.2h-1.2zM243.4 244.2h1.2v1.2h-1.2zM254.5 269.4h1.2v1.2h-1.2zM248.1 254.7h1.2v1.2h-1.2zM255.8 259.0h1.2v1.2h-1.2zM251.2 266.3h1.2v1.2h-1.2zM248.7 254.6h1.2v1.2h-1.2zM253.5 268.0h1.2v1.2h-1.2zM248.6 263.4h1.2v1.2h-1.2zM248.6 269.1h1.2v1.2h-1.2zM246.1 252.1h1.2v1.2h-1.2zM252.0 276.0h1.2v1.2h-1.2zM254.0 262.1h1.2v1.2h-1.2zM256.0 259.8h1.2v1.2h-1.2zM251.6 270.1h1.2v1.2h-1.2zM256.1 249.2h1.2v1.2h-1.2zM252.2 275.7h1.2v1.2h-1.2zM251.7 275.0h1.2v1.2h-1.2zM254.3 265.5h1.2v1.2h-1.2zM256.2 249.6h1.2v1.2h-1.2zM250.8 266.2h1.2v1.2h-1.2zM251.2 273.7h1.2v1.2h-1.2zM251.5 272.6h1.2v1.2h-1.2zM252.4 270.3h1.2v1.2h-1.2zM248.6 262.2h1.2v1.2h-1.2zM256.1 261.8h1.2v1.2h-1.2zM250.6 271.1h1.2v1.2h-1.2zM253.9 273.8h1.2v1.2h-1.2zM248.9 248.0h1.2v1.2h-1.2zM253.5 270.3h1.2v1.2h-1.2zM253.6 269.1h1.2v1.2h-1.2zM250.5 254.3h1.2v1.2h-1.2zM253.5 271.8h1.2v1.2h-1.2zM258.9 220.5h1.2v1.2h-1.2zM255.8 252.0h1.2v1.2h-1.2zM249.6 262.5h1.2v1.2h-1.2zM250.6 268.0h1.2v1.2h-1.2zM253.8 268.9h1.2v1.2h-1.2zM252.3 273.3h1.2v1.2h-1.2zM252.3 274.6h1.2v1.2h-1.2zM251.0 270.7h1.2v1.2h-1.2zM245.1 212.4h1.2v1.2h-1.2zM251.2 267.4h1.2v1.2h-1.2zM243.6 227.7h1.2v1.2h-1.2zM253.5 268.7h1.2v1.2h-1.2zM249.3 241.6h1.2v1.2h-1.2zM249.3 260.5h1.2v1.2h-1.2zM251.3 272.9h1.2v1.2h-1.2zM253.1 274.0h1.2v1.2h-1.2zM246.6 257.2h1.2v1.2h-1.2zM245.4 260.0h1.2v1.2h-1.2zM248.0 257.6h1.2v1.2h-1.2zM244.3 235.6h1.2v1.2h-1.2zM248.4 272.2h1.2v1.2h-1.2zM258.2 250.2h1.2v1.2h-1.2zM248.0 251.0h1.2v1.2h-1.2zM254.6 264.6h1.2v1.2h-1.2zM246.8 263.8h1.2v1.2h-1.2zM253.2 265.6h1.2v1.2h-1.2zM250.9 273.4h1.2v1.2h-1.2zM251.9 275.5h1.2v1.2h-1.2zM254.3 269.7h1.2v1.2h-1.2zM258.9 247.7h1.2v1.2h-1.2zM252.8 270.4h1.2v1.2h-1.2zM252.6 272.0h1.2v1.2h-1.2zM248.4 258.3h1.2v1.2h-1.2zM254.3 270.5h1.2v1.2h-1.2zM251.2 274.0h1.2v1.2h-1.2zM255.3 268.8h1.2v1.2h-1.2zM251.9 275.8h1.2v1.2h-1.2zM258.8 265.9h1.2v1.2h-1.2zM244.5 241.6h1.2v1.2h-1.2zM251.0 269.3h1.2v1.2h-1.2zM255.5 262.6h1.2v1.2h-1.2zM250.8 269.3h1.2v1.2h-1.2zM249.1 268.5h1.2v1.2h-1.2zM251.1 274.6h1.2v1.2h-1.2zM246.8 260.7h1.2v1.2h-1.2zM252.6 270.9h1.2v1.2h-1.2zM256.5 262.5h1.2v1.2h-1.2zM247.8 237.7h1.2v1.2h-1.2zM248.7 264.0h1.2v1.2h-1.2zM250.5 260.1h1.2v1.2h-1.2zM256.0 254.4h1.2v1.2h-1.2zM248.9 265.2h1.2v1.2h-1.2zM249.4 258.5h1.2v1.2h-1.2zM255.5 266.9h1.2v1.2h-1.2zM255.4 268.6h1.2v1.2h-1.2zM250.7 273.5h1.2v1.2h-1.2zM247.8 254.4h1.2v1.2h-1.2zM246.1 251.9h1.2v1.2h-1.2zM249.4 265.4h1.2v1.2h-1.2zM243.5 247.5h1.2v1.2h-1.2zM255.0 247.1h1.2v1.2h-1.2zM249.7 268.2h1.2v1.2h-1.2zM254.0 270.5h1.2v1.2h-1.2zM259.3 210.5h1.2v1.2h-1.2zM256.6 229.6h1.2v1.2h-1.2zM247.7 253.5h1.2v1.2h-1.2zM255.4 271.3h1.2v1.2h-1.2zM256.6 263.4h1.2v1.2h-1.2zM249.2 258.8h1.2v1.2h-1.2zM248.4 260.7h1.2v1.2h-1.2zM251.7 272.4h1.2v1.2h-1.2zM245.9 264.9h1.2v1.2h-1.2zM257.8 239.8h1.2v1.2h-1.2zM242.9 248.4h1.2v1.2h-1.2zM247.8 235.8h1.2v1.2h-1.2zM251.1 272.6h1.2v1.2h-1.2zM251.2 269.1h1.2v1.2h-1.2zM252.7 274.3h1.2v1.2h-1.2zM253.1 274.9h1.2v1.2h-1.2zM251.3 274.8h1.2v1.2h-1.2zM256.5 263.1h1.2v1.2h-1.2zM243.9 256.7h1.2v1.2h-1.2zM252.1 276.9h1.2v1.2h-1.2zM249.4 250.4h1.2v1.2h-1.2zM252.6 272.4h1.2v1.2h-1.2zM252.9 274.3h1.2v1.2h-1.2zM248.6 262.3h1.2v1.2h-1.2zM249.6 269.7h1.2v1.2h-1.2zM255.1 245.4h1.2v1.2h-1.2zM253.4 266.6h1.2v1.2h-1.2zM249.5 261.8h1.2v1.2h-1.2zM259.9 249.3h1.2v1.2h-1.2zM261.0 265.1h1.2v1.2h-1.2zM246.5 261.4h1.2v1.2h-1.2zM253.3 274.2h1.2v1.2h-1.2zM255.1 261.9h1.2v1.2h-1.2zM252.9 274.3h1.2v1.2h-1.2zM251.3 273.8h1.2v1.2h-1.2zM250.0 253.7h1.2v1.2h-1.2zM251.3 274.8h1.2v1.2h-1.2zM250.0 270.8h1.2v1.2h-1.2zM255.0 263.9h1.2v1.2h-1.2zM250.6 272.6h1.2v1.2h-1.2zM250.4 270.7h1.2v1.2h-1.2zM247.5 249.4h1.2v1.2h-1.2zM251.9 273.9h1.2v1.2h-1.2zM248.7 271.7h1.2v1.2h-1.2zM251.4 274.0h1.2v1.2h-1.2zM256.1 258.7h1.2v1.2h-1.2zM253.5 271.0h1.2v1.2h-1.2zM254.0 268.2h1.2v1.2h-1.2zM253.5 272.0h1.2v1.2h-1.2zM252.3 273.0h1.2v1.2h-1.2zM251.6 274.3h1.2v1.2h-1.2zM250.9 272.2h1.2v1.2h-1.2zM255.0 264.0h1.2v1.2h-1.2zM247.9 257.2h1.2v1.2h-1.2zM257.3 256.7h1.2v1.2h-1.2zM252.2 275.6h1.2v1.2h-1.2zM249.2 264.0h1.2v1.2h-1.2zM250.2 265.7h1.2v1.2h-1.2zM249.5 265.5h1.2v1.2h-1.2zM252.7 273.6h1.2v1.2h-1.2zM249.3 269.3h1.2v1.2h-1.2zM256.5 266.8h1.2v1.2h-1.2zM249.1 262.0h1.2v1.2h-1.2zM243.4 251.7h1.2v1.2h-1.2zM249.3 266.8h1.2v1.2h-1.2zM244.4 237.7h1.2v1.2h-1.2zM251.9 275.2h1.2v1.2h-1.2zM256.2 270.1h1.2v1.2h-1.2zM254.6 247.1h1.2v1.2h-1.2zM247.0 254.0h1.2v1.2h-1.2zM249.2 264.9h1.2v1.2h-1.2zM258.9 220.2h1.2v1.2h-1.2zM253.3 269.4h1.2v1.2h-1.2zM252.1 276.2h1.2v1.2h-1.2zM256.2 211.2h1.2v1.2h-1.2zM261.5 253.9h1.2v1.2h-1.2zM257.1 255.6h1.2v1.2h-1.2zM252.6 270.2h1.2v1.2h-1.2zM253.5 273.3h1.2v1.2h-1.2zM254.5 266.5h1.2v1.2h-1.2zM249.7 263.9h1.2v1.2h-1.2zM248.0 202.0h1.2v1.2h-1.2zM252.3 276.4h1.2v1.2h-1.2zM248.5 261.5h1.2v1.2h-1.2zM251.9 275.4h1.2v1.2h-1.2zM252.5 275.3h1.2v1.2h-1.2zM261.1 258.0h1.2v1.2h-1.2zM248.8 258.2h1.2v1.2h-1.2zM251.6 274.5h1.2v1.2h-1.2zM251.5 273.0h1.2v1.2h-1.2zM253.8 262.5h1.2v1.2h-1.2zM256.1 244.4h1.2v1.2h-1.2zM250.2 265.4h1.2v1.2h-1.2zM248.9 260.1h1.2v1.2h-1.2zM245.8 262.8h1.2v1.2h-1.2zM248.5 262.0h1.2v1.2h-1.2zM254.2 266.1h1.2v1.2h-1.2zM252.3 276.3h1.2v1.2h-1.2zM248.2 257.7h1.2v1.2h-1.2zM250.7 271.7h1.2v1.2h-1.2zM252.2 275.5h1.2v1.2h-1.2zM254.0 244.3h1.2v1.2h-1.2zM249.8 269.0h1.2v1.2h-1.2zM251.1 271.0h1.2v1.2h-1.2zM245.1 249.9h1.2v1.2h-1.2zM247.7 234.7h1.2v1.2h-1.2zM258.3 242.0h1.2v1.2h-1.2zM243.7 238.5h1.2v1.2h-1.2zM250.8 271.1h1.2v1.2h-1.2zM252.9 272.2h1.2v1.2h-1.2zM250.7 273.1h1.2v1.2h-1.2zM249.0 256.5h1.2v1.2h-1.2zM251.9 276.1h1.2v1.2h-1.2zM252.1 276.8h1.2v1.2h-1.2zM251.8 275.5h1.2v1.2h-1.2zM244.9 215.8h1.2v1.2h-1.2zM251.5 273.9h1.2v1.2h-1.2zM248.8 249.9h1.2v1.2h-1.2zM250.0 270.4h1.2v1.2h-1.2zM253.0 271.4h1.2v1.2h-1.2zM254.6 267.5h1.2v1.2h-1.2zM255.5 259.6h1.2v1.2h-1.2zM250.2 268.0h1.2v1.2h-1.2zM255.7 249.2h1.2v1.2h-1.2zM256.6 271.1h1.2v1.2h-1.2zM256.5 253.8h1.2v1.2h-1.2zM257.4 267.4h1.2v1.2h-1.2zM251.5 271.9h1.2v1.2h-1.2zM251.4 275.3h1.2v1.2h-1.2zM255.3 269.4h1.2v1.2h-1.2zM246.8 268.0h1.2v1.2h-1.2zM252.9 266.3h1.2v1.2h-1.2zM250.1 270.8h1.2v1.2h-1.2zM250.7 270.0h1.2v1.2h-1.2zM245.4 255.2h1.2v1.2h-1.2zM248.7 271.0h1.2v1.2h-1.2zM252.0 276.6h1.2v1.2h-1.2zM255.5 254.8h1.2v1.2h-1.2zM255.9 262.1h1.2v1.2h-1.2zM251.8 272.6h1.2v1.2h-1.2zM251.4 274.1h1.2v1.2h-1.2zM248.9 263.1h1.2v1.2h-1.2zM253.6 271.0h1.2v1.2h-1.2zM251.1 270.3h1.2v1.2h-1.2zM254.4 239.2h1.2v1.2h-1.2zM258.8 237.9h1.2v1.2h-1.2zM252.0 274.5h1.2v1.2h-1.2zM246.3 258.6h1.2v1.2h-1.2zM248.8 266.9h1.2v1.2h-1.2zM246.5 217.9h1.2v1.2h-1.2zM247.5 266.6h1.2v1.2h-1.2zM257.1 264.3h1.2v1.2h-1.2zM253.0 273.4h1.2v1.2h-1.2zM246.3 256.3h1.2v1.2h-1.2zM254.6 239.6h1.2v1.2h-1.2zM256.9 271.7h1.2v1.2h-1.2zM250.7 269.2h1.2v1.2h-1.2zM249.5 258.8h1.2v1.2h-1.2zM250.8 274.1h1.2v1.2h-1.2zM253.2 273.5h1.2v1.2h-1.2zM254.6 262.6h1.2v1.2h-1.2zM256.6 222.7h1.2v1.2h-1.2zM256.8 265.4h1.2v1.2h-1.2zM256.7 269.2h1.2v1.2h-1.2zM257.3 236.3h1.2v1.2h-1.2zM254.6 248.2h1.2v1.2h-1.2zM246.2 255.2h1.2v1.2h-1.2zM251.6 275.0h1.2v1.2h-1.2zM253.3 263.5h1.2v1.2h-1.2zM250.6 270.2h1.2v1.2h-1.2zM255.6 245.8h1.2v1.2h-1.2zM250.7 271.1h1.2v1.2h-1.2zM248.5 264.4h1.2v1.2h-1.2zM257.7 256.3h1.2v1.2h-1.2zM254.7 250.1h1.2v1.2h-1.2zM252.9 267.6h1.2v1.2h-1.2zM255.7 272.6h1.2v1.2h-1.2zM256.2 266.8h1.2v1.2h-1.2zM253.4 260.2h1.2v1.2h-1.2zM242.7 243.1h1.2v1.2h-1.2zM249.5 270.8h1.2v1.2h-1.2zM250.3 269.1h1.2v1.2h-1.2zM248.3 259.9h1.2v1.2h-1.2zM252.9 272.7h1.2v1.2h-1.2zM256.7 260.1h1.2v1.2h-1.2zM250.2 269.1h1.2v1.2h-1.2zM247.7 262.2h1.2v1.2h-1.2zM259.9 233.7h1.2v1.2h-1.2zM250.4 271.9h1.2v1.2h-1.2zM247.4 258.5h1.2v1.2h-1.2zM253.0 272.7h1.2v1.2h-1.2zM253.7 260.0h1.2v1.2h-1.2zM249.4 261.8h1.2v1.2h-1.2zM255.1 264.6h1.2v1.2h-1.2zM250.2 263.6h1.2v1.2h-1.2zM248.6 256.5h1.2v1.2h-1.2zM252.8 270.7h1.2v1.2h-1.2zM255.1 259.6h1.2v1.2h-1.2zM249.7 243.1h1.2v1.2h-1.2zM253.4 263.7h1.2v1.2h-1.2zM251.7 273.4h1.2v1.2h-1.2zM249.4 255.2h1.2v1.2h-1.2zM257.4 244.4h1.2v1.2h-1.2zM251.9 273.5h1.2v1.2h-1.2zM251.6 276.0h1.2v1.2h-1.2zM254.9 272.0h1.2v1.2h-1.2zM255.5 256.6h1.2v1.2h-1.2zM257.0 242.9h1.2v1.2h-1.2zM253.4 267.0h1.2v1.2h-1.2zM249.8 272.2h1.2v1.2h-1.2zM250.0 260.3h1.2v1.2h-1.2zM254.1 270.6h1.2v1.2h-1.2zM254.3 264.7h1.2v1.2h-1.2zM257.5 246.7h1.2v1.2h-1.2zM253.7 271.3h1.2v1.2h-1.2zM256.2 263.0h1.2v1.2h-1.2zM257.9 269.4h1.2v1.2h-1.2zM252.7 274.8h1.2v1.2h-1.2zM246.4 268.6h1.2v1.2h-1.2zM247.6 249.9h1.2v1.2h-1.2zM246.6 249.7h1.2v1.2h-1.2zM258.2 230.7h1.2v1.2h-1.2zM248.8 257.9h1.2v1.2h-1.2zM256.8 263.0h1.2v1.2h-1.2zM254.4 262.5h1.2v1.2h-1.2zM258.7 254.2h1.2v1.2h-1.2zM256.0 252.1h1.2v1.2h-1.2zM251.7 273.6h1.2v1.2h-1.2zM251.3 275.0h1.2v1.2h-1.2zM252.4 274.7h1.2v1.2h-1.2zM252.8 273.7h1.2v1.2h-1.2zM250.1 269.6h1.2v1.2h-1.2zM252.0 275.2h1.2v1.2h-1.2zM258.3 201.2h1.2v1.2h-1.2zM245.6 253.9h1.2v1.2h-1.2zM253.1 273.1h1.2v1.2h-1.2zM248.6 272.8h1.2v1.2h-1.2zM252.8 274.1h1.2v1.2h-1.2zM255.3 265.4h1.2v1.2h-1.2zM251.9 276.4h1.2v1.2h-1.2zM255.1 261.7h1.2v1.2h-1.2zM246.0 238.9h1.2v1.2h-1.2zM256.4 265.1h1.2v1.2h-1.2zM249.8 268.3h1.2v1.2h-1.2zM254.5 270.9h1.2v1.2h-1.2zM252.8 271.6h1.2v1.2h-1.2zM242.2 259.4h1.2v1.2h-1.2zM249.2 266.3h1.2v1.2h-1.2zM252.9 265.2h1.2v1.2h-1.2zM258.1 250.0h1.2v1.2h-1.2zM253.2 269.9h1.2v1.2h-1.2zM253.1 273.1h1.2v1.2h-1.2zM246.7 264.7h1.2v1.2h-1.2zM257.6 252.5h1.2v1.2h-1.2zM259.0 238.1h1.2v1.2h-1.2zM252.2 276.3h1.2v1.2h-1.2zM251.3 272.1h1.2v1.2h-1.2zM245.9 219.3h1.2v1.2h-1.2zM255.5 248.2h1.2v1.2h-1.2zM262.5 258.8h1.2v1.2h-1.2zM254.9 269.1h1.2v1.2h-1.2zM257.0 268.8h1.2v1.2h-1.2zM254.2 259.4h1.2v1.2h-1.2zM248.3 252.8h1.2v1.2h-1.2zM257.2 241.5h1.2v1.2h-1.2zM247.4 264.6h1.2v1.2h-1.2zM251.3 274.0h1.2v1.2h-1.2zM253.2 272.1h1.2v1.2h-1.2zM255.5 261.2h1.2v1.2h-1.2zM253.7 271.1h1.2v1.2h-1.2zM253.6 268.1h1.2v1.2h-1.2zM249.2 258.3h1.2v1.2h-1.2zM247.1 251.7h1.2v1.2h-1.2zM252.3 275.5h1.2v1.2h-1.2zM249.4 273.6h1.2v1.2h-1.2zM247.1 258.2h1.2v1.2h-1.2zM247.2 252.8h1.2v1.2h-1.2zM250.2 270.0h1.2v1.2h-1.2zM245.0 252.5h1.2v1.2h-1.2zM246.9 262.2h1.2v1.2h-1.2zM245.8 234.7h1.2v1.2h-1.2zM252.8 273.8h1.2v1.2h-1.2zM253.7 269.7h1.2v1.2h-1.2zM259.8 255.5h1.2v1.2h-1.2zM246.3 259.3h1.2v1.2h-1.2zM249.5 263.9h1.2v1.2h-1.2zM255.6 268.4h1.2v1.2h-1.2zM251.3 274.2h1.2v1.2h-1.2zM250.8 271.4h1.2v1.2h-1.2zM258.7 217.8h1.2v1.2h-1.2zM250.8 269.7h1.2v1.2h-1.2zM247.7 230.6h1.2v1.2h-1.2zM247.0 256.8h1.2v1.2h-1.2zM253.4 271.2h1.2v1.2h-1.2zM253.3 273.3h1.2v1.2h-1.2zM246.8 259.6h1.2v1.2h-1.2zM248.3 237.3h1.2v1.2h-1.2zM254.2 266.1h1.2v1.2h-1.2zM254.3 261.3h1.2v1.2h-1.2zM249.6 260.3h1.2v1.2h-1.2zM254.5 266.7h1.2v1.2h-1.2zM254.3 268.6h1.2v1.2h-1.2zM245.2 244.3h1.2v1.2h-1.2zM250.9 268.6h1.2v1.2h-1.2zM253.7 267.6h1.2v1.2h-1.2zM249.9 263.3h1.2v1.2h-1.2zM243.9 236.6h1.2v1.2h-1.2zM251.0 272.9h1.2v1.2h-1.2zM255.0 266.1h1.2v1.2h-1.2zM258.2 260.6h1.2v1.2h-1.2zM243.7 209.6h1.2v1.2h-1.2zM262.1 263.8h1.2v1.2h-1.2zM247.8 260.5h1.2v1.2h-1.2zM255.8 210.0h1.2v1.2h-1.2zM256.8 260.0h1.2v1.2h-1.2zM255.9 268.3h1.2v1.2h-1.2zM252.7 273.3h1.2v1.2h-1.2zM247.6 234.3h1.2v1.2h-1.2zM254.5 264.6h1.2v1.2h-1.2zM249.4 256.1h1.2v1.2h-1.2zM254.8 198.2h1.2v1.2h-1.2zM259.1 242.6h1.2v1.2h-1.2zM248.6 265.7h1.2v1.2h-1.2zM257.7 258.6h1.2v1.2h-1.2zM258.2 243.4h1.2v1.2h-1.2zM258.1 241.5h1.2v1.2h-1.2zM252.0 275.4h1.2v1.2h-1.2zM247.5 253.9h1.2v1.2h-1.2zM251.4 275.6h1.2v1.2h-1.2zM243.6 225.8h1.2v1.2h-1.2zM245.6 253.4h1.2v1.2h-1.2zM252.5 274.0h1.2v1.2h-1.2zM248.3 270.2h1.2v1.2h-1.2zM251.5 273.3h1.2v1.2h-1.2zM251.7 275.8h1.2v1.2h-1.2zM259.5 245.6h1.2v1.2h-1.2zM257.1 267.1h1.2v1.2h-1.2zM251.9 276.2h1.2v1.2h-1.2zM256.7 254.3h1.2v1.2h-1.2zM249.1 270.4h1.2v1.2h-1.2zM250.8 271.7h1.2v1.2h-1.2zM255.6 267.4h1.2v1.2h-1.2zM247.3 240.6h1.2v1.2h-1.2zM251.0 276.0h1.2v1.2h-1.2zM247.0 259.1h1.2v1.2h-1.2zM252.6 276.2h1.2v1.2h-1.2zM258.4 255.7h1.2v1.2h-1.2zM249.2 255.8h1.2v1.2h-1.2zM253.0 271.2h1.2v1.2h-1.2zM248.7 259.9h1.2v1.2h-1.2zM247.7 264.3h1.2v1.2h-1.2zM247.3 210.7h1.2v1.2h-1.2zM257.7 234.9h1.2v1.2h-1.2zM254.0 271.7h1.2v1.2h-1.2zM249.3 270.4h1.2v1.2h-1.2zM254.8 253.9h1.2v1.2h-1.2zM250.8 269.9h1.2v1.2h-1.2zM255.2 265.4h1.2v1.2h-1.2zM253.2 271.0h1.2v1.2h-1.2zM253.2 272.9h1.2v1.2h-1.2zM254.4 260.8h1.2v1.2h-1.2zM249.9 267.2h1.2v1.2h-1.2zM250.5 267.8h1.2v1.2h-1.2zM245.5 257.7h1.2v1.2h-1.2zM250.4 265.7h1.2v1.2h-1.2zM246.6 261.1h1.2v1.2h-1.2zM251.5 272.3h1.2v1.2h-1.2zM248.4 245.4h1.2v1.2h-1.2zM252.5 270.0h1.2v1.2h-1.2zM253.8 266.2h1.2v1.2h-1.2zM246.6 239.8h1.2v1.2h-1.2zM249.0 273.6h1.2v1.2h-1.2zM248.5 250.1h1.2v1.2h-1.2zM255.0 266.4h1.2v1.2h-1.2zM258.7 246.9h1.2v1.2h-1.2zM255.4 264.7h1.2v1.2h-1.2zM250.8 272.6h1.2v1.2h-1.2zM257.7 258.9h1.2v1.2h-1.2zM246.3 238.4h1.2v1.2h-1.2zM257.9 218.5h1.2v1.2h-1.2zM249.6 269.4h1.2v1.2h-1.2zM258.2 261.3h1.2v1.2h-1.2zM248.1 216.7h1.2v1.2h-1.2zM252.7 274.0h1.2v1.2h-1.2zM251.3 273.2h1.2v1.2h-1.2zM252.5 272.9h1.2v1.2h-1.2zM246.4 207.4h1.2v1.2h-1.2zM249.5 272.1h1.2v1.2h-1.2zM253.9 256.4h1.2v1.2h-1.2zM253.0 272.5h1.2v1.2h-1.2zM256.7 228.1h1.2v1.2h-1.2zM252.4 275.6h1.2v1.2h-1.2zM261.1 260.3h1.2v1.2h-1.2zM249.3 260.8h1.2v1.2h-1.2zM253.1 269.3h1.2v1.2h-1.2zM247.3 217.8h1.2v1.2h-1.2zM257.2 242.6h1.2v1.2h-1.2zM248.5 263.1h1.2v1.2h-1.2zM254.1 270.0h1.2v1.2h-1.2zM251.9 275.9h1.2v1.2h-1.2zM248.1 266.3h1.2v1.2h-1.2zM250.8 271.3h1.2v1.2h-1.2zM250.1 274.9h1.2v1.2h-1.2zM250.2 267.8h1.2v1.2h-1.2zM255.0 264.2h1.2v1.2h-1.2zM254.6 226.1h1.2v1.2h-1.2zM249.9 261.7h1.2v1.2h-1.2zM248.6 265.6h1.2v1.2h-1.2zM253.2 269.5h1.2v1.2h-1.2zM251.7 273.8h1.2v1.2h-1.2zM256.1 262.6h1.2v1.2h-1.2zM262.3 262.5h1.2v1.2h-1.2zM255.3 243.1h1.2v1.2h-1.2zM252.0 274.2h1.2v1.2h-1.2zM251.4 274.6h1.2v1.2h-1.2zM248.8 262.5h1.2v1.2h-1.2zM248.6 250.1h1.2v1.2h-1.2zM248.2 254.3h1.2v1.2h-1.2zM250.6 268.1h1.2v1.2h-1.2zM250.5 272.4h1.2v1.2h-1.2zM255.0 266.9h1.2v1.2h-1.2zM250.6 269.7h1.2v1.2h-1.2zM251.3 270.6h1.2v1.2h-1.2zM246.4 271.0h1.2v1.2h-1.2zM259.7 268.2h1.2v1.2h-1.2zM254.5 270.8h1.2v1.2h-1.2zM260.4 271.2h1.2v1.2h-1.2zM255.8 263.3h1.2v1.2h-1.2zM259.0 270.3h1.2v1.2h-1.2zM250.9 273.5h1.2v1.2h-1.2zM255.4 265.5h1.2v1.2h-1.2zM246.4 274.2h1.2v1.2h-1.2zM257.6 273.0h1.2v1.2h-1.2zM260.0 273.5h1.2v1.2h-1.2zM254.1 246.2h1.2v1.2h-1.2zM255.7 269.1h1.2v1.2h-1.2zM258.1 266.8h1.2v1.2h-1.2zM249.0 272.0h1.2v1.2h-1.2zM254.0 273.6h1.2v1.2h-1.2zM248.0 268.3h1.2v1.2h-1.2zM248.9 271.5h1.2v1.2h-1.2zM249.2 270.9h1.2v1.2h-1.2zM251.4 267.9h1.2v1.2h-1.2zM252.8 267.5h1.2v1.2h-1.2zM254.3 271.3h1.2v1.2h-1.2zM245.4 262.8h1.2v1.2h-1.2zM261.5 270.1h1.2v1.2h-1.2zM257.6 276.1h1.2v1.2h-1.2zM255.6 267.6h1.2v1.2h-1.2zM250.4 257.8h1.2v1.2h-1.2zM251.7 274.0h1.2v1.2h-1.2zM254.7 263.7h1.2v1.2h-1.2zM254.1 274.5h1.2v1.2h-1.2zM244.1 272.9h1.2v1.2h-1.2zM255.6 275.7h1.2v1.2h-1.2zM266.0 277.0h1.2v1.2h-1.2zM243.3 275.3h1.2v1.2h-1.2zM256.8 268.0h1.2v1.2h-1.2zM253.9 258.3h1.2v1.2h-1.2zM251.6 271.0h1.2v1.2h-1.2zM258.6 266.9h1.2v1.2h-1.2zM246.5 273.0h1.2v1.2h-1.2zM252.9 273.3h1.2v1.2h-1.2zM259.1 270.5h1.2v1.2h-1.2zM251.2 275.0h1.2v1.2h-1.2zM250.1 262.4h1.2v1.2h-1.2zM252.6 276.9h1.2v1.2h-1.2zM250.0 271.9h1.2v1.2h-1.2zM259.5 270.8h1.2v1.2h-1.2zM247.8 271.4h1.2v1.2h-1.2zM256.3 274.2h1.2v1.2h-1.2zM246.1 272.6h1.2v1.2h-1.2zM255.3 265.3h1.2v1.2h-1.2zM251.6 271.6h1.2v1.2h-1.2zM239.8 264.7h1.2v1.2h-1.2zM252.1 252.9h1.2v1.2h-1.2zM247.0 253.8h1.2v1.2h-1.2zM250.0 270.9h1.2v1.2h-1.2zM259.5 275.7h1.2v1.2h-1.2zM246.8 267.8h1.2v1.2h-1.2zM247.0 274.0h1.2v1.2h-1.2zM259.0 271.3h1.2v1.2h-1.2zM252.7 271.4h1.2v1.2h-1.2zM259.5 276.0h1.2v1.2h-1.2zM253.6 262.4h1.2v1.2h-1.2zM247.9 276.8h1.2v1.2h-1.2zM251.8 273.1h1.2v1.2h-1.2zM258.0 273.2h1.2v1.2h-1.2zM256.6 276.9h1.2v1.2h-1.2zM252.1 275.1h1.2v1.2h-1.2zM252.3 263.7h1.2v1.2h-1.2zM251.6 268.5h1.2v1.2h-1.2zM249.3 276.9h1.2v1.2h-1.2zM261.3 273.0h1.2v1.2h-1.2zM252.1 270.2h1.2v1.2h-1.2zM246.7 275.2h1.2v1.2h-1.2zM249.8 274.4h1.2v1.2h-1.2zM255.6 276.1h1.2v1.2h-1.2zM255.2 275.5h1.2v1.2h-1.2zM251.4 266.5h1.2v1.2h-1.2zM248.9 272.4h1.2v1.2h-1.2zM252.2 272.7h1.2v1.2h-1.2zM244.1 275.2h1.2v1.2h-1.2zM245.9 271.9h1.2v1.2h-1.2zM255.9 275.9h1.2v1.2h-1.2zM249.8 273.4h1.2v1.2h-1.2zM253.9 266.6h1.2v1.2h-1.2zM257.9 275.7h1.2v1.2h-1.2zM255.2 271.8h1.2v1.2h-1.2zM252.2 276.9h1.2v1.2h-1.2zM262.3 268.0h1.2v1.2h-1.2zM255.3 274.1h1.2v1.2h-1.2zM250.4 268.6h1.2v1.2h-1.2zM255.6 276.0h1.2v1.2h-1.2zM254.0 276.4h1.2v1.2h-1.2zM248.0 253.8h1.2v1.2h-1.2zM252.4 264.7h1.2v1.2h-1.2zM251.3 274.2h1.2v1.2h-1.2zM242.7 271.3h1.2v1.2h-1.2zM251.3 275.4h1.2v1.2h-1.2zM250.7 272.4h1.2v1.2h-1.2zM250.0 266.7h1.2v1.2h-1.2zM244.2 270.5h1.2v1.2h-1.2zM250.4 271.5h1.2v1.2h-1.2zM251.9 257.8h1.2v1.2h-1.2zM252.6 273.7h1.2v1.2h-1.2zM246.7 275.5h1.2v1.2h-1.2zM255.1 276.6h1.2v1.2h-1.2zM246.3 270.1h1.2v1.2h-1.2zM251.0 273.9h1.2v1.2h-1.2zM258.3 265.3h1.2v1.2h-1.2zM248.8 276.1h1.2v1.2h-1.2zM249.7 258.6h1.2v1.2h-1.2zM257.2 273.7h1.2v1.2h-1.2zM250.3 265.5h1.2v1.2h-1.2zM250.7 276.0h1.2v1.2h-1.2zM253.2 274.6h1.2v1.2h-1.2zM257.1 275.6h1.2v1.2h-1.2zM241.6 271.7h1.2v1.2h-1.2zM248.1 268.0h1.2v1.2h-1.2zM247.3 274.8h1.2v1.2h-1.2zM246.9 272.1h1.2v1.2h-1.2zM248.0 275.7h1.2v1.2h-1.2zM248.1 263.9h1.2v1.2h-1.2zM253.5 274.1h1.2v1.2h-1.2zM247.9 272.2h1.2v1.2h-1.2zM252.7 275.2h1.2v1.2h-1.2zM254.0 272.6h1.2v1.2h-1.2zM248.6 269.4h1.2v1.2h-1.2zM252.7 273.5h1.2v1.2h-1.2zM259.9 265.6h1.2v1.2h-1.2zM253.6 273.6h1.2v1.2h-1.2zM249.1 274.4h1.2v1.2h-1.2zM251.8 270.6h1.2v1.2h-1.2zM247.7 260.1h1.2v1.2h-1.2zM253.4 267.6h1.2v1.2h-1.2zM256.2 262.1h1.2v1.2h-1.2zM248.2 273.7h1.2v1.2h-1.2zM251.1 271.1h1.2v1.2h-1.2zM257.4 273.2h1.2v1.2h-1.2zM249.7 243.3h1.2v1.2h-1.2zM253.0 255.8h1.2v1.2h-1.2zM247.2 273.7h1.2v1.2h-1.2zM248.2 270.2h1.2v1.2h-1.2zM249.7 271.4h1.2v1.2h-1.2zM262.2 274.1h1.2v1.2h-1.2zM250.2 276.0h1.2v1.2h-1.2zM249.6 268.1h1.2v1.2h-1.2zM249.5 276.9h1.2v1.2h-1.2zM251.3 259.1h1.2v1.2h-1.2zM255.2 276.0h1.2v1.2h-1.2zM253.0 269.5h1.2v1.2h-1.2zM261.7 276.7h1.2v1.2h-1.2zM253.1 266.5h1.2v1.2h-1.2zM258.8 260.8h1.2v1.2h-1.2zM253.4 274.9h1.2v1.2h-1.2zM254.9 265.6h1.2v1.2h-1.2zM245.4 274.3h1.2v1.2h-1.2zM251.5 274.8h1.2v1.2h-1.2zM251.8 263.0h1.2v1.2h-1.2zM251.0 276.0h1.2v1.2h-1.2zM242.1 261.4h1.2v1.2h-1.2zM256.2 273.7h1.2v1.2h-1.2zM250.3 265.3h1.2v1.2h-1.2zM250.1 271.5h1.2v1.2h-1.2zM250.9 275.9h1.2v1.2h-1.2zM251.0 275.1h1.2v1.2h-1.2zM254.0 275.6h1.2v1.2h-1.2zM246.2 269.6h1.2v1.2h-1.2zM247.8 262.4h1.2v1.2h-1.2zM253.5 275.7h1.2v1.2h-1.2zM252.8 276.7h1.2v1.2h-1.2zM250.3 274.7h1.2v1.2h-1.2zM249.4 276.8h1.2v1.2h-1.2zM248.2 270.1h1.2v1.2h-1.2zM251.8 275.7h1.2v1.2h-1.2zM257.6 266.5h1.2v1.2h-1.2zM247.2 274.5h1.2v1.2h-1.2zM259.2 268.9h1.2v1.2h-1.2zM256.0 271.7h1.2v1.2h-1.2zM250.0 265.5h1.2v1.2h-1.2zM255.7 251.6h1.2v1.2h-1.2zM245.3 264.8h1.2v1.2h-1.2zM244.0 269.6h1.2v1.2h-1.2zM246.1 274.6h1.2v1.2h-1.2zM250.2 264.3h1.2v1.2h-1.2zM250.6 273.7h1.2v1.2h-1.2zM249.7 270.1h1.2v1.2h-1.2zM252.6 273.8h1.2v1.2h-1.2zM254.4 272.2h1.2v1.2h-1.2zM245.5 266.7h1.2v1.2h-1.2zM249.0 276.7h1.2v1.2h-1.2zM250.2 276.3h1.2v1.2h-1.2zM246.7 258.8h1.2v1.2h-1.2zM245.7 273.5h1.2v1.2h-1.2zM247.4 276.1h1.2v1.2h-1.2zM252.0 276.9h1.2v1.2h-1.2zM254.8 275.6h1.2v1.2h-1.2zM254.7 276.6h1.2v1.2h-1.2zM247.5 276.6h1.2v1.2h-1.2zM248.4 273.0h1.2v1.2h-1.2zM247.8 273.1h1.2v1.2h-1.2zM254.2 276.7h1.2v1.2h-1.2zM242.6 274.5h1.2v1.2h-1.2zM257.9 276.6h1.2v1.2h-1.2zM249.8 274.1h1.2v1.2h-1.2zM248.5 266.5h1.2v1.2h-1.2zM253.7 267.8h1.2v1.2h-1.2zM256.9 275.2h1.2v1.2h-1.2zM253.7 270.7h1.2v1.2h-1.2zM257.0 269.7h1.2v1.2h-1.2zM252.7 275.5h1.2v1.2h-1.2zM257.8 276.4h1.2v1.2h-1.2zM257.9 243.6h1.2v1.2h-1.2zM251.6 269.2h1.2v1.2h-1.2zM258.8 248.0h1.2v1.2h-1.2zM252.9 275.0h1.2v1.2h-1.2zM252.5 259.2h1.2v1.2h-1.2zM247.8 260.1h1.2v1.2h-1.2zM250.8 275.3h1.2v1.2h-1.2zM255.7 271.5h1.2v1.2h-1.2zM246.0 264.6h1.2v1.2h-1.2zM255.1 267.9h1.2v1.2h-1.2zM253.7 269.0h1.2v1.2h-1.2zM253.4 274.8h1.2v1.2h-1.2zM241.8 271.4h1.2v1.2h-1.2zM251.6 274.4h1.2v1.2h-1.2zM255.1 275.2h1.2v1.2h-1.2zM248.6 276.7h1.2v1.2h-1.2zM252.5 275.9h1.2v1.2h-1.2zM241.0 276.5h1.2v1.2h-1.2zM255.2 276.1h1.2v1.2h-1.2zM249.0 269.1h1.2v1.2h-1.2zM256.2 273.3h1.2v1.2h-1.2zM243.5 270.9h1.2v1.2h-1.2zM255.3 276.0h1.2v1.2h-1.2zM251.0 245.5h1.2v1.2h-1.2zM255.9 276.5h1.2v1.2h-1.2zM247.8 260.3h1.2v1.2h-1.2zM249.2 271.8h1.2v1.2h-1.2zM262.5 274.5h1.2v1.2h-1.2zM248.2 270.2h1.2v1.2h-1.2zM248.8 274.4h1.2v1.2h-1.2zM250.8 274.2h1.2v1.2h-1.2zM247.3 272.1h1.2v1.2h-1.2zM257.6 274.6h1.2v1.2h-1.2zM260.1 275.2h1.2v1.2h-1.2zM248.8 274.7h1.2v1.2h-1.2zM244.1 273.6h1.2v1.2h-1.2zM257.5 275.8h1.2v1.2h-1.2zM257.3 274.8h1.2v1.2h-1.2zM255.9 265.1h1.2v1.2h-1.2zM257.5 274.5h1.2v1.2h-1.2zM248.1 273.4h1.2v1.2h-1.2zM251.3 273.2h1.2v1.2h-1.2zM245.7 271.8h1.2v1.2h-1.2zM245.5 272.2h1.2v1.2h-1.2zM256.7 275.7h1.2v1.2h-1.2zM249.0 273.3h1.2v1.2h-1.2zM262.7 269.0h1.2v1.2h-1.2zM252.4 263.6h1.2v1.2h-1.2zM249.1 276.1h1.2v1.2h-1.2zM255.8 276.9h1.2v1.2h-1.2zM260.5 269.8h1.2v1.2h-1.2zM254.4 274.0h1.2v1.2h-1.2zM246.4 276.3h1.2v1.2h-1.2zM253.8 241.7h1.2v1.2h-1.2zM258.5 274.9h1.2v1.2h-1.2zM249.8 271.1h1.2v1.2h-1.2zM248.5 263.2h1.2v1.2h-1.2zM256.8 258.9h1.2v1.2h-1.2zM252.8 276.4h1.2v1.2h-1.2zM247.0 275.3h1.2v1.2h-1.2zM250.3 274.7h1.2v1.2h-1.2zM248.6 275.7h1.2v1.2h-1.2zM253.5 260.6h1.2v1.2h-1.2zM252.6 271.4h1.2v1.2h-1.2zM257.4 275.5h1.2v1.2h-1.2zM255.4 274.6h1.2v1.2h-1.2zM244.8 270.5h1.2v1.2h-1.2zM254.0 268.0h1.2v1.2h-1.2zM256.3 277.0h1.2v1.2h-1.2zM254.2 260.4h1.2v1.2h-1.2zM256.9 275.5h1.2v1.2h-1.2zM249.5 274.6h1.2v1.2h-1.2zM247.7 275.8h1.2v1.2h-1.2zM256.4 269.2h1.2v1.2h-1.2zM247.1 269.8h1.2v1.2h-1.2zM242.1 272.7h1.2v1.2h-1.2zM256.9 274.3h1.2v1.2h-1.2zM248.7 264.2h1.2v1.2h-1.2zM250.7 239.0h1.2v1.2h-1.2zM245.6 271.7h1.2v1.2h-1.2zM245.9 273.8h1.2v1.2h-1.2zM246.7 273.1h1.2v1.2h-1.2zM250.4 274.6h1.2v1.2h-1.2zM253.8 273.6h1.2v1.2h-1.2zM241.4 275.7h1.2v1.2h-1.2zM255.6 272.3h1.2v1.2h-1.2zM246.6 265.1h1.2v1.2h-1.2zM247.1 266.0h1.2v1.2h-1.2zM255.3 275.4h1.2v1.2h-1.2zM251.8 266.3h1.2v1.2h-1.2zM245.0 276.9h1.2v1.2h-1.2zM260.7 271.1h1.2v1.2h-1.2zM248.1 276.7h1.2v1.2h-1.2zM253.3 276.4h1.2v1.2h-1.2zM253.0 274.2h1.2v1.2h-1.2zM258.7 266.5h1.2v1.2h-1.2zM250.0 272.8h1.2v1.2h-1.2zM256.8 275.1h1.2v1.2h-1.2zM248.7 270.3h1.2v1.2h-1.2zM257.3 275.3h1.2v1.2h-1.2zM248.6 275.4h1.2v1.2h-1.2zM250.4 275.1h1.2v1.2h-1.2zM260.9 273.0h1.2v1.2h-1.2zM253.6 263.8h1.2v1.2h-1.2zM252.6 274.3h1.2v1.2h-1.2zM262.5 273.9h1.2v1.2h-1.2zM253.8 276.9h1.2v1.2h-1.2zM248.3 265.6h1.2v1.2h-1.2zM255.5 276.4h1.2v1.2h-1.2zM246.6 272.0h1.2v1.2h-1.2zM257.3 264.8h1.2v1.2h-1.2zM257.7 275.4h1.2v1.2h-1.2zM249.4 265.5h1.2v1.2h-1.2zM249.2 271.7h1.2v1.2h-1.2zM252.9 276.9h1.2v1.2h-1.2zM252.2 275.5h1.2v1.2h-1.2zM247.6 267.7h1.2v1.2h-1.2zM254.7 276.3h1.2v1.2h-1.2zM242.6 276.2h1.2v1.2h-1.2zM250.1 275.2h1.2v1.2h-1.2zM250.2 245.7h1.2v1.2h-1.2zM250.8 274.0h1.2v1.2h-1.2zM253.5 274.1h1.2v1.2h-1.2zM246.4 268.4h1.2v1.2h-1.2zM254.8 271.4h1.2v1.2h-1.2zM251.3 270.8h1.2v1.2h-1.2zM249.1 275.5h1.2v1.2h-1.2zM245.7 268.2h1.2v1.2h-1.2zM246.6 262.6h1.2v1.2h-1.2zM253.8 272.6h1.2v1.2h-1.2zM247.6 271.4h1.2v1.2h-1.2zM252.4 269.1h1.2v1.2h-1.2zM257.0 272.3h1.2v1.2h-1.2zM256.9 277.0h1.2v1.2h-1.2zM259.4 275.8h1.2v1.2h-1.2zM250.7 260.9h1.2v1.2h-1.2zM247.1 268.0h1.2v1.2h-1.2zM256.8 263.2h1.2v1.2h-1.2zM253.5 263.4h1.2v1.2h-1.2zM257.3 270.5h1.2v1.2h-1.2zM252.2 261.9h1.2v1.2h-1.2zM257.7 274.7h1.2v1.2h-1.2zM256.0 272.0h1.2v1.2h-1.2zM255.4 272.2h1.2v1.2h-1.2zM254.4 269.6h1.2v1.2h-1.2zM253.9 268.0h1.2v1.2h-1.2zM253.2 276.3h1.2v1.2h-1.2zM253.2 269.6h1.2v1.2h-1.2zM256.7 257.1h1.2v1.2h-1.2zM249.7 264.9h1.2v1.2h-1.2zM260.2 273.0h1.2v1.2h-1.2zM251.6 263.2h1.2v1.2h-1.2zM256.7 274.1h1.2v1.2h-1.2zM251.7 271.2h1.2v1.2h-1.2zM251.0 274.6h1.2v1.2h-1.2zM261.5 258.5h1.2v1.2h-1.2zM250.7 272.7h1.2v1.2h-1.2zM246.2 271.5h1.2v1.2h-1.2zM248.8 272.9h1.2v1.2h-1.2zM250.6 271.6h1.2v1.2h-1.2zM262.1 264.0h1.2v1.2h-1.2zM253.1 267.9h1.2v1.2h-1.2zM256.4 266.9h1.2v1.2h-1.2zM247.4 261.5h1.2v1.2h-1.2zM253.7 267.6h1.2v1.2h-1.2zM255.2 265.1h1.2v1.2h-1.2zM260.5 272.8h1.2v1.2h-1.2zM248.9 275.5h1.2v1.2h-1.2zM254.9 275.4h1.2v1.2h-1.2zM253.5 260.9h1.2v1.2h-1.2zM247.3 274.7h1.2v1.2h-1.2zM252.0 271.1h1.2v1.2h-1.2zM250.9 275.5h1.2v1.2h-1.2zM241.3 263.1h1.2v1.2h-1.2zM254.9 258.4h1.2v1.2h-1.2zM254.6 265.7h1.2v1.2h-1.2zM250.1 276.4h1.2v1.2h-1.2zM245.9 272.6h1.2v1.2h-1.2zM259.0 273.0h1.2v1.2h-1.2zM253.3 271.2h1.2v1.2h-1.2zM256.8 275.2h1.2v1.2h-1.2zM258.7 273.6h1.2v1.2h-1.2zM249.7 268.2h1.2v1.2h-1.2zM255.9 253.0h1.2v1.2h-1.2zM251.0 268.5h1.2v1.2h-1.2zM251.8 262.5h1.2v1.2h-1.2zM251.7 273.5h1.2v1.2h-1.2zM252.1 271.2h1.2v1.2h-1.2zM257.3 259.6h1.2v1.2h-1.2zM252.7 276.9h1.2v1.2h-1.2zM251.4 275.4h1.2v1.2h-1.2zM250.8 277.0h1.2v1.2h-1.2zM253.7 276.3h1.2v1.2h-1.2zM247.9 276.3h1.2v1.2h-1.2zM249.8 275.0h1.2v1.2h-1.2zM251.9 274.1h1.2v1.2h-1.2zM249.5 272.2h1.2v1.2h-1.2zM251.5 272.0h1.2v1.2h-1.2zM249.3 269.6h1.2v1.2h-1.2zM261.4 257.8h1.2v1.2h-1.2zM258.3 272.7h1.2v1.2h-1.2zM254.2 266.0h1.2v1.2h-1.2zM251.9 276.9h1.2v1.2h-1.2zM262.3 256.2h1.2v1.2h-1.2zM253.6 270.5h1.2v1.2h-1.2zM251.7 262.8h1.2v1.2h-1.2zM253.5 275.7h1.2v1.2h-1.2zM253.5 252.1h1.2v1.2h-1.2zM258.7 274.4h1.2v1.2h-1.2zM252.0 276.1h1.2v1.2h-1.2zM261.9 272.7h1.2v1.2h-1.2zM248.0 272.2h1.2v1.2h-1.2zM255.3 275.5h1.2v1.2h-1.2zM247.4 266.7h1.2v1.2h-1.2zM260.5 274.5h1.2v1.2h-1.2zM250.6 273.6h1.2v1.2h-1.2zM251.8 276.5h1.2v1.2h-1.2zM256.4 275.2h1.2v1.2h-1.2zM257.9 257.8h1.2v1.2h-1.2zM246.9 272.3h1.2v1.2h-1.2zM250.5 271.8h1.2v1.2h-1.2zM245.6 267.9h1.2v1.2h-1.2zM252.7 274.3h1.2v1.2h-1.2zM251.6 277.0h1.2v1.2h-1.2zM250.5 276.0h1.2v1.2h-1.2zM248.9 275.9h1.2v1.2h-1.2zM250.3 272.1h1.2v1.2h-1.2zM248.6 275.1h1.2v1.2h-1.2zM254.6 272.9h1.2v1.2h-1.2zM259.1 276.8h1.2v1.2h-1.2zM243.1 275.2h1.2v1.2h-1.2zM251.6 276.4h1.2v1.2h-1.2zM250.2 270.2h1.2v1.2h-1.2zM254.4 270.4h1.2v1.2h-1.2zM247.7 266.1h1.2v1.2h-1.2zM251.4 276.6h1.2v1.2h-1.2zM247.3 267.5h1.2v1.2h-1.2zM255.3 267.1h1.2v1.2h-1.2zM252.6 253.1h1.2v1.2h-1.2zM251.3 275.5h1.2v1.2h-1.2zM253.8 272.6h1.2v1.2h-1.2zM251.0 275.6h1.2v1.2h-1.2zM244.9 268.7h1.2v1.2h-1.2zM254.9 272.1h1.2v1.2h-1.2zM253.4 274.2h1.2v1.2h-1.2zM251.4 265.8h1.2v1.2h-1.2zM256.7 276.1h1.2v1.2h-1.2zM257.8 275.8h1.2v1.2h-1.2zM247.0 274.5h1.2v1.2h-1.2zM248.5 268.2h1.2v1.2h-1.2zM259.3 275.0h1.2v1.2h-1.2zM258.7 274.8h1.2v1.2h-1.2zM248.7 275.3h1.2v1.2h-1.2zM246.6 276.3h1.2v1.2h-1.2zM249.1 270.4h1.2v1.2h-1.2zM249.8 276.9h1.2v1.2h-1.2zM244.7 276.0h1.2v1.2h-1.2zM252.2 274.5h1.2v1.2h-1.2zM246.1 269.9h1.2v1.2h-1.2zM246.5 273.2h1.2v1.2h-1.2zM256.4 274.9h1.2v1.2h-1.2zM248.9 274.0h1.2v1.2h-1.2zM251.8 256.4h1.2v1.2h-1.2zM255.0 268.8h1.2v1.2h-1.2zM255.9 260.0h1.2v1.2h-1.2zM250.5 276.1h1.2v1.2h-1.2zM252.3 273.4h1.2v1.2h-1.2zM248.3 273.6h1.2v1.2h-1.2zM260.2 271.6h1.2v1.2h-1.2zM255.1 270.8h1.2v1.2h-1.2zM247.0 265.6h1.2v1.2h-1.2zM252.1 269.5h1.2v1.2h-1.2zM255.4 259.3h1.2v1.2h-1.2zM254.3 276.0h1.2v1.2h-1.2zM260.6 264.3h1.2v1.2h-1.2zM258.5 260.1h1.2v1.2h-1.2zM249.6 275.3h1.2v1.2h-1.2zM251.7 275.6h1.2v1.2h-1.2zM246.1 271.3h1.2v1.2h-1.2zM253.3 276.7h1.2v1.2h-1.2zM252.8 264.8h1.2v1.2h-1.2zM264.7 275.6h1.2v1.2h-1.2zM252.6 271.5h1.2v1.2h-1.2zM242.4 274.8h1.2v1.2h-1.2zM249.0 264.8h1.2v1.2h-1.2zM252.6 262.6h1.2v1.2h-1.2zM246.3 270.8h1.2v1.2h-1.2zM248.1 274.8h1.2v1.2h-1.2zM250.4 272.6h1.2v1.2h-1.2zM253.7 269.9h1.2v1.2h-1.2zM251.3 251.5h1.2v1.2h-1.2zM248.0 270.6h1.2v1.2h-1.2zM255.8 265.2h1.2v1.2h-1.2zM249.6 269.7h1.2v1.2h-1.2zM249.8 263.1h1.2v1.2h-1.2zM245.7 276.9h1.2v1.2h-1.2zM248.4 273.5h1.2v1.2h-1.2zM255.1 267.8h1.2v1.2h-1.2zM244.6 276.2h1.2v1.2h-1.2zM251.8 276.2h1.2v1.2h-1.2zM255.4 260.1h1.2v1.2h-1.2zM250.3 263.0h1.2v1.2h-1.2zM253.2 274.3h1.2v1.2h-1.2zM246.9 275.1h1.2v1.2h-1.2zM258.2 267.4h1.2v1.2h-1.2zM257.2 271.4h1.2v1.2h-1.2zM253.2 273.0h1.2v1.2h-1.2zM243.9 261.1h1.2v1.2h-1.2zM247.2 272.5h1.2v1.2h-1.2zM256.6 258.9h1.2v1.2h-1.2zM260.1 250.7h1.2v1.2h-1.2zM253.5 270.7h1.2v1.2h-1.2zM257.9 275.1h1.2v1.2h-1.2zM249.3 267.9h1.2v1.2h-1.2zM251.2 276.8h1.2v1.2h-1.2zM252.1 276.6h1.2v1.2h-1.2zM254.1 275.2h1.2v1.2h-1.2zM245.0 262.9h1.2v1.2h-1.2zM256.5 257.3h1.2v1.2h-1.2zM258.2 274.1h1.2v1.2h-1.2zM246.8 275.0h1.2v1.2h-1.2zM245.8 266.6h1.2v1.2h-1.2zM253.7 272.2h1.2v1.2h-1.2zM249.1 269.7h1.2v1.2h-1.2zM241.1 270.7h1.2v1.2h-1.2zM255.9 271.4h1.2v1.2h-1.2zM252.8 273.0h1.2v1.2h-1.2zM249.9 276.3h1.2v1.2h-1.2zM261.9 276.3h1.2v1.2h-1.2zM252.7 272.8h1.2v1.2h-1.2zM248.6 273.3h1.2v1.2h-1.2zM252.6 269.9h1.2v1.2h-1.2zM247.3 269.5h1.2v1.2h-1.2zM248.6 272.9h1.2v1.2h-1.2zM253.9 270.6h1.2v1.2h-1.2zM249.5 275.3h1.2v1.2h-1.2zM250.0 275.5h1.2v1.2h-1.2zM259.9 275.9h1.2v1.2h-1.2zM256.1 274.3h1.2v1.2h-1.2zM255.8 272.6h1.2v1.2h-1.2zM254.6 271.7h1.2v1.2h-1.2zM254.4 274.2h1.2v1.2h-1.2zM258.9 265.7h1.2v1.2h-1.2zM252.0 264.1h1.2v1.2h-1.2zM260.7 268.5h1.2v1.2h-1.2zM247.7 271.0h1.2v1.2h-1.2zM250.9 269.5h1.2v1.2h-1.2zM245.7 274.9h1.2v1.2h-1.2zM250.5 269.8h1.2v1.2h-1.2zM254.5 274.8h1.2v1.2h-1.2zM258.8 276.0h1.2v1.2h-1.2zM249.0 274.3h1.2v1.2h-1.2zM252.1 276.0h1.2v1.2h-1.2zM250.4 253.7h1.2v1.2h-1.2zM248.7 242.5h1.2v1.2h-1.2zM246.6 271.2h1.2v1.2h-1.2zM252.4 275.8h1.2v1.2h-1.2zM244.0 276.2h1.2v1.2h-1.2zM252.6 274.3h1.2v1.2h-1.2zM252.2 257.1h1.2v1.2h-1.2zM249.0 267.4h1.2v1.2h-1.2zM247.4 267.3h1.2v1.2h-1.2zM245.7 274.6h1.2v1.2h-1.2zM260.8 268.7h1.2v1.2h-1.2zM245.9 276.7h1.2v1.2h-1.2zM259.3 262.2h1.2v1.2h-1.2zM254.9 275.5h1.2v1.2h-1.2zM250.4 273.6h1.2v1.2h-1.2zM246.7 265.5h1.2v1.2h-1.2zM256.9 271.6h1.2v1.2h-1.2zM260.1 275.8h1.2v1.2h-1.2zM247.8 276.9h1.2v1.2h-1.2zM250.7 266.7h1.2v1.2h-1.2zM257.0 276.8h1.2v1.2h-1.2zM253.7 260.4h1.2v1.2h-1.2zM261.4 269.7h1.2v1.2h-1.2zM249.4 276.1h1.2v1.2h-1.2zM254.6 269.6h1.2v1.2h-1.2zM246.3 274.8h1.2v1.2h-1.2zM261.8 275.6h1.2v1.2h-1.2zM248.7 265.9h1.2v1.2h-1.2zM241.8 276.3h1.2v1.2h-1.2zM251.5 274.2h1.2v1.2h-1.2zM251.5 272.2h1.2v1.2h-1.2zM261.0 273.6h1.2v1.2h-1.2zM250.5 275.9h1.2v1.2h-1.2zM252.0 267.7h1.2v1.2h-1.2zM254.9 276.7h1.2v1.2h-1.2zM259.5 256.5h1.2v1.2h-1.2zM251.8 271.2h1.2v1.2h-1.2zM256.9 265.2h1.2v1.2h-1.2zM254.5 273.7h1.2v1.2h-1.2zM250.7 274.3h1.2v1.2h-1.2zM252.5 274.4h1.2v1.2h-1.2zM252.2 268.0h1.2v1.2h-1.2zM247.8 274.3h1.2v1.2h-1.2zM257.7 273.3h1.2v1.2h-1.2zM245.7 274.1h1.2v1.2h-1.2zM257.5 277.0h1.2v1.2h-1.2zM256.5 274.0h1.2v1.2h-1.2zM251.7 273.6h1.2v1.2h-1.2zM248.5 271.2h1.2v1.2h-1.2zM251.0 271.6h1.2v1.2h-1.2zM254.3 271.7h1.2v1.2h-1.2zM255.6 275.2h1.2v1.2h-1.2zM253.4 276.7h1.2v1.2h-1.2zM256.7 272.2h1.2v1.2h-1.2zM249.5 274.7h1.2v1.2h-1.2zM253.2 272.8h1.2v1.2h-1.2zM244.8 275.2h1.2v1.2h-1.2zM255.7 272.0h1.2v1.2h-1.2zM252.8 260.6h1.2v1.2h-1.2zM250.2 269.4h1.2v1.2h-1.2zM257.5 271.1h1.2v1.2h-1.2zM255.3 270.8h1.2v1.2h-1.2zM239.0 272.4h1.2v1.2h-1.2zM252.3 275.5h1.2v1.2h-1.2zM245.3 269.0h1.2v1.2h-1.2zM257.1 270.2h1.2v1.2h-1.2zM263.7 276.7h1.2v1.2h-1.2zM249.7 276.3h1.2v1.2h-1.2zM252.4 276.6h1.2v1.2h-1.2zM250.9 277.0h1.2v1.2h-1.2zM253.7 267.1h1.2v1.2h-1.2zM255.1 272.6h1.2v1.2h-1.2zM258.1 247.3h1.2v1.2h-1.2zM247.5 263.7h1.2v1.2h-1.2zM259.4 272.0h1.2v1.2h-1.2zM247.8 269.6h1.2v1.2h-1.2zM253.4 272.8h1.2v1.2h-1.2zM257.5 270.9h1.2v1.2h-1.2zM255.4 267.6h1.2v1.2h-1.2zM247.7 265.9h1.2v1.2h-1.2zM248.8 264.1h1.2v1.2h-1.2zM250.0 262.8h1.2v1.2h-1.2zM251.9 270.8h1.2v1.2h-1.2zM257.4 275.5h1.2v1.2h-1.2zM246.1 270.6h1.2v1.2h-1.2zM254.3 269.1h1.2v1.2h-1.2zM254.9 266.4h1.2v1.2h-1.2zM254.7 274.5h1.2v1.2h-1.2zM254.3 267.0h1.2v1.2h-1.2zM259.2 274.7h1.2v1.2h-1.2zM254.4 272.0h1.2v1.2h-1.2zM256.1 268.9h1.2v1.2h-1.2zM254.7 273.6h1.2v1.2h-1.2zM260.4 274.3h1.2v1.2h-1.2zM243.3 271.3h1.2v1.2h-1.2zM258.1 261.0h1.2v1.2h-1.2zM250.9 259.3h1.2v1.2h-1.2zM250.8 275.1h1.2v1.2h-1.2zM247.6 274.2h1.2v1.2h-1.2zM243.4 268.6h1.2v1.2h-1.2zM250.3 267.1h1.2v1.2h-1.2zM248.9 271.1h1.2v1.2h-1.2zM254.4 273.0h1.2v1.2h-1.2zM245.3 276.3h1.2v1.2h-1.2zM258.8 266.2h1.2v1.2h-1.2zM253.4 267.5h1.2v1.2h-1.2zM250.9 270.8h1.2v1.2h-1.2zM248.8 275.4h1.2v1.2h-1.2zM248.4 260.3h1.2v1.2h-1.2zM246.8 271.3h1.2v1.2h-1.2zM249.6 276.3h1.2v1.2h-1.2zM252.1 268.2h1.2v1.2h-1.2zM251.3 273.1h1.2v1.2h-1.2zM245.5 261.4h1.2v1.2h-1.2zM250.9 266.6h1.2v1.2h-1.2zM247.9 272.9h1.2v1.2h-1.2zM252.8 269.5h1.2v1.2h-1.2zM260.8 274.5h1.2v1.2h-1.2zM255.0 268.2h1.2v1.2h-1.2zM250.6 262.5h1.2v1.2h-1.2zM244.5 276.1h1.2v1.2h-1.2zM245.5 269.7h1.2v1.2h-1.2zM244.3 264.6h1.2v1.2h-1.2zM255.5 273.7h1.2v1.2h-1.2zM248.5 275.7h1.2v1.2h-1.2zM252.4 269.9h1.2v1.2h-1.2zM249.2 275.5h1.2v1.2h-1.2zM252.5 269.6h1.2v1.2h-1.2zM258.6 275.8h1.2v1.2h-1.2zM248.9 273.4h1.2v1.2h-1.2zM250.5 270.7h1.2v1.2h-1.2zM248.4 268.3h1.2v1.2h-1.2zM256.2 256.7h1.2v1.2h-1.2zM247.3 263.7h1.2v1.2h-1.2zM246.8 273.2h1.2v1.2h-1.2z"/><path fill="#1a22ff" d="M238.5 211.6h1.3v1.3h-1.3zM236.6 241.2h1.3v1.3h-1.3zM242.0 231.8h1.3v1.3h-1.3zM228.7 228.6h1.3v1.3h-1.3zM242.2 236.9h1.3v1.3h-1.3zM228.8 251.8h1.3v1.3h-1.3zM236.2 222.0h1.3v1.3h-1.3zM236.1 222.7h1.3v1.3h-1.3zM229.5 238.4h1.3v1.3h-1.3zM240.3 240.1h1.3v1.3h-1.3zM239.5 241.6h1.3v1.3h-1.3zM240.6 243.9h1.3v1.3h-1.3zM241.0 226.9h1.3v1.3h-1.3zM225.2 249.4h1.3v1.3h-1.3zM241.4 251.2h1.3v1.3h-1.3zM227.6 246.6h1.3v1.3h-1.3zM236.7 237.0h1.3v1.3h-1.3zM238.7 227.2h1.3v1.3h-1.3zM241.3 254.3h1.3v1.3h-1.3zM237.1 249.4h1.3v1.3h-1.3zM232.3 249.0h1.3v1.3h-1.3zM240.4 241.4h1.3v1.3h-1.3zM229.2 253.0h1.3v1.3h-1.3zM235.6 243.1h1.3v1.3h-1.3zM242.4 225.4h1.3v1.3h-1.3zM237.6 210.9h1.3v1.3h-1.3zM226.6 235.5h1.3v1.3h-1.3zM239.6 223.9h1.3v1.3h-1.3zM237.7 237.0h1.3v1.3h-1.3zM241.5 221.4h1.3v1.3h-1.3zM239.2 249.5h1.3v1.3h-1.3zM234.5 254.2h1.3v1.3h-1.3zM235.1 213.0h1.3v1.3h-1.3zM236.8 240.8h1.3v1.3h-1.3zM239.8 247.6h1.3v1.3h-1.3zM242.8 223.2h1.3v1.3h-1.3zM239.7 228.5h1.3v1.3h-1.3zM226.6 213.6h1.3v1.3h-1.3zM240.3 238.4h1.3v1.3h-1.3zM238.5 247.5h1.3v1.3h-1.3zM233.0 245.8h1.3v1.3h-1.3zM239.8 241.9h1.3v1.3h-1.3zM238.1 238.7h1.3v1.3h-1.3zM235.7 236.1h1.3v1.3h-1.3zM240.5 232.4h1.3v1.3h-1.3zM236.8 239.7h1.3v1.3h-1.3zM233.6 252.0h1.3v1.3h-1.3zM238.9 245.4h1.3v1.3h-1.3zM238.5 237.7h1.3v1.3h-1.3zM238.7 219.3h1.3v1.3h-1.3zM240.1 248.3h1.3v1.3h-1.3zM237.4 240.3h1.3v1.3h-1.3zM226.7 217.5h1.3v1.3h-1.3zM234.6 245.3h1.3v1.3h-1.3zM242.0 236.6h1.3v1.3h-1.3zM233.8 250.3h1.3v1.3h-1.3zM223.6 248.5h1.3v1.3h-1.3zM239.4 242.8h1.3v1.3h-1.3zM241.1 241.6h1.3v1.3h-1.3zM234.3 236.6h1.3v1.3h-1.3zM231.7 246.6h1.3v1.3h-1.3zM236.2 237.5h1.3v1.3h-1.3zM240.4 206.6h1.3v1.3h-1.3zM241.7 218.6h1.3v1.3h-1.3zM233.8 252.2h1.3v1.3h-1.3zM239.8 243.2h1.3v1.3h-1.3zM237.1 245.6h1.3v1.3h-1.3zM236.0 224.9h1.3v1.3h-1.3zM228.1 238.5h1.3v1.3h-1.3zM241.5 252.6h1.3v1.3h-1.3zM232.6 242.1h1.3v1.3h-1.3zM230.9 238.8h1.3v1.3h-1.3zM235.1 254.6h1.3v1.3h-1.3zM237.0 256.8h1.3v1.3h-1.3zM229.9 229.7h1.3v1.3h-1.3zM237.5 248.5h1.3v1.3h-1.3zM237.0 235.4h1.3v1.3h-1.3zM233.9 202.9h1.3v1.3h-1.3zM237.9 244.5h1.3v1.3h-1.3zM236.6 252.0h1.3v1.3h-1.3zM236.2 238.7h1.3v1.3h-1.3zM235.1 252.0h1.3v1.3h-1.3zM239.8 237.2h1.3v1.3h-1.3zM234.5 241.0h1.3v1.3h-1.3zM235.5 250.8h1.3v1.3h-1.3zM235.1 241.1h1.3v1.3h-1.3zM226.8 248.4h1.3v1.3h-1.3zM233.8 256.3h1.3v1.3h-1.3zM238.2 212.6h1.3v1.3h-1.3zM241.7 246.6h1.3v1.3h-1.3zM242.5 196.4h1.3v1.3h-1.3zM231.1 227.2h1.3v1.3h-1.3zM240.6 250.1h1.3v1.3h-1.3zM238.2 250.1h1.3v1.3h-1.3zM232.9 248.5h1.3v1.3h-1.3zM238.4 235.6h1.3v1.3h-1.3zM240.7 252.6h1.3v1.3h-1.3zM237.9 242.4h1.3v1.3h-1.3zM241.4 237.7h1.3v1.3h-1.3zM242.3 232.9h1.3v1.3h-1.3zM236.0 235.7h1.3v1.3h-1.3zM239.8 230.3h1.3v1.3h-1.3zM238.0 234.9h1.3v1.3h-1.3zM238.1 237.0h1.3v1.3h-1.3zM241.2 226.7h1.3v1.3h-1.3zM234.6 232.7h1.3v1.3h-1.3zM237.7 218.4h1.3v1.3h-1.3zM240.8 257.0h1.3v1.3h-1.3zM239.8 236.5h1.3v1.3h-1.3zM235.5 235.8h1.3v1.3h-1.3zM239.4 253.9h1.3v1.3h-1.3zM237.8 231.2h1.3v1.3h-1.3zM241.0 223.2h1.3v1.3h-1.3zM235.3 245.4h1.3v1.3h-1.3zM241.0 246.8h1.3v1.3h-1.3zM241.2 223.0h1.3v1.3h-1.3zM239.0 243.7h1.3v1.3h-1.3zM240.3 223.2h1.3v1.3h-1.3zM241.1 255.5h1.3v1.3h-1.3zM240.2 252.3h1.3v1.3h-1.3zM234.0 254.8h1.3v1.3h-1.3zM239.4 245.1h1.3v1.3h-1.3zM239.0 250.7h1.3v1.3h-1.3zM241.4 252.3h1.3v1.3h-1.3zM240.6 248.2h1.3v1.3h-1.3zM233.6 231.2h1.3v1.3h-1.3zM236.9 250.9h1.3v1.3h-1.3zM233.3 245.8h1.3v1.3h-1.3zM237.1 245.7h1.3v1.3h-1.3zM239.5 225.6h1.3v1.3h-1.3zM237.9 255.9h1.3v1.3h-1.3zM228.6 224.6h1.3v1.3h-1.3zM230.7 246.3h1.3v1.3h-1.3zM237.2 255.0h1.3v1.3h-1.3zM241.6 217.5h1.3v1.3h-1.3zM239.2 231.4h1.3v1.3h-1.3zM238.4 215.1h1.3v1.3h-1.3zM236.9 223.5h1.3v1.3h-1.3zM239.0 233.8h1.3v1.3h-1.3zM239.8 253.2h1.3v1.3h-1.3zM229.9 220.3h1.3v1.3h-1.3zM239.4 258.0h1.3v1.3h-1.3zM236.2 246.7h1.3v1.3h-1.3zM234.3 253.9h1.3v1.3h-1.3zM234.2 250.7h1.3v1.3h-1.3zM242.3 246.6h1.3v1.3h-1.3zM242.2 242.2h1.3v1.3h-1.3zM240.2 238.0h1.3v1.3h-1.3zM234.6 251.3h1.3v1.3h-1.3zM239.4 208.4h1.3v1.3h-1.3zM225.4 226.0h1.3v1.3h-1.3zM237.7 240.4h1.3v1.3h-1.3zM235.1 206.3h1.3v1.3h-1.3zM239.9 209.9h1.3v1.3h-1.3zM239.3 237.2h1.3v1.3h-1.3zM234.4 240.7h1.3v1.3h-1.3zM238.6 255.4h1.3v1.3h-1.3zM234.3 244.0h1.3v1.3h-1.3zM234.6 246.9h1.3v1.3h-1.3zM234.6 243.7h1.3v1.3h-1.3zM237.2 227.7h1.3v1.3h-1.3zM241.4 250.7h1.3v1.3h-1.3zM226.8 193.9h1.3v1.3h-1.3zM234.9 248.7h1.3v1.3h-1.3zM232.6 244.5h1.3v1.3h-1.3zM238.1 222.6h1.3v1.3h-1.3zM237.8 249.1h1.3v1.3h-1.3zM239.3 239.5h1.3v1.3h-1.3zM236.3 238.9h1.3v1.3h-1.3zM237.2 245.8h1.3v1.3h-1.3zM240.5 251.2h1.3v1.3h-1.3zM237.8 241.5h1.3v1.3h-1.3zM222.2 222.8h1.3v1.3h-1.3zM240.1 245.5h1.3v1.3h-1.3zM236.8 255.5h1.3v1.3h-1.3zM222.7 241.3h1.3v1.3h-1.3zM229.4 214.9h1.3v1.3h-1.3zM229.7 227.5h1.3v1.3h-1.3zM242.2 247.6h1.3v1.3h-1.3zM233.9 242.3h1.3v1.3h-1.3zM231.0 252.1h1.3v1.3h-1.3zM242.3 245.9h1.3v1.3h-1.3zM242.3 241.4h1.3v1.3h-1.3zM233.9 240.3h1.3v1.3h-1.3zM236.5 235.4h1.3v1.3h-1.3zM242.5 220.4h1.3v1.3h-1.3zM235.6 245.3h1.3v1.3h-1.3zM237.0 221.0h1.3v1.3h-1.3zM233.3 256.8h1.3v1.3h-1.3zM240.9 233.9h1.3v1.3h-1.3zM241.6 237.8h1.3v1.3h-1.3zM240.7 247.3h1.3v1.3h-1.3zM231.5 230.9h1.3v1.3h-1.3zM242.7 235.2h1.3v1.3h-1.3zM242.1 222.7h1.3v1.3h-1.3zM240.9 251.5h1.3v1.3h-1.3zM221.1 247.2h1.3v1.3h-1.3zM239.9 250.4h1.3v1.3h-1.3zM239.2 242.4h1.3v1.3h-1.3zM233.7 234.8h1.3v1.3h-1.3zM235.9 243.9h1.3v1.3h-1.3zM222.7 222.1h1.3v1.3h-1.3zM235.4 255.3h1.3v1.3h-1.3zM235.6 240.1h1.3v1.3h-1.3zM232.9 243.5h1.3v1.3h-1.3zM242.9 216.6h1.3v1.3h-1.3zM241.8 243.7h1.3v1.3h-1.3zM240.7 258.9h1.3v1.3h-1.3zM241.3 249.8h1.3v1.3h-1.3zM240.6 257.6h1.3v1.3h-1.3zM235.0 252.8h1.3v1.3h-1.3zM241.1 240.8h1.3v1.3h-1.3zM240.8 240.6h1.3v1.3h-1.3zM238.6 244.0h1.3v1.3h-1.3zM232.9 246.1h1.3v1.3h-1.3zM238.9 243.9h1.3v1.3h-1.3zM224.8 231.2h1.3v1.3h-1.3zM227.7 236.8h1.3v1.3h-1.3zM236.1 208.7h1.3v1.3h-1.3zM240.7 241.8h1.3v1.3h-1.3zM238.7 200.1h1.3v1.3h-1.3zM241.4 243.1h1.3v1.3h-1.3zM241.6 247.2h1.3v1.3h-1.3zM240.2 253.0h1.3v1.3h-1.3zM238.1 250.5h1.3v1.3h-1.3zM241.9 251.9h1.3v1.3h-1.3zM233.6 243.2h1.3v1.3h-1.3zM236.3 202.9h1.3v1.3h-1.3zM238.7 221.2h1.3v1.3h-1.3zM239.0 250.7h1.3v1.3h-1.3zM234.3 247.2h1.3v1.3h-1.3zM241.2 236.0h1.3v1.3h-1.3zM231.3 246.6h1.3v1.3h-1.3zM230.0 245.3h1.3v1.3h-1.3zM234.6 234.2h1.3v1.3h-1.3zM235.6 255.4h1.3v1.3h-1.3zM237.2 238.9h1.3v1.3h-1.3zM239.9 248.9h1.3v1.3h-1.3zM241.0 255.6h1.3v1.3h-1.3zM231.2 250.2h1.3v1.3h-1.3zM236.2 233.4h1.3v1.3h-1.3zM240.0 234.2h1.3v1.3h-1.3zM221.3 220.3h1.3v1.3h-1.3zM228.3 252.5h1.3v1.3h-1.3zM237.8 253.3h1.3v1.3h-1.3zM240.7 234.6h1.3v1.3h-1.3zM234.4 223.6h1.3v1.3h-1.3zM241.6 254.7h1.3v1.3h-1.3zM235.2 237.0h1.3v1.3h-1.3zM239.7 252.7h1.3v1.3h-1.3zM231.9 245.0h1.3v1.3h-1.3zM241.4 217.4h1.3v1.3h-1.3zM239.8 244.5h1.3v1.3h-1.3zM238.1 243.1h1.3v1.3h-1.3zM241.7 229.7h1.3v1.3h-1.3zM242.1 231.3h1.3v1.3h-1.3zM242.9 220.7h1.3v1.3h-1.3zM241.5 252.6h1.3v1.3h-1.3zM241.5 252.8h1.3v1.3h-1.3zM234.6 228.3h1.3v1.3h-1.3zM240.7 242.7h1.3v1.3h-1.3zM241.6 246.8h1.3v1.3h-1.3zM238.8 213.2h1.3v1.3h-1.3zM241.1 243.2h1.3v1.3h-1.3zM241.7 237.4h1.3v1.3h-1.3zM238.2 242.5h1.3v1.3h-1.3zM233.1 252.6h1.3v1.3h-1.3zM243.2 192.5h1.3v1.3h-1.3zM238.7 237.2h1.3v1.3h-1.3zM238.1 238.3h1.3v1.3h-1.3zM227.5 226.5h1.3v1.3h-1.3zM241.3 255.0h1.3v1.3h-1.3zM238.5 255.2h1.3v1.3h-1.3zM239.3 249.4h1.3v1.3h-1.3zM237.9 249.7h1.3v1.3h-1.3zM239.9 234.3h1.3v1.3h-1.3zM233.4 214.8h1.3v1.3h-1.3zM239.6 244.5h1.3v1.3h-1.3zM238.5 230.7h1.3v1.3h-1.3zM239.8 216.0h1.3v1.3h-1.3zM226.6 224.9h1.3v1.3h-1.3zM237.3 249.6h1.3v1.3h-1.3zM242.5 241.5h1.3v1.3h-1.3zM235.3 245.9h1.3v1.3h-1.3zM220.4 238.5h1.3v1.3h-1.3zM239.7 253.4h1.3v1.3h-1.3zM233.7 241.2h1.3v1.3h-1.3zM242.3 218.7h1.3v1.3h-1.3zM240.7 232.4h1.3v1.3h-1.3zM240.1 223.6h1.3v1.3h-1.3z"/><path fill="#ee2020" d="M270.2 265.8h1.4v1.4h-1.4zM264.6 229.2h1.4v1.4h-1.4zM272.1 249.1h1.4v1.4h-1.4zM262.8 256.6h1.4v1.4h-1.4zM272.3 254.9h1.4v1.4h-1.4zM289.7 256.2h1.4v1.4h-1.4zM264.7 247.9h1.4v1.4h-1.4zM268.2 263.6h1.4v1.4h-1.4zM266.9 247.6h1.4v1.4h-1.4zM275.9 263.6h1.4v1.4h-1.4zM267.3 254.6h1.4v1.4h-1.4zM265.9 255.4h1.4v1.4h-1.4zM263.5 244.0h1.4v1.4h-1.4zM262.1 249.2h1.4v1.4h-1.4zM261.6 228.9h1.4v1.4h-1.4zM267.2 255.2h1.4v1.4h-1.4zM266.8 241.7h1.4v1.4h-1.4zM262.4 239.2h1.4v1.4h-1.4zM261.9 242.0h1.4v1.4h-1.4zM275.8 262.3h1.4v1.4h-1.4zM263.6 255.1h1.4v1.4h-1.4zM268.4 240.8h1.4v1.4h-1.4zM266.3 256.7h1.4v1.4h-1.4zM268.0 247.5h1.4v1.4h-1.4zM263.3 251.6h1.4v1.4h-1.4zM261.8 246.5h1.4v1.4h-1.4zM271.8 266.3h1.4v1.4h-1.4zM264.8 244.0h1.4v1.4h-1.4zM286.7 257.0h1.4v1.4h-1.4zM261.5 231.9h1.4v1.4h-1.4zM264.6 264.0h1.4v1.4h-1.4zM278.0 231.0h1.4v1.4h-1.4zM267.6 258.1h1.4v1.4h-1.4zM262.1 248.0h1.4v1.4h-1.4zM268.9 265.3h1.4v1.4h-1.4zM262.3 254.5h1.4v1.4h-1.4zM275.6 248.4h1.4v1.4h-1.4zM280.6 262.4h1.4v1.4h-1.4zM265.8 249.4h1.4v1.4h-1.4zM270.8 267.0h1.4v1.4h-1.4zM271.9 265.2h1.4v1.4h-1.4zM263.9 254.6h1.4v1.4h-1.4zM269.4 249.4h1.4v1.4h-1.4zM280.2 260.8h1.4v1.4h-1.4zM264.5 256.4h1.4v1.4h-1.4zM294.2 222.1h1.4v1.4h-1.4z"/><path fill="none" stroke="#4a4a4a" stroke-width="0.8" d="M204.2 271.5 L215.0 271.0 L225.0 270.4 L229.8 269.4 L233.0 268.5 L235.6 267.5 L238.5 265.5 L240.4 263.7 L241.8 261.5 L242.8 258.8 L243.3 250.0 L243.7 230.0 L244.0 200.0 L244.2 183.3"/><path fill="none" stroke="#4a4a4a" stroke-width="0.8" d="M301.6 271.5 L290.8 271.0 L280.8 270.4 L276.0 269.4 L272.8 268.5 L270.2 267.5 L267.3 265.5 L265.4 263.7 L264.0 261.5 L263.0 258.8 L262.5 250.0 L262.1 230.0 L261.8 200.0 L261.6 183.3"/><line x1="203.50" y1="180.60" x2="203.50" y2="278.00" stroke="#231f20" stroke-width="1.2"/><line x1="202.90" y1="277.50" x2="305.00" y2="277.50" stroke="#231f20" stroke-width="1.2"/><line x1="200.40" y1="277.50" x2="203.40" y2="277.50" stroke="#231f20" stroke-width="1"/><text x="197.00" y="280.00" font-size="6.5" text-anchor="end" fill="#231f20" stroke="#231f20" stroke-width="0.12">0</text><line x1="200.40" y1="258.50" x2="203.40" y2="258.50" stroke="#231f20" stroke-width="1"/><text x="197.00" y="261.10" font-size="6.5" text-anchor="end" fill="#231f20" stroke="#231f20" stroke-width="0.12">1</text><line x1="200.40" y1="239.50" x2="203.40" y2="239.50" stroke="#231f20" stroke-width="1"/><text x="197.00" y="242.20" font-size="6.5" text-anchor="end" fill="#231f20" stroke="#231f20" stroke-width="0.12">2</text><line x1="200.40" y1="220.50" x2="203.40" y2="220.50" stroke="#231f20" stroke-width="1"/><text x="197.00" y="223.30" font-size="6.5" text-anchor="end" fill="#231f20" stroke="#231f20" stroke-width="0.12">3</text><line x1="200.40" y1="202.50" x2="203.40" y2="202.50" stroke="#231f20" stroke-width="1"/><text x="197.00" y="204.40" font-size="6.5" text-anchor="end" fill="#231f20" stroke="#231f20" stroke-width="0.12">4</text><line x1="200.40" y1="183.50" x2="203.40" y2="183.50" stroke="#231f20" stroke-width="1"/><text x="197.00" y="185.50" font-size="6.5" text-anchor="end" fill="#231f20" stroke="#231f20" stroke-width="0.12">5</text><line x1="203.50" y1="277.50" x2="203.50" y2="279.50" stroke="#231f20" stroke-width="1"/><text x="203.10" y="290.40" font-size="6.5" text-anchor="middle" fill="#231f20" stroke="#231f20" stroke-width="0.12">−8</text><line x1="215.50" y1="277.50" x2="215.50" y2="279.50" stroke="#231f20" stroke-width="1"/><text x="215.50" y="290.40" font-size="6.5" text-anchor="middle" fill="#231f20" stroke="#231f20" stroke-width="0.12">−6</text><line x1="227.50" y1="277.50" x2="227.50" y2="279.50" stroke="#231f20" stroke-width="1"/><text x="227.90" y="290.40" font-size="6.5" text-anchor="middle" fill="#231f20" stroke="#231f20" stroke-width="0.12">−4</text><line x1="240.50" y1="277.50" x2="240.50" y2="279.50" stroke="#231f20" stroke-width="1"/><text x="240.30" y="290.40" font-size="6.5" text-anchor="middle" fill="#231f20" stroke="#231f20" stroke-width="0.12">−2</text><line x1="252.50" y1="277.50" x2="252.50" y2="279.50" stroke="#231f20" stroke-width="1"/><text x="252.70" y="290.40" font-size="6.5" text-anchor="middle" fill="#231f20" stroke="#231f20" stroke-width="0.12">0</text><line x1="265.50" y1="277.50" x2="265.50" y2="279.50" stroke="#231f20" stroke-width="1"/><text x="265.10" y="290.40" font-size="6.5" text-anchor="middle" fill="#231f20" stroke="#231f20" stroke-width="0.12">2</text><line x1="277.50" y1="277.50" x2="277.50" y2="279.50" stroke="#231f20" stroke-width="1"/><text x="277.50" y="290.40" font-size="6.5" text-anchor="middle" fill="#231f20" stroke="#231f20" stroke-width="0.12">4</text><line x1="289.50" y1="277.50" x2="289.50" y2="279.50" stroke="#231f20" stroke-width="1"/><text x="289.90" y="290.40" font-size="6.5" text-anchor="middle" fill="#231f20" stroke="#231f20" stroke-width="0.12">6</text><line x1="302.50" y1="277.50" x2="302.50" y2="279.50" stroke="#231f20" stroke-width="1"/><text x="302.30" y="290.40" font-size="6.5" text-anchor="middle" fill="#231f20" stroke="#231f20" stroke-width="0.12">8</text><text x="254.60" y="302.00" font-size="8.6" text-anchor="middle" fill="#231f20" font-weight="bold" textLength="29.00" lengthAdjust="spacingAndGlyphs">Difference</text><text x="188.00" y="229.20" font-size="8.6" text-anchor="middle" fill="#231f20" font-weight="bold" textLength="33.60" lengthAdjust="spacingAndGlyphs" transform="rotate(-90 188.00 229.20)">-log p-value</text><text x="323.90" y="184.20" font-size="13.5" text-anchor="start" fill="#000" font-weight="bold">E</text><text x="428.30" y="194.60" font-size="8.1" text-anchor="middle" fill="#231f20" stroke="#231f20" stroke-width="0.12" font-style="italic" textLength="167.50" lengthAdjust="spacingAndGlyphs">Proteins annotated for mitochondrial localization</text><text x="429.10" y="208.20" font-size="7.9" text-anchor="middle" fill="#231f20" stroke="#231f20" stroke-width="0.12">Large T cells</text><text x="483.30" y="208.20" font-size="7.8" text-anchor="middle" fill="#231f20" stroke="#231f20" stroke-width="0.12">Small Tcells</text><rect x="401.80" y="213.20" width="18.90" height="7.99" fill="#f5a0a8"/><rect x="420.10" y="213.20" width="18.80" height="7.99" fill="#f39098"/><rect x="438.30" y="213.20" width="18.10" height="7.99" fill="#f39aa0"/><rect x="456.90" y="213.20" width="18.70" height="7.99" fill="#fdf0f0"/><rect x="475.00" y="213.20" width="18.70" height="7.99" fill="#fce0e2"/><rect x="493.10" y="213.20" width="18.10" height="7.99" fill="#fef8f8"/><text x="398.40" y="219.49" font-size="7.0" text-anchor="end" fill="#231f20" stroke="#231f20" stroke-width="0.12">PARK7</text><rect x="401.80" y="220.59" width="18.90" height="7.99" fill="#e83038"/><rect x="420.10" y="220.59" width="18.80" height="7.99" fill="#e62a32"/><rect x="438.30" y="220.59" width="18.10" height="7.99" fill="#e83038"/><rect x="456.90" y="220.59" width="18.70" height="7.99" fill="#f5b0b5"/><rect x="475.00" y="220.59" width="18.70" height="7.99" fill="#f4a0a8"/><rect x="493.10" y="220.59" width="18.10" height="7.99" fill="#f5a8ae"/><text x="398.40" y="226.88" font-size="7.0" text-anchor="end" fill="#231f20" stroke="#231f20" stroke-width="0.12">TPI1</text><rect x="401.80" y="227.97" width="18.90" height="7.99" fill="#ec5058"/><rect x="420.10" y="227.97" width="18.80" height="7.99" fill="#eb4a52"/><rect x="438.30" y="227.97" width="18.10" height="7.99" fill="#ec5058"/><rect x="456.90" y="227.97" width="18.70" height="7.99" fill="#c8c8e8"/><rect x="475.00" y="227.97" width="18.70" height="7.99" fill="#fdf0f0"/><rect x="493.10" y="227.97" width="18.10" height="7.99" fill="#c0c0e5"/><text x="398.40" y="234.27" font-size="7.0" text-anchor="end" fill="#231f20" stroke="#231f20" stroke-width="0.12">MDH1</text><rect x="401.80" y="235.36" width="18.90" height="7.99" fill="#ea4048"/><rect x="420.10" y="235.36" width="18.80" height="7.99" fill="#ea454d"/><rect x="438.30" y="235.36" width="18.10" height="7.99" fill="#ea454d"/><rect x="456.90" y="235.36" width="18.70" height="7.99" fill="#fefefe"/><rect x="475.00" y="235.36" width="18.70" height="7.99" fill="#f4a0a5"/><rect x="493.10" y="235.36" width="18.10" height="7.99" fill="#f4f4fb"/><text x="398.40" y="241.65" font-size="7.0" text-anchor="end" fill="#231f20" stroke="#231f20" stroke-width="0.12">TKT</text><rect x="401.80" y="242.75" width="18.90" height="7.99" fill="#e83038"/><rect x="420.10" y="242.75" width="18.80" height="7.99" fill="#e6282f"/><rect x="438.30" y="242.75" width="18.10" height="7.99" fill="#e83540"/><rect x="456.90" y="242.75" width="18.70" height="7.99" fill="#f5b0b5"/><rect x="475.00" y="242.75" width="18.70" height="7.99" fill="#f07880"/><rect x="493.10" y="242.75" width="18.10" height="7.99" fill="#fde8e8"/><text x="398.40" y="249.04" font-size="7.0" text-anchor="end" fill="#231f20" stroke="#231f20" stroke-width="0.12">LDHB</text><rect x="401.80" y="250.13" width="18.90" height="7.99" fill="#f8c0c5"/><rect x="420.10" y="250.13" width="18.80" height="7.99" fill="#f5a8ad"/><rect x="438.30" y="250.13" width="18.10" height="7.99" fill="#f8b8bd"/><rect x="456.90" y="250.13" width="18.70" height="7.99" fill="#b8b8e0"/><rect x="475.00" y="250.13" width="18.70" height="7.99" fill="#fce0e0"/><rect x="493.10" y="250.13" width="18.10" height="7.99" fill="#7880c8"/><text x="398.40" y="256.43" font-size="7.0" text-anchor="end" fill="#231f20" stroke="#231f20" stroke-width="0.12">GPI</text><rect x="401.80" y="257.52" width="18.90" height="7.99" fill="#f08088"/><rect x="420.10" y="257.52" width="18.80" height="7.99" fill="#ec5860"/><rect x="438.30" y="257.52" width="18.10" height="7.99" fill="#ee6870"/><rect x="456.90" y="257.52" width="18.70" height="7.99" fill="#fde0e0"/><rect x="475.00" y="257.52" width="18.70" height="7.99" fill="#fbd0d5"/><rect x="493.10" y="257.52" width="18.10" height="7.99" fill="#fde4e6"/><text x="398.40" y="263.81" font-size="7.0" text-anchor="end" fill="#231f20" stroke="#231f20" stroke-width="0.12">SOD1</text><rect x="401.80" y="264.91" width="18.90" height="7.99" fill="#a0a0d5"/><rect x="420.10" y="264.91" width="18.80" height="7.99" fill="#6e72bb"/><rect x="438.30" y="264.91" width="18.10" height="7.99" fill="#a8a8d8"/><rect x="456.90" y="264.91" width="18.70" height="7.99" fill="#4052a8"/><rect x="475.00" y="264.91" width="18.70" height="7.99" fill="#838383"/><rect x="493.10" y="264.91" width="18.10" height="7.99" fill="#4055aa"/><text x="398.40" y="271.20" font-size="7.0" text-anchor="end" fill="#231f20" stroke="#231f20" stroke-width="0.12">TIMM13</text><rect x="401.80" y="272.29" width="18.90" height="7.99" fill="#ececf6"/><rect x="420.10" y="272.29" width="18.80" height="7.99" fill="#a0a0d5"/><rect x="438.30" y="272.29" width="18.10" height="7.99" fill="#eeeef8"/><rect x="456.90" y="272.29" width="18.70" height="7.99" fill="#8890cc"/><rect x="475.00" y="272.29" width="18.70" height="7.99" fill="#6870b8"/><rect x="493.10" y="272.29" width="18.10" height="7.99" fill="#7c84c4"/><text x="398.40" y="278.59" font-size="7.0" text-anchor="end" fill="#231f20" stroke="#231f20" stroke-width="0.12">OCIAD1</text><rect x="401.80" y="279.68" width="18.90" height="7.99" fill="#d0d0eb"/><rect x="420.10" y="279.68" width="18.80" height="7.99" fill="#c0c0e4"/><rect x="438.30" y="279.68" width="18.10" height="7.99" fill="#d8d8ee"/><rect x="456.90" y="279.68" width="18.70" height="7.99" fill="#7c84c4"/><rect x="475.00" y="279.68" width="18.70" height="7.99" fill="#838383"/><rect x="493.10" y="279.68" width="18.10" height="7.99" fill="#9898d0"/><text x="398.40" y="285.97" font-size="7.0" text-anchor="end" fill="#231f20" stroke="#231f20" stroke-width="0.12">ECHDC1</text><rect x="401.80" y="287.07" width="18.90" height="7.99" fill="#ececf6"/><rect x="420.10" y="287.07" width="18.80" height="7.99" fill="#e4e4f2"/><rect x="438.30" y="287.07" width="18.10" height="7.99" fill="#e8e8f4"/><rect x="456.90" y="287.07" width="18.70" height="7.99" fill="#6c74bc"/><rect x="475.00" y="287.07" width="18.70" height="7.99" fill="#6068b8"/><rect x="493.10" y="287.07" width="18.10" height="7.99" fill="#5860b5"/><text x="398.40" y="293.36" font-size="7.0" text-anchor="end" fill="#231f20" stroke="#231f20" stroke-width="0.12">NIT2</text><rect x="401.80" y="294.45" width="18.90" height="7.99" fill="#7c80c4"/><rect x="420.10" y="294.45" width="18.80" height="7.99" fill="#c8c8e8"/><rect x="438.30" y="294.45" width="18.10" height="7.99" fill="#d0d0eb"/><rect x="456.90" y="294.45" width="18.70" height="7.99" fill="#6068b8"/><rect x="475.00" y="294.45" width="18.70" height="7.99" fill="#838383"/><rect x="493.10" y="294.45" width="18.10" height="7.99" fill="#8890cc"/><text x="398.40" y="300.75" font-size="7.0" text-anchor="end" fill="#231f20" stroke="#231f20" stroke-width="0.12">HDHD3</text><rect x="401.80" y="301.84" width="18.90" height="7.99" fill="#c0c0e4"/><rect x="420.10" y="301.84" width="18.80" height="7.99" fill="#c8c8e8"/><rect x="438.30" y="301.84" width="18.10" height="7.99" fill="#a8a8d8"/><rect x="456.90" y="301.84" width="18.70" height="7.99" fill="#7078bf"/><rect x="475.00" y="301.84" width="18.70" height="7.99" fill="#6068b8"/><rect x="493.10" y="301.84" width="18.10" height="7.99" fill="#6068b8"/><text x="398.40" y="308.13" font-size="7.0" text-anchor="end" fill="#231f20" stroke="#231f20" stroke-width="0.12">TSTD1</text><rect x="401.80" y="309.23" width="18.90" height="7.99" fill="#e8e8f4"/><rect x="420.10" y="309.23" width="18.80" height="7.99" fill="#f4f4fa"/><rect x="438.30" y="309.23" width="18.10" height="7.99" fill="#ececf6"/><rect x="456.90" y="309.23" width="18.70" height="7.99" fill="#838383"/><rect x="475.00" y="309.23" width="18.70" height="7.99" fill="#838383"/><rect x="493.10" y="309.23" width="18.10" height="7.99" fill="#838383"/><text x="398.40" y="315.52" font-size="7.0" text-anchor="end" fill="#231f20" stroke="#231f20" stroke-width="0.12">APOA1BP</text><rect x="401.80" y="316.61" width="18.90" height="7.99" fill="#9898d0"/><rect x="420.10" y="316.61" width="18.80" height="7.99" fill="#9090cc"/><rect x="438.30" y="316.61" width="18.10" height="7.99" fill="#c8c8e8"/><rect x="456.90" y="316.61" width="18.70" height="7.99" fill="#4a58ae"/><rect x="475.00" y="316.61" width="18.70" height="7.99" fill="#4a58ae"/><rect x="493.10" y="316.61" width="18.10" height="7.99" fill="#4a58ae"/><text x="398.40" y="322.91" font-size="7.0" text-anchor="end" fill="#231f20" stroke="#231f20" stroke-width="0.12">CARKD</text><rect x="401.80" y="324.00" width="18.90" height="7.99" fill="#c8c8e8"/><rect x="420.10" y="324.00" width="18.80" height="7.99" fill="#d8d8ee"/><rect x="438.30" y="324.00" width="18.10" height="7.99" fill="#c0c0e4"/><rect x="456.90" y="324.00" width="18.70" height="7.99" fill="#5560b0"/><rect x="475.00" y="324.00" width="18.70" height="7.99" fill="#4c58ae"/><rect x="493.10" y="324.00" width="18.10" height="7.99" fill="#4c58ae"/><text x="398.40" y="330.29" font-size="7.0" text-anchor="end" fill="#231f20" stroke="#231f20" stroke-width="0.12">CCDC58</text><rect x="401.80" y="331.39" width="18.90" height="7.99" fill="#f0f0f8"/><rect x="420.10" y="331.39" width="18.80" height="7.99" fill="#e0e0f0"/><rect x="438.30" y="331.39" width="18.10" height="7.99" fill="#f4f4fa"/><rect x="456.90" y="331.39" width="18.70" height="7.99" fill="#8890cc"/><rect x="475.00" y="331.39" width="18.70" height="7.99" fill="#9098d0"/><rect x="493.10" y="331.39" width="18.10" height="7.99" fill="#7880c4"/><text x="398.40" y="337.68" font-size="7.0" text-anchor="end" fill="#231f20" stroke="#231f20" stroke-width="0.12">FDPS</text><rect x="401.80" y="338.77" width="18.90" height="7.99" fill="#9c9cd2"/><rect x="420.10" y="338.77" width="18.80" height="7.99" fill="#ffffff"/><rect x="438.30" y="338.77" width="18.10" height="7.99" fill="#a8a8d8"/><rect x="456.90" y="338.77" width="18.70" height="7.99" fill="#838383"/><rect x="475.00" y="338.77" width="18.70" height="7.99" fill="#7078bf"/><rect x="493.10" y="338.77" width="18.10" height="7.99" fill="#838383"/><text x="398.40" y="345.07" font-size="7.0" text-anchor="end" fill="#231f20" stroke="#231f20" stroke-width="0.12">DBI</text><rect x="401.80" y="346.16" width="18.90" height="7.99" fill="#d0d0eb"/><rect x="420.10" y="346.16" width="18.80" height="7.99" fill="#7c80c4"/><rect x="438.30" y="346.16" width="18.10" height="7.99" fill="#d8d8ee"/><rect x="456.90" y="346.16" width="18.70" height="7.99" fill="#8088c8"/><rect x="475.00" y="346.16" width="18.70" height="7.99" fill="#838383"/><rect x="493.10" y="346.16" width="18.10" height="7.99" fill="#4a58ae"/><text x="398.40" y="352.45" font-size="7.0" text-anchor="end" fill="#231f20" stroke="#231f20" stroke-width="0.12">CBR3</text><rect x="401.80" y="353.55" width="18.90" height="7.99" fill="#c0c0e4"/><rect x="420.10" y="353.55" width="18.80" height="7.99" fill="#c0c0e4"/><rect x="438.30" y="353.55" width="18.10" height="7.99" fill="#d8d8ee"/><rect x="456.90" y="353.55" width="18.70" height="7.99" fill="#5058b0"/><rect x="475.00" y="353.55" width="18.70" height="7.99" fill="#4c56ae"/><rect x="493.10" y="353.55" width="18.10" height="7.99" fill="#5c64b5"/><text x="398.40" y="359.84" font-size="7.0" text-anchor="end" fill="#231f20" stroke="#231f20" stroke-width="0.12">HAGH</text><rect x="401.80" y="360.93" width="18.90" height="7.99" fill="#fde0e0"/><rect x="420.10" y="360.93" width="18.80" height="7.99" fill="#d8d8ee"/><rect x="438.30" y="360.93" width="18.10" height="7.99" fill="#f8f8fc"/><rect x="456.90" y="360.93" width="18.70" height="7.99" fill="#a8a8d8"/><rect x="475.00" y="360.93" width="18.70" height="7.99" fill="#a8a8d8"/><rect x="493.10" y="360.93" width="18.10" height="7.99" fill="#8c90cc"/><text x="398.40" y="367.23" font-size="7.0" text-anchor="end" fill="#231f20" stroke="#231f20" stroke-width="0.12">AK2</text><rect x="401.80" y="368.32" width="18.90" height="7.99" fill="#c0c0e4"/><rect x="420.10" y="368.32" width="18.80" height="7.99" fill="#9898d0"/><rect x="438.30" y="368.32" width="18.10" height="7.99" fill="#c8c8e8"/><rect x="456.90" y="368.32" width="18.70" height="7.99" fill="#6068b8"/><rect x="475.00" y="368.32" width="18.70" height="7.99" fill="#838383"/><rect x="493.10" y="368.32" width="18.10" height="7.99" fill="#838383"/><text x="398.40" y="374.61" font-size="7.0" text-anchor="end" fill="#231f20" stroke="#231f20" stroke-width="0.12">TXNRD1</text><rect x="401.80" y="375.71" width="18.90" height="7.99" fill="#f8c0c5"/><rect x="420.10" y="375.71" width="18.80" height="7.99" fill="#fdeeee"/><rect x="438.30" y="375.71" width="18.10" height="7.99" fill="#f4a0a4"/><rect x="456.90" y="375.71" width="18.70" height="7.99" fill="#a0a0d5"/><rect x="475.00" y="375.71" width="18.70" height="7.99" fill="#b8b8e0"/><rect x="493.10" y="375.71" width="18.10" height="7.99" fill="#9c9cd2"/><text x="398.40" y="382.00" font-size="7.0" text-anchor="end" fill="#231f20" stroke="#231f20" stroke-width="0.12">EPHX2</text><rect x="401.80" y="383.09" width="18.90" height="7.99" fill="#4a58ae"/><rect x="420.10" y="383.09" width="18.80" height="7.99" fill="#4a58ae"/><rect x="438.30" y="383.09" width="18.10" height="7.99" fill="#838383"/><rect x="456.90" y="383.09" width="18.70" height="7.99" fill="#7078bf"/><rect x="475.00" y="383.09" width="18.70" height="7.99" fill="#6068b8"/><rect x="493.10" y="383.09" width="18.10" height="7.99" fill="#9c9cd2"/><text x="398.40" y="389.39" font-size="7.0" text-anchor="end" fill="#231f20" stroke="#231f20" stroke-width="0.12">TIMM9</text><rect x="401.80" y="390.48" width="18.90" height="7.99" fill="#7078bf"/><rect x="420.10" y="390.48" width="18.80" height="7.99" fill="#7078bf"/><rect x="438.30" y="390.48" width="18.10" height="7.99" fill="#6870b8"/><rect x="456.90" y="390.48" width="18.70" height="7.99" fill="#838383"/><rect x="475.00" y="390.48" width="18.70" height="7.99" fill="#838383"/><rect x="493.10" y="390.48" width="18.10" height="7.99" fill="#838383"/><text x="398.40" y="396.77" font-size="7.0" text-anchor="end" fill="#231f20" stroke="#231f20" stroke-width="0.12">COA6</text><rect x="401.80" y="397.87" width="18.90" height="7.99" fill="#838383"/><rect x="420.10" y="397.87" width="18.80" height="7.99" fill="#b8b8e0"/><rect x="438.30" y="397.87" width="18.10" height="7.99" fill="#838383"/><rect x="456.90" y="397.87" width="18.70" height="7.99" fill="#b0b0dc"/><rect x="475.00" y="397.87" width="18.70" height="7.99" fill="#e0e0f0"/><rect x="493.10" y="397.87" width="18.10" height="7.99" fill="#e8e8f4"/><text x="398.40" y="404.16" font-size="7.0" text-anchor="end" fill="#231f20" stroke="#231f20" stroke-width="0.12">SLC25A6</text><rect x="401.80" y="405.25" width="18.90" height="7.99" fill="#838383"/><rect x="420.10" y="405.25" width="18.80" height="7.99" fill="#7c80c4"/><rect x="438.30" y="405.25" width="18.10" height="7.99" fill="#838383"/><rect x="456.90" y="405.25" width="18.70" height="7.99" fill="#a8a8d8"/><rect x="475.00" y="405.25" width="18.70" height="7.99" fill="#c8c8e8"/><rect x="493.10" y="405.25" width="18.10" height="7.99" fill="#a0a0d5"/><text x="398.40" y="411.55" font-size="7.0" text-anchor="end" fill="#231f20" stroke="#231f20" stroke-width="0.12">CYB5R3</text><rect x="401.80" y="412.64" width="18.90" height="7.99" fill="#838383"/><rect x="420.10" y="412.64" width="18.80" height="7.99" fill="#7078bf"/><rect x="438.30" y="412.64" width="18.10" height="7.99" fill="#4a58ae"/><rect x="456.90" y="412.64" width="18.70" height="7.99" fill="#9898d0"/><rect x="475.00" y="412.64" width="18.70" height="7.99" fill="#6c74bc"/><rect x="493.10" y="412.64" width="18.10" height="7.99" fill="#e0e0f0"/><text x="398.40" y="418.93" font-size="7.0" text-anchor="end" fill="#231f20" stroke="#231f20" stroke-width="0.12">COX7C</text><rect x="401.80" y="420.03" width="18.90" height="7.99" fill="#4a58ae"/><rect x="420.10" y="420.03" width="18.80" height="7.99" fill="#8c90cc"/><rect x="438.30" y="420.03" width="18.10" height="7.99" fill="#838383"/><rect x="456.90" y="420.03" width="18.70" height="7.99" fill="#a0a0d5"/><rect x="475.00" y="420.03" width="18.70" height="7.99" fill="#c8c8e8"/><rect x="493.10" y="420.03" width="18.10" height="7.99" fill="#c0c0e4"/><text x="398.40" y="426.32" font-size="7.0" text-anchor="end" fill="#231f20" stroke="#231f20" stroke-width="0.12">NDUFA6</text><rect x="401.80" y="427.41" width="18.90" height="7.39" fill="#838383"/><rect x="420.10" y="427.41" width="18.80" height="7.39" fill="#4a58ae"/><rect x="438.30" y="427.41" width="18.10" height="7.39" fill="#838383"/><rect x="456.90" y="427.41" width="18.70" height="7.39" fill="#4a58ae"/><rect x="475.00" y="427.41" width="18.70" height="7.39" fill="#9898d0"/><rect x="493.10" y="427.41" width="18.10" height="7.39" fill="#a0a0d5"/><text x="398.40" y="433.71" font-size="7.0" text-anchor="end" fill="#231f20" stroke="#231f20" stroke-width="0.12">CS</text><line x1="362.50" y1="216.20" x2="362.50" y2="260.80" stroke="#231f20" stroke-width="0.9"/><line x1="344.90" y1="224.50" x2="362.30" y2="224.50" stroke="#231f20" stroke-width="0.9"/><line x1="344.50" y1="223.80" x2="344.50" y2="334.20" stroke="#231f20" stroke-width="0.9"/><line x1="344.50" y1="334.50" x2="355.70" y2="334.50" stroke="#231f20" stroke-width="0.9"/><line x1="355.50" y1="275.40" x2="355.50" y2="394.30" stroke="#231f20" stroke-width="0.9"/><line x1="355.30" y1="275.50" x2="362.30" y2="275.50" stroke="#231f20" stroke-width="0.9"/><line x1="362.50" y1="268.90" x2="362.50" y2="380.00" stroke="#231f20" stroke-width="0.9"/><line x1="355.30" y1="394.50" x2="362.30" y2="394.50" stroke="#231f20" stroke-width="0.9"/><line x1="362.50" y1="388.50" x2="362.50" y2="431.20" stroke="#231f20" stroke-width="0.9"/><rect x="401.80" y="448.80" width="62.00" height="5.80" fill="url(#cbar)"/><text x="405.50" y="445.20" font-size="6.4" text-anchor="middle" fill="#231f20" stroke="#231f20" stroke-width="0.12">27</text><text x="432.50" y="445.20" font-size="6.4" text-anchor="middle" fill="#231f20" stroke="#231f20" stroke-width="0.12">32</text><text x="460.00" y="445.20" font-size="6.4" text-anchor="middle" fill="#231f20" stroke="#231f20" stroke-width="0.12">37</text><text x="432.50" y="462.70" font-size="6.6" text-anchor="middle" fill="#231f20" stroke="#231f20" stroke-width="0.12">LFQ intensity</text><text x="7.90" y="333.00" font-size="13.5" text-anchor="start" fill="#000" font-weight="bold">F</text><line x1="50.50" y1="338.70" x2="50.50" y2="454.70" stroke="#231f20" stroke-width="1.2"/><line x1="50.30" y1="454.50" x2="113.50" y2="454.50" stroke="#231f20" stroke-width="1.2"/><line x1="48.80" y1="454.50" x2="50.80" y2="454.50" stroke="#231f20" stroke-width="1"/><text x="44.40" y="456.70" font-size="7.0" text-anchor="end" fill="#231f20" stroke="#231f20" stroke-width="0.12">0</text><line x1="48.80" y1="421.50" x2="50.80" y2="421.50" stroke="#231f20" stroke-width="1"/><text x="44.40" y="423.60" font-size="7.0" text-anchor="end" fill="#231f20" stroke="#231f20" stroke-width="0.12">200</text><line x1="48.80" y1="388.50" x2="50.80" y2="388.50" stroke="#231f20" stroke-width="1"/><text x="44.40" y="390.50" font-size="7.0" text-anchor="end" fill="#231f20" stroke="#231f20" stroke-width="0.12">400</text><line x1="48.80" y1="354.50" x2="50.80" y2="354.50" stroke="#231f20" stroke-width="1"/><text x="44.40" y="357.40" font-size="7.0" text-anchor="end" fill="#231f20" stroke="#231f20" stroke-width="0.12">600</text><rect x="56.00" y="363.17" width="8.90" height="91.03" fill="#4b2367"/><line x1="60.50" y1="363.17" x2="60.50" y2="357.88" stroke="#231f20" stroke-width="1"/><line x1="58.45" y1="357.50" x2="62.45" y2="357.50" stroke="#231f20" stroke-width="1.1"/><line x1="60.50" y1="454.20" x2="60.50" y2="456.80" stroke="#231f20" stroke-width="1"/><rect x="70.60" y="358.21" width="8.90" height="95.99" fill="#2a4a80"/><line x1="75.50" y1="358.21" x2="75.50" y2="352.75" stroke="#231f20" stroke-width="1"/><line x1="73.05" y1="352.50" x2="77.05" y2="352.50" stroke="#231f20" stroke-width="1.1"/><line x1="75.50" y1="454.20" x2="75.50" y2="456.80" stroke="#231f20" stroke-width="1"/><rect x="85.00" y="376.75" width="8.90" height="77.45" fill="#6aab45"/><line x1="89.50" y1="376.75" x2="89.50" y2="355.56" stroke="#231f20" stroke-width="1"/><line x1="87.45" y1="355.50" x2="91.45" y2="355.50" stroke="#231f20" stroke-width="1.1"/><line x1="89.50" y1="454.20" x2="89.50" y2="456.80" stroke="#231f20" stroke-width="1"/><rect x="99.60" y="453.04" width="8.90" height="1.16" fill="#a8182c"/><line x1="104.50" y1="453.04" x2="104.50" y2="452.21" stroke="#231f20" stroke-width="1"/><line x1="102.05" y1="452.50" x2="106.05" y2="452.50" stroke="#231f20" stroke-width="1.1"/><line x1="104.50" y1="454.20" x2="104.50" y2="456.80" stroke="#231f20" stroke-width="1"/><line x1="60.40" y1="338.50" x2="104.20" y2="338.50" stroke="#231f20" stroke-width="1"/><text x="82.00" y="337.70" font-size="4.6" text-anchor="middle" fill="#231f20" stroke="#231f20" stroke-width="0.12">***</text><line x1="75.20" y1="345.50" x2="104.20" y2="345.50" stroke="#231f20" stroke-width="1"/><text x="89.20" y="344.40" font-size="4.6" text-anchor="middle" fill="#231f20" stroke="#231f20" stroke-width="0.12">***</text><line x1="90.20" y1="351.50" x2="104.20" y2="351.50" stroke="#231f20" stroke-width="1"/><text x="96.90" y="350.70" font-size="4.6" text-anchor="middle" fill="#231f20" stroke="#231f20" stroke-width="0.12">*</text><text x="27.40" y="396.40" font-size="8.6" text-anchor="middle" fill="#231f20" font-weight="bold" textLength="55.80" lengthAdjust="spacingAndGlyphs" transform="rotate(-90 27.40 396.40)">pmol ATP / 10<tspan font-size="5" dy="-2.8">6</tspan><tspan dy="2.8"> cells</tspan></text><text x="65.05" y="464.80" font-size="6.8" text-anchor="end" fill="#231f20" stroke="#231f20" stroke-width="0.12" transform="rotate(-45 65.05 464.80)">unstim. T cells</text><text x="79.65" y="464.80" font-size="6.8" text-anchor="end" fill="#231f20" stroke="#231f20" stroke-width="0.12" transform="rotate(-45 79.65 464.80)">stim. T cells</text><text x="94.05" y="464.80" font-size="6.8" text-anchor="end" fill="#231f20" stroke="#231f20" stroke-width="0.12" transform="rotate(-45 94.05 464.80)">large T cells</text><text x="108.65" y="464.80" font-size="6.8" text-anchor="end" fill="#231f20" stroke="#231f20" stroke-width="0.12" transform="rotate(-45 108.65 464.80)">small T cells</text><text x="170.20" y="333.00" font-size="13.5" text-anchor="start" fill="#000" font-weight="bold">G</text><rect x="190.40" y="336.80" width="66.30" height="66.40" fill="#000"/><rect x="260.90" y="336.80" width="67.00" height="66.40" fill="#000"/><rect x="190.40" y="406.80" width="66.00" height="67.00" fill="#000"/><rect x="260.90" y="406.80" width="67.00" height="67.00" fill="#000"/><text x="186.20" y="370.00" font-size="6.7" text-anchor="middle" fill="#231f20" stroke="#231f20" stroke-width="0.12" transform="rotate(-90 186.20 370.00)">Large T cells</text><text x="186.20" y="440.00" font-size="6.7" text-anchor="middle" fill="#231f20" stroke="#231f20" stroke-width="0.12" transform="rotate(-90 186.20 440.00)">Small T cells</text><text x="223.80" y="484.40" font-size="6.7" text-anchor="middle" fill="#58ab40" stroke="#58ab40" stroke-width="0.12">Mitotracker</text><text x="223.80" y="492.80" font-size="6.7" text-anchor="middle" fill="#58ab40" stroke="#58ab40" stroke-width="0.12">Green</text><text x="294.60" y="484.40" font-size="6.7" text-anchor="middle" fill="#4a44a8" stroke="#4a44a8" stroke-width="0.12">Hoechst</text><circle cx="247.5" cy="353.4" r="5.0" fill="url(#gl5)"/><circle cx="223.6" cy="369.5" r="6.6" fill="url(#gl6)"/><circle cx="202.0" cy="395.1" r="5.2" fill="url(#gl7)"/><circle cx="318.4" cy="355.3" r="4.2" fill="url(#gl8)"/><circle cx="294.5" cy="369.5" r="5.0" fill="url(#gl9)"/><circle cx="271.6" cy="394.7" r="4.2" fill="url(#gl10)"/><circle cx="227.7" cy="440.0" r="3.4" fill="url(#gl11)"/><circle cx="242.5" cy="432.3" r="3.4" fill="url(#gl12)"/><circle cx="244.6" cy="439.0" r="3.6" fill="url(#gl13)"/><circle cx="298.5" cy="440.3" r="4.4" fill="url(#gl14)"/><circle cx="313.0" cy="432.3" r="4.0" fill="url(#gl15)"/><circle cx="314.5" cy="439.4" r="4.0" fill="url(#gl16)"/><text x="7.90" y="523.00" font-size="13.5" text-anchor="start" fill="#000" font-weight="bold">H</text><text x="29.80" y="566.80" font-size="6.8" text-anchor="middle" fill="#231f20" stroke="#231f20" stroke-width="0.12" transform="rotate(-90 29.80 566.80)">Large T cells</text><text x="29.80" y="648.40" font-size="6.8" text-anchor="middle" fill="#231f20" stroke="#231f20" stroke-width="0.12" transform="rotate(-90 29.80 648.40)">Small T cells</text><clipPath id="emc0"><rect x="34.6" y="526.7" width="77.4" height="79.1"/></clipPath><clipPath id="emc1"><rect x="114.7" y="526.7" width="78.2" height="79.1"/></clipPath><clipPath id="emc2"><rect x="194.9" y="526.7" width="76.9" height="79.1"/></clipPath><clipPath id="emc3"><rect x="34.6" y="608.6" width="77.4" height="79.4"/></clipPath><clipPath id="emc4"><rect x="114.7" y="608.6" width="78.2" height="79.4"/></clipPath><clipPath id="emc5"><rect x="194.9" y="608.6" width="76.9" height="79.4"/></clipPath><g clip-path="url(#emc0)"><rect x="34.6" y="526.7" width="77.4" height="79.1" fill="#d4d4d4"/><ellipse cx="50" cy="535" rx="20" ry="12" fill="#e0e0e0"/><ellipse cx="102.4" cy="528.3" rx="9" ry="5" fill="#3a3a3a"/><ellipse cx="47.7" cy="604" rx="8" ry="4.5" fill="#3a3a3a"/><g filter="url(#wob)"><ellipse cx="73.8" cy="564.5" rx="36" ry="35.5" fill="#7a7a7a" stroke="#5a5a5a" stroke-width="0.8" filter="url(#ct)" transform="rotate(0 73.8 564.5)"/><circle cx="48" cy="553" r="3.2" fill="#cfcfcf" stroke="#6a6a6a" stroke-width="0.9" filter="url(#ct)"/><circle cx="97" cy="588" r="2.5" fill="#cfcfcf" stroke="#6a6a6a" stroke-width="0.9" filter="url(#ct)"/><circle cx="105" cy="546" r="2.2" fill="#cfcfcf" stroke="#6a6a6a" stroke-width="0.9" filter="url(#ct)"/><ellipse cx="64" cy="583" rx="6" ry="5" fill="#7a7a7a" stroke="#5a5a5a" stroke-width="0.8" filter="url(#ct)" transform="rotate(0 64 583)"/></g><g filter="url(#wob2)"><ellipse cx="80.7" cy="563.6" rx="22" ry="25.5" fill="#262626" stroke="#1c1c1c" stroke-width="1.3" filter="url(#nt)" transform="rotate(10 80.7 563.6)"/></g></g><g clip-path="url(#emc1)"><rect x="114.7" y="526.7" width="78.2" height="79.1" fill="#d8d8d8"/><path d="M176 530 Q179 525 182 530 L182.5 545 Q186 552 184.5 562 Q182 568 176 564 Q170 556 168.5 546 Q169 541 175.5 541 Z" fill="#5c5c5c"/><g filter="url(#wob)"><ellipse cx="141.7" cy="551.4" rx="21.5" ry="20.5" fill="#7c7c7c" stroke="#5a5a5a" stroke-width="0.8" filter="url(#ct)" transform="rotate(0 141.7 551.4)"/><ellipse cx="154.8" cy="585.2" rx="14.5" ry="13.5" fill="#8e8e8e" stroke="#5a5a5a" stroke-width="0.8" filter="url(#ct)" transform="rotate(0 154.8 585.2)"/></g><g filter="url(#wob2)"><ellipse cx="139.4" cy="551.4" rx="15.5" ry="14.5" fill="#262626" stroke="#1c1c1c" stroke-width="1.3" filter="url(#nt)" transform="rotate(0 139.4 551.4)"/><ellipse cx="150.9" cy="583.7" rx="7.5" ry="8.5" fill="#222" stroke="#b0b0b0" stroke-width="0.7" filter="url(#nt2)" transform="rotate(0 150.9 583.7)"/></g></g><g clip-path="url(#emc2)"><rect x="194.9" y="526.7" width="76.9" height="79.1" fill="#dcdcdc"/><path d="M194.9 526.7 L210 526.7 Q203 535 200 550 Q199 570 203 586 L194.9 588 Z" fill="#3a3a3a"/><path d="M244 526.7 L258 526.7 L257.5 541 Q252 541 248 535 Z" fill="#363636"/><g filter="url(#wob)"><ellipse cx="238.6" cy="567.5" rx="25.5" ry="27" fill="#808080" stroke="#5a5a5a" stroke-width="0.8" filter="url(#ct)" transform="rotate(0 238.6 567.5)"/><circle cx="257" cy="562" r="2.6" fill="#cfcfcf" stroke="#6a6a6a" stroke-width="0.9" filter="url(#ct)"/><circle cx="258" cy="572" r="2.4" fill="#cfcfcf" stroke="#6a6a6a" stroke-width="0.9" filter="url(#ct)"/></g><g filter="url(#wob2)"><ellipse cx="234.8" cy="567.5" rx="18.5" ry="21" fill="#262626" stroke="#1c1c1c" stroke-width="1.3" filter="url(#nt)" transform="rotate(0 234.8 567.5)"/></g></g><g clip-path="url(#emc3)"><rect x="34.6" y="608.6" width="77.4" height="79.4" fill="#d8d8d8"/><path d="M34.6 608.6 L56 608.6 L34.6 616 Z" fill="#555"/><path d="M86 688 L112 676 L112 688 Z" fill="#555"/><ellipse cx="36" cy="675" rx="4" ry="5" fill="#555"/><g filter="url(#wob)"><ellipse cx="72.5" cy="648" rx="30" ry="28" fill="#8a8a8a" stroke="#5a5a5a" stroke-width="0.8" filter="url(#ct)" transform="rotate(0 72.5 648)"/><circle cx="61" cy="680" r="3" fill="#cfcfcf" stroke="#6a6a6a" stroke-width="0.9" filter="url(#ct)"/><circle cx="76" cy="682" r="3" fill="#cfcfcf" stroke="#6a6a6a" stroke-width="0.9" filter="url(#ct)"/><circle cx="103" cy="645" r="2.5" fill="#cfcfcf" stroke="#6a6a6a" stroke-width="0.9" filter="url(#ct)"/><circle cx="44" cy="642" r="2.5" fill="#cfcfcf" stroke="#6a6a6a" stroke-width="0.9" filter="url(#ct)"/></g><g filter="url(#wob2)"><ellipse cx="70.5" cy="634.6" rx="16" ry="8.5" fill="#262626" stroke="#b0b0b0" stroke-width="0.7" filter="url(#nt2)" transform="rotate(5 70.5 634.6)"/><ellipse cx="87.2" cy="652" rx="5.5" ry="6.5" fill="#262626" stroke="#b0b0b0" stroke-width="0.7" filter="url(#nt2)" transform="rotate(0 87.2 652)"/><ellipse cx="72" cy="662" rx="9" ry="6" fill="#262626" stroke="#b0b0b0" stroke-width="0.7" filter="url(#nt2)" transform="rotate(0 72 662)"/></g></g><g clip-path="url(#emc4)"><rect x="114.7" y="608.6" width="78.2" height="79.4" fill="#d6d6d6"/><ellipse cx="119.4" cy="678" rx="6.5" ry="10" fill="#333"/><ellipse cx="192" cy="674" rx="4" ry="10" fill="#444"/><g filter="url(#wob)"><ellipse cx="154.8" cy="645.7" rx="23" ry="23" fill="#7a7a7a" stroke="#5a5a5a" stroke-width="0.8" filter="url(#ct)" transform="rotate(0 154.8 645.7)"/><circle cx="137" cy="617" r="3.5" fill="#cfcfcf" stroke="#6a6a6a" stroke-width="0.9" filter="url(#ct)"/><circle cx="128" cy="641" r="2.5" fill="#cfcfcf" stroke="#6a6a6a" stroke-width="0.9" filter="url(#ct)"/><circle cx="133" cy="668" r="2.5" fill="#cfcfcf" stroke="#6a6a6a" stroke-width="0.9" filter="url(#ct)"/><circle cx="166" cy="673" r="2.2" fill="#cfcfcf" stroke="#6a6a6a" stroke-width="0.9" filter="url(#ct)"/><circle cx="179" cy="661" r="2.2" fill="#cfcfcf" stroke="#6a6a6a" stroke-width="0.9" filter="url(#ct)"/></g><g filter="url(#wob2)"><ellipse cx="147" cy="645" rx="10.5" ry="13" fill="#1e1e1e" stroke="#b0b0b0" stroke-width="0.7" filter="url(#nt2)" transform="rotate(0 147 645)"/><ellipse cx="166.3" cy="638" rx="9" ry="12" fill="#1e1e1e" stroke="#b0b0b0" stroke-width="0.7" filter="url(#nt2)" transform="rotate(0 166.3 638)"/></g></g><g clip-path="url(#emc5)"><rect x="194.9" y="608.6" width="76.9" height="79.4" fill="#b4b4b4"/><path d="M194.9 608.6 L211 608.6 L194.9 625 Z" fill="#303030"/><g filter="url(#wob)"><path d="M194.9 656 Q215 652 234 660 L237 688 L194.9 688 Z" fill="#7e7e7e" filter="url(#ct)"/><path d="M234 660 Q250 650 272 652 L272 688 L237 688 Z" fill="#a0a0a0" filter="url(#ct)"/><ellipse cx="230.2" cy="630.3" rx="20" ry="19" fill="#6e6e6e" stroke="#5a5a5a" stroke-width="0.8" filter="url(#ct)" transform="rotate(0 230.2 630.3)"/><circle cx="203" cy="645" r="2.8" fill="#cfcfcf" stroke="#6a6a6a" stroke-width="0.9" filter="url(#ct)"/></g><g filter="url(#wob2)"><ellipse cx="229.4" cy="624.2" rx="14" ry="10" fill="#1a1a1a" stroke="#b0b0b0" stroke-width="0.7" filter="url(#nt2)" transform="rotate(0 229.4 624.2)"/><ellipse cx="231.7" cy="639.5" rx="4" ry="4" fill="#1a1a1a" stroke="#b0b0b0" stroke-width="0.7" filter="url(#nt2)" transform="rotate(0 231.7 639.5)"/></g></g><rect x="1.5" y="1.5" width="517" height="693" fill="none" stroke="#dcdcdc" stroke-width="1"/><path d="M518.5 1 V695" stroke="#b0b0b0" stroke-width="1"/><path d="M1 694.5 H519" stroke="#a0a0a0" stroke-width="1"/><rect x="0.5" y="0.5" width="519" height="695" fill="none" stroke="#000" stroke-width="1"/></svg></body></html>
